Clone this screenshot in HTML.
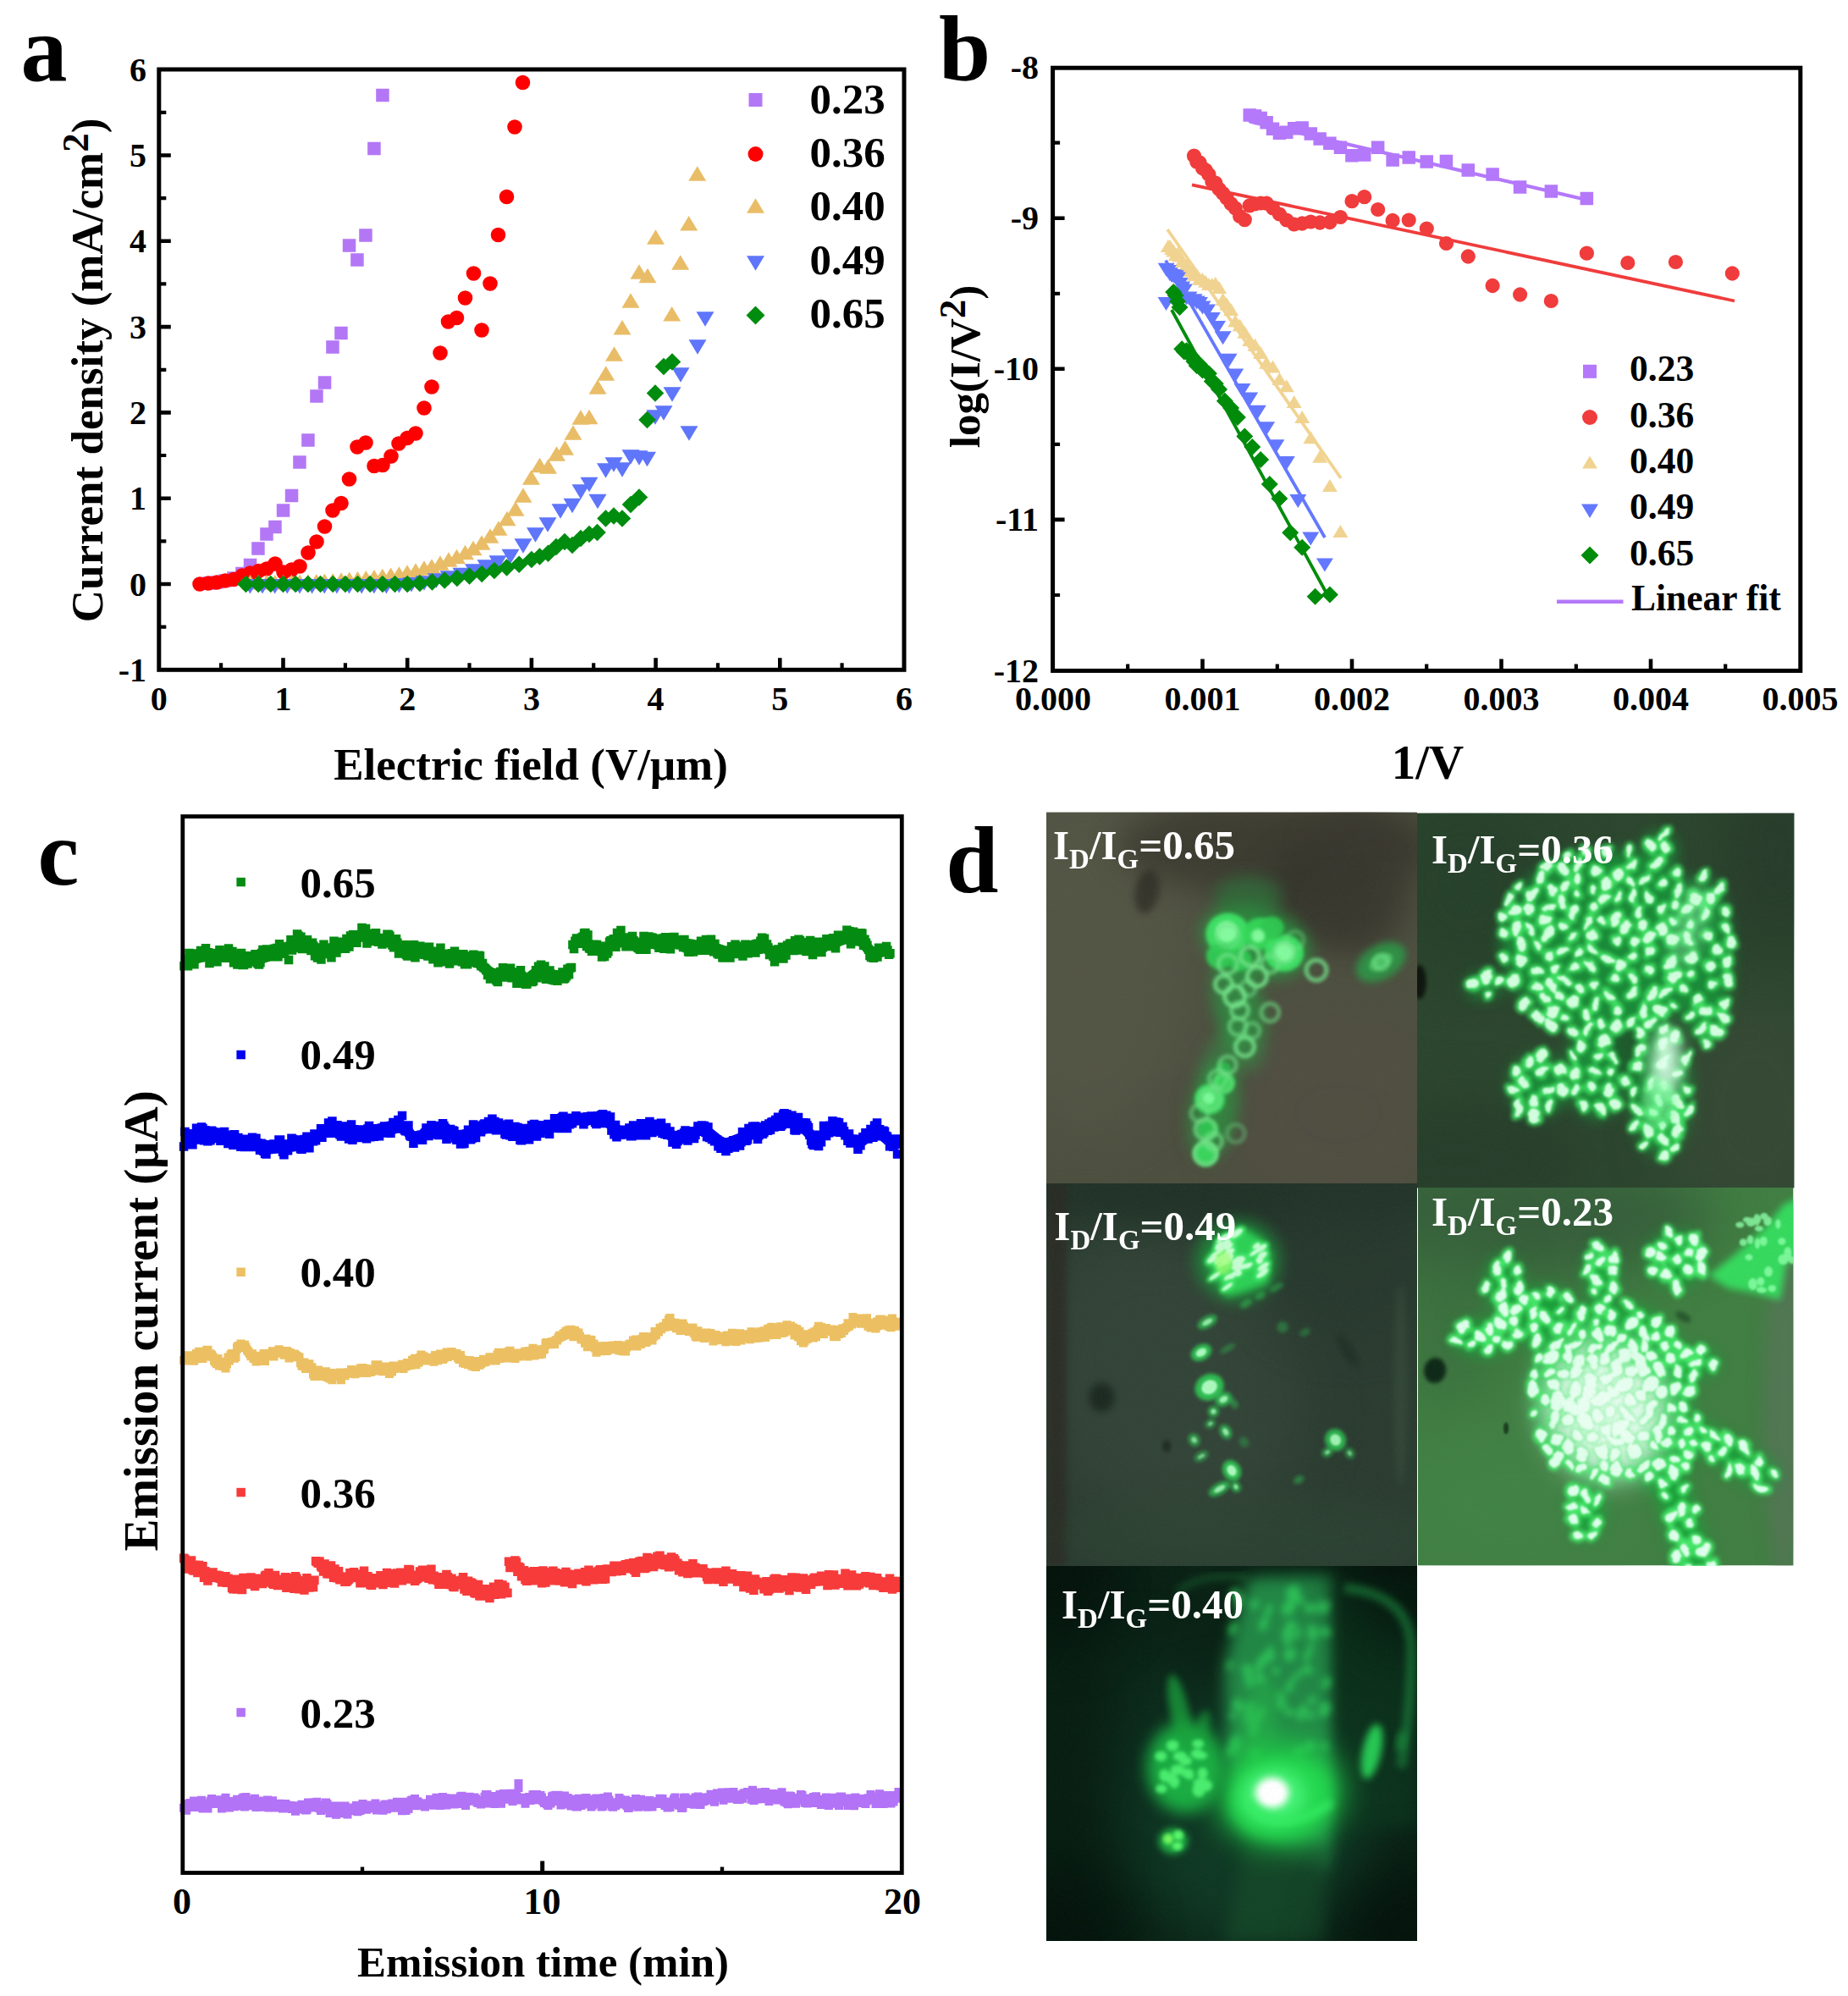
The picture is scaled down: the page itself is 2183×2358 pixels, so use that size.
<!DOCTYPE html>
<html><head><meta charset="utf-8"><title>Figure</title>
<style>html,body{margin:0;padding:0;background:#fff}svg{display:block}text{font-family:'Liberation Serif','DejaVu Serif',serif}</style>
</head><body>
<svg width="2183" height="2358" viewBox="0 0 2183 2358">
<rect width="2183" height="2358" fill="#fff"/>
<g id="panel-a">
<path fill="#b377f6" d="M444.2,104.8h15.5v15.5h-15.5zM434.2,167.8h15.5v15.5h-15.5zM424.2,270.2h15.5v15.5h-15.5zM404.8,282.2h15.5v15.5h-15.5zM414.2,299.2h15.5v15.5h-15.5zM395.2,385.8h15.5v15.5h-15.5zM385.2,402.2h15.5v15.5h-15.5zM375.8,444.2h15.5v15.5h-15.5zM366.2,460.2h15.5v15.5h-15.5zM356.2,512.2h15.5v15.5h-15.5zM346.2,538.2h15.5v15.5h-15.5zM336.8,577.8h15.5v15.5h-15.5zM326.8,595.2h15.5v15.5h-15.5zM317.2,614.8h15.5v15.5h-15.5zM307.2,623.2h15.5v15.5h-15.5zM297.2,640.2h15.5v15.5h-15.5zM287.8,659.8h15.5v15.5h-15.5zM278.2,669.8h15.5v15.5h-15.5zM268.2,675.2h15.5v15.5h-15.5zM258.2,678.2h15.5v15.5h-15.5zM248.2,680.2h15.5v15.5h-15.5zM239.2,681.2h15.5v15.5h-15.5z"/>
<path fill="#ff0000" d="M608.7,97.5a8.8,8.8 0 1,0 17.6,0a8.8,8.8 0 1,0 -17.6,0zM599.2,150.0a8.8,8.8 0 1,0 17.6,0a8.8,8.8 0 1,0 -17.6,0zM589.7,232.5a8.8,8.8 0 1,0 17.6,0a8.8,8.8 0 1,0 -17.6,0zM579.7,277.5a8.8,8.8 0 1,0 17.6,0a8.8,8.8 0 1,0 -17.6,0zM570.2,335.0a8.8,8.8 0 1,0 17.6,0a8.8,8.8 0 1,0 -17.6,0zM560.2,390.0a8.8,8.8 0 1,0 17.6,0a8.8,8.8 0 1,0 -17.6,0zM550.7,323.0a8.8,8.8 0 1,0 17.6,0a8.8,8.8 0 1,0 -17.6,0zM540.7,352.0a8.8,8.8 0 1,0 17.6,0a8.8,8.8 0 1,0 -17.6,0zM530.7,375.5a8.8,8.8 0 1,0 17.6,0a8.8,8.8 0 1,0 -17.6,0zM520.7,380.0a8.8,8.8 0 1,0 17.6,0a8.8,8.8 0 1,0 -17.6,0zM511.2,417.0a8.8,8.8 0 1,0 17.6,0a8.8,8.8 0 1,0 -17.6,0zM501.2,457.0a8.8,8.8 0 1,0 17.6,0a8.8,8.8 0 1,0 -17.6,0zM492.2,482.0a8.8,8.8 0 1,0 17.6,0a8.8,8.8 0 1,0 -17.6,0zM482.2,512.0a8.8,8.8 0 1,0 17.6,0a8.8,8.8 0 1,0 -17.6,0zM472.2,517.5a8.8,8.8 0 1,0 17.6,0a8.8,8.8 0 1,0 -17.6,0zM462.2,524.0a8.8,8.8 0 1,0 17.6,0a8.8,8.8 0 1,0 -17.6,0zM453.2,539.0a8.8,8.8 0 1,0 17.6,0a8.8,8.8 0 1,0 -17.6,0zM443.2,549.5a8.8,8.8 0 1,0 17.6,0a8.8,8.8 0 1,0 -17.6,0zM433.2,550.5a8.8,8.8 0 1,0 17.6,0a8.8,8.8 0 1,0 -17.6,0zM423.2,523.0a8.8,8.8 0 1,0 17.6,0a8.8,8.8 0 1,0 -17.6,0zM413.2,528.0a8.8,8.8 0 1,0 17.6,0a8.8,8.8 0 1,0 -17.6,0zM403.7,566.0a8.8,8.8 0 1,0 17.6,0a8.8,8.8 0 1,0 -17.6,0zM394.2,594.5a8.8,8.8 0 1,0 17.6,0a8.8,8.8 0 1,0 -17.6,0zM384.2,603.0a8.8,8.8 0 1,0 17.6,0a8.8,8.8 0 1,0 -17.6,0zM374.7,622.0a8.8,8.8 0 1,0 17.6,0a8.8,8.8 0 1,0 -17.6,0zM365.2,640.0a8.8,8.8 0 1,0 17.6,0a8.8,8.8 0 1,0 -17.6,0zM355.2,653.0a8.8,8.8 0 1,0 17.6,0a8.8,8.8 0 1,0 -17.6,0zM345.2,669.0a8.8,8.8 0 1,0 17.6,0a8.8,8.8 0 1,0 -17.6,0zM335.7,673.0a8.8,8.8 0 1,0 17.6,0a8.8,8.8 0 1,0 -17.6,0zM326.2,676.0a8.8,8.8 0 1,0 17.6,0a8.8,8.8 0 1,0 -17.6,0zM316.2,666.0a8.8,8.8 0 1,0 17.6,0a8.8,8.8 0 1,0 -17.6,0zM306.2,672.0a8.8,8.8 0 1,0 17.6,0a8.8,8.8 0 1,0 -17.6,0zM296.7,674.5a8.8,8.8 0 1,0 17.6,0a8.8,8.8 0 1,0 -17.6,0zM286.7,677.0a8.8,8.8 0 1,0 17.6,0a8.8,8.8 0 1,0 -17.6,0zM277.2,680.0a8.8,8.8 0 1,0 17.6,0a8.8,8.8 0 1,0 -17.6,0zM267.2,684.5a8.8,8.8 0 1,0 17.6,0a8.8,8.8 0 1,0 -17.6,0zM257.2,686.0a8.8,8.8 0 1,0 17.6,0a8.8,8.8 0 1,0 -17.6,0zM247.2,688.0a8.8,8.8 0 1,0 17.6,0a8.8,8.8 0 1,0 -17.6,0zM237.2,689.0a8.8,8.8 0 1,0 17.6,0a8.8,8.8 0 1,0 -17.6,0zM227.2,690.0a8.8,8.8 0 1,0 17.6,0a8.8,8.8 0 1,0 -17.6,0z"/>
<path fill="#e9bd67" d="M285.0,696.5h21l-10.5,-17.5zM294.8,696.5h21l-10.5,-17.5zM304.5,696.5h21l-10.5,-17.5zM314.3,696.5h21l-10.5,-17.5zM324.1,696.4h21l-10.5,-17.5zM333.8,696.2h21l-10.5,-17.5zM343.6,696.0h21l-10.5,-17.5zM353.4,695.7h21l-10.5,-17.5zM363.2,695.4h21l-10.5,-17.5zM372.9,694.9h21l-10.5,-17.5zM382.7,694.4h21l-10.5,-17.5zM392.5,693.8h21l-10.5,-17.5zM402.2,693.1h21l-10.5,-17.5zM412.0,692.3h21l-10.5,-17.5zM421.8,691.4h21l-10.5,-17.5zM431.5,690.4h21l-10.5,-17.5zM441.3,689.3h21l-10.5,-17.5zM451.1,688.1h21l-10.5,-17.5zM460.9,686.7h21l-10.5,-17.5zM470.5,684.8h21l-10.5,-17.5zM480.5,682.8h21l-10.5,-17.5zM490.5,679.8h21l-10.5,-17.5zM499.5,677.8h21l-10.5,-17.5zM509.5,673.8h21l-10.5,-17.5zM519.5,669.8h21l-10.5,-17.5zM529.0,666.2h21l-10.5,-17.5zM539.0,661.2h21l-10.5,-17.5zM548.5,656.2h21l-10.5,-17.5zM558.5,649.8h21l-10.5,-17.5zM568.5,641.8h21l-10.5,-17.5zM578.5,632.8h21l-10.5,-17.5zM588.5,621.2h21l-10.5,-17.5zM598.5,609.8h21l-10.5,-17.5zM607.5,593.8h21l-10.5,-17.5zM617.0,572.8h21l-10.5,-17.5zM627.0,558.2h21l-10.5,-17.5zM637.0,559.8h21l-10.5,-17.5zM647.0,544.8h21l-10.5,-17.5zM657.0,537.8h21l-10.5,-17.5zM666.5,519.8h21l-10.5,-17.5zM675.5,501.8h21l-10.5,-17.5zM685.5,501.2h21l-10.5,-17.5zM695.5,465.8h21l-10.5,-17.5zM705.2,449.8h21l-10.5,-17.5zM715.0,426.8h21l-10.5,-17.5zM724.5,395.5h21l-10.5,-17.5zM734.5,363.8h21l-10.5,-17.5zM744.5,329.8h21l-10.5,-17.5zM754.5,334.2h21l-10.5,-17.5zM764.0,288.8h21l-10.5,-17.5zM783.2,379.5h21l-10.5,-17.5zM793.2,318.8h21l-10.5,-17.5zM803.2,272.5h21l-10.5,-17.5zM813.2,213.8h21l-10.5,-17.5z"/>
<path fill="#5f75fa" d="M284.9,683.9h21l-10.5,17.5zM299.5,683.9h21l-10.5,17.5zM314.2,683.9h21l-10.5,17.5zM328.8,683.9h21l-10.5,17.5zM343.5,683.9h21l-10.5,17.5zM358.1,683.9h21l-10.5,17.5zM372.7,683.9h21l-10.5,17.5zM387.4,683.9h21l-10.5,17.5zM402.0,683.9h21l-10.5,17.5zM416.7,683.9h21l-10.5,17.5zM431.3,683.9h21l-10.5,17.5zM445.9,683.9h21l-10.5,17.5zM461.0,683.0h21l-10.5,17.5zM475.5,681.9h21l-10.5,17.5zM490.5,680.2h21l-10.5,17.5zM505.0,677.2h21l-10.5,17.5zM519.5,674.2h21l-10.5,17.5zM534.5,670.8h21l-10.5,17.5zM549.0,666.2h21l-10.5,17.5zM563.5,661.2h21l-10.5,17.5zM577.5,656.2h21l-10.5,17.5zM592.5,648.8h21l-10.5,17.5zM607.5,636.2h21l-10.5,17.5zM622.0,623.2h21l-10.5,17.5zM636.5,611.2h21l-10.5,17.5zM651.5,595.2h21l-10.5,17.5zM665.5,588.8h21l-10.5,17.5zM675.5,572.2h21l-10.5,17.5zM685.5,563.8h21l-10.5,17.5zM695.5,583.8h21l-10.5,17.5zM705.0,547.2h21l-10.5,17.5zM714.5,540.2h21l-10.5,17.5zM724.5,546.2h21l-10.5,17.5zM734.5,531.2h21l-10.5,17.5zM744.5,532.2h21l-10.5,17.5zM754.0,533.8h21l-10.5,17.5zM763.5,484.2h21l-10.5,17.5zM773.5,479.2h21l-10.5,17.5zM783.5,457.2h21l-10.5,17.5zM793.5,434.2h21l-10.5,17.5zM803.5,503.2h21l-10.5,17.5zM813.5,401.2h21l-10.5,17.5zM822.5,368.2h21l-10.5,17.5z"/>
<path fill="#008c0f" d="M280.2,690.0l10.3,-10.3l10.3,10.3l-10.3,10.3zM294.9,690.0l10.3,-10.3l10.3,10.3l-10.3,10.3zM309.5,690.0l10.3,-10.3l10.3,10.3l-10.3,10.3zM324.2,690.0l10.3,-10.3l10.3,10.3l-10.3,10.3zM338.9,690.0l10.3,-10.3l10.3,10.3l-10.3,10.3zM353.5,690.0l10.3,-10.3l10.3,10.3l-10.3,10.3zM368.2,690.0l10.3,-10.3l10.3,10.3l-10.3,10.3zM382.9,690.0l10.3,-10.3l10.3,10.3l-10.3,10.3zM397.6,690.0l10.3,-10.3l10.3,10.3l-10.3,10.3zM412.2,690.0l10.3,-10.3l10.3,10.3l-10.3,10.3zM426.9,690.0l10.3,-10.3l10.3,10.3l-10.3,10.3zM441.6,690.0l10.3,-10.3l10.3,10.3l-10.3,10.3zM456.2,690.0l10.3,-10.3l10.3,10.3l-10.3,10.3zM470.9,690.0l10.3,-10.3l10.3,10.3l-10.3,10.3zM485.6,689.0l10.3,-10.3l10.3,10.3l-10.3,10.3zM500.2,687.5l10.3,-10.3l10.3,10.3l-10.3,10.3zM514.9,685.5l10.3,-10.3l10.3,10.3l-10.3,10.3zM529.6,683.0l10.3,-10.3l10.3,10.3l-10.3,10.3zM544.2,680.5l10.3,-10.3l10.3,10.3l-10.3,10.3zM558.9,678.0l10.3,-10.3l10.3,10.3l-10.3,10.3zM573.6,674.0l10.3,-10.3l10.3,10.3l-10.3,10.3zM588.3,670.5l10.3,-10.3l10.3,10.3l-10.3,10.3zM602.9,666.8l10.3,-10.3l10.3,10.3l-10.3,10.3zM617.6,661.0l10.3,-10.3l10.3,10.3l-10.3,10.3zM627.2,657.5l10.3,-10.3l10.3,10.3l-10.3,10.3zM637.2,653.8l10.3,-10.3l10.3,10.3l-10.3,10.3zM646.7,646.0l10.3,-10.3l10.3,10.3l-10.3,10.3zM656.7,640.0l10.3,-10.3l10.3,10.3l-10.3,10.3zM665.7,644.0l10.3,-10.3l10.3,10.3l-10.3,10.3zM675.7,636.0l10.3,-10.3l10.3,10.3l-10.3,10.3zM685.7,631.0l10.3,-10.3l10.3,10.3l-10.3,10.3zM695.2,629.0l10.3,-10.3l10.3,10.3l-10.3,10.3zM705.2,612.5l10.3,-10.3l10.3,10.3l-10.3,10.3zM714.7,609.5l10.3,-10.3l10.3,10.3l-10.3,10.3zM724.7,612.5l10.3,-10.3l10.3,10.3l-10.3,10.3zM734.7,596.0l10.3,-10.3l10.3,10.3l-10.3,10.3zM744.7,587.5l10.3,-10.3l10.3,10.3l-10.3,10.3zM754.2,496.0l10.3,-10.3l10.3,10.3l-10.3,10.3zM763.7,464.5l10.3,-10.3l10.3,10.3l-10.3,10.3zM773.7,433.0l10.3,-10.3l10.3,10.3l-10.3,10.3zM783.7,427.5l10.3,-10.3l10.3,10.3l-10.3,10.3z"/>
<rect x="187.8" y="82.0" width="880.2" height="709.3" fill="none" stroke="#000" stroke-width="5"/>
<path d="M187.8,690.0h14M187.8,588.7h14M187.8,487.4h14M187.8,386.1h14M187.8,284.8h14M187.8,183.5h14" stroke="#000" stroke-width="4.6" fill="none"/>
<path d="M187.8,740.6h8.5M187.8,639.4h8.5M187.8,538.0h8.5M187.8,436.8h8.5M187.8,335.4h8.5M187.8,234.2h8.5M187.8,132.9h8.5" stroke="#000" stroke-width="4.2" fill="none"/>
<path d="M334.5,791.3v-14M481.2,791.3v-14M627.9,791.3v-14M774.6,791.3v-14M921.3,791.3v-14" stroke="#000" stroke-width="4.6" fill="none"/>
<path d="M261.1,791.3v-8M407.9,791.3v-8M554.5,791.3v-8M701.2,791.3v-8M848.0,791.3v-8M994.6,791.3v-8" stroke="#000" stroke-width="4.2" fill="none"/>
<text x="173.0" y="804.8" font-size="40" text-anchor="end" fill="#000" font-weight="bold" >-1</text>
<text x="173.0" y="703.5" font-size="40" text-anchor="end" fill="#000" font-weight="bold" >0</text>
<text x="173.0" y="602.2" font-size="40" text-anchor="end" fill="#000" font-weight="bold" >1</text>
<text x="173.0" y="500.9" font-size="40" text-anchor="end" fill="#000" font-weight="bold" >2</text>
<text x="173.0" y="399.6" font-size="40" text-anchor="end" fill="#000" font-weight="bold" >3</text>
<text x="173.0" y="298.3" font-size="40" text-anchor="end" fill="#000" font-weight="bold" >4</text>
<text x="173.0" y="197.0" font-size="40" text-anchor="end" fill="#000" font-weight="bold" >5</text>
<text x="173.0" y="95.7" font-size="40" text-anchor="end" fill="#000" font-weight="bold" >6</text>
<text x="187.8" y="838.5" font-size="40" text-anchor="middle" fill="#000" font-weight="bold" >0</text>
<text x="334.5" y="838.5" font-size="40" text-anchor="middle" fill="#000" font-weight="bold" >1</text>
<text x="481.2" y="838.5" font-size="40" text-anchor="middle" fill="#000" font-weight="bold" >2</text>
<text x="627.9" y="838.5" font-size="40" text-anchor="middle" fill="#000" font-weight="bold" >3</text>
<text x="774.6" y="838.5" font-size="40" text-anchor="middle" fill="#000" font-weight="bold" >4</text>
<text x="921.3" y="838.5" font-size="40" text-anchor="middle" fill="#000" font-weight="bold" >5</text>
<text x="1068.0" y="838.5" font-size="40" text-anchor="middle" fill="#000" font-weight="bold" >6</text>
<path fill="#b377f6" d="M884.5,110.0h16v16h-16z"/>
<path fill="#ff0000" d="M883.5,182.0a9,9 0 1,0 18,0a9,9 0 1,0 -18,0z"/>
<path fill="#e9bd67" d="M882.0,251.8h21l-10.5,-17.5z"/>
<path fill="#5f75fa" d="M882.0,302.2h21l-10.5,17.5z"/>
<path fill="#008c0f" d="M881.5,372.5l11,-11l11,11l-11,11z"/>
<text x="956.5" y="134.0" font-size="51" text-anchor="start" fill="#000" font-weight="bold" >0.23</text>
<text x="956.5" y="196.5" font-size="51" text-anchor="start" fill="#000" font-weight="bold" >0.36</text>
<text x="956.5" y="260.0" font-size="51" text-anchor="start" fill="#000" font-weight="bold" >0.40</text>
<text x="956.5" y="324.0" font-size="51" text-anchor="start" fill="#000" font-weight="bold" >0.49</text>
<text x="956.5" y="386.5" font-size="51" text-anchor="start" fill="#000" font-weight="bold" >0.65</text>
<text transform="translate(120.5,437.5) rotate(-90)" font-size="53" text-anchor="middle" font-weight="bold">Current density (mA/cm<tspan dy="-17" font-size="45">2</tspan><tspan dy="17">)</tspan></text>
<text x="627.0" y="921.0" font-size="53" text-anchor="middle" fill="#000" font-weight="bold" >Electric field (V/μm)</text>
<text x="52.0" y="95.0" font-size="110" text-anchor="middle" fill="#000" font-weight="bold" >a</text>
</g>
<g id="panel-b">
<path fill="#b478fb" d="M1866.6,226.8h15.5v15.5h-15.5zM1824.6,218.2h15.5v15.5h-15.5zM1787.8,213.3h15.5v15.5h-15.5zM1755.4,198.3h15.5v15.5h-15.5zM1726.5,193.3h15.5v15.5h-15.5zM1700.7,182.8h15.5v15.5h-15.5zM1677.5,183.2h15.5v15.5h-15.5zM1656.5,178.3h15.5v15.5h-15.5zM1637.4,181.2h15.5v15.5h-15.5zM1619.9,166.4h15.5v15.5h-15.5zM1604.0,175.3h15.5v15.5h-15.5zM1589.2,175.9h15.5v15.5h-15.5zM1575.7,166.4h15.5v15.5h-15.5zM1563.1,161.5h15.5v15.5h-15.5zM1551.4,156.3h15.5v15.5h-15.5zM1540.6,150.2h15.5v15.5h-15.5zM1530.4,143.2h15.5v15.5h-15.5zM1520.9,144.0h15.5v15.5h-15.5zM1512.0,148.4h15.5v15.5h-15.5zM1503.7,149.6h15.5v15.5h-15.5zM1495.8,144.4h15.5v15.5h-15.5zM1488.4,137.1h15.5v15.5h-15.5zM1481.4,131.7h15.5v15.5h-15.5zM1474.8,129.3h15.5v15.5h-15.5zM1468.5,128.3h15.5v15.5h-15.5z"/>
<path d="M1476,143.5L1876,236.5" stroke="#b478fb" stroke-width="4.2" fill="none"/>
<path fill="#f03c3c" d="M1401.9,184.1a8.6,8.6 0 1,0 17.2,0a8.6,8.6 0 1,0 -17.2,0zM1405.1,191.1a8.6,8.6 0 1,0 17.2,0a8.6,8.6 0 1,0 -17.2,0zM1408.4,192.0a8.6,8.6 0 1,0 17.2,0a8.6,8.6 0 1,0 -17.2,0zM1411.9,198.7a8.6,8.6 0 1,0 17.2,0a8.6,8.6 0 1,0 -17.2,0zM1415.5,200.8a8.6,8.6 0 1,0 17.2,0a8.6,8.6 0 1,0 -17.2,0zM1419.3,206.2a8.6,8.6 0 1,0 17.2,0a8.6,8.6 0 1,0 -17.2,0zM1423.2,214.2a8.6,8.6 0 1,0 17.2,0a8.6,8.6 0 1,0 -17.2,0zM1427.2,216.2a8.6,8.6 0 1,0 17.2,0a8.6,8.6 0 1,0 -17.2,0zM1431.5,223.4a8.6,8.6 0 1,0 17.2,0a8.6,8.6 0 1,0 -17.2,0zM1436.0,228.3a8.6,8.6 0 1,0 17.2,0a8.6,8.6 0 1,0 -17.2,0zM1440.6,234.2a8.6,8.6 0 1,0 17.2,0a8.6,8.6 0 1,0 -17.2,0zM1445.5,240.6a8.6,8.6 0 1,0 17.2,0a8.6,8.6 0 1,0 -17.2,0zM1450.6,245.9a8.6,8.6 0 1,0 17.2,0a8.6,8.6 0 1,0 -17.2,0zM1456.0,255.3a8.6,8.6 0 1,0 17.2,0a8.6,8.6 0 1,0 -17.2,0zM1461.7,259.6a8.6,8.6 0 1,0 17.2,0a8.6,8.6 0 1,0 -17.2,0zM1467.6,242.9a8.6,8.6 0 1,0 17.2,0a8.6,8.6 0 1,0 -17.2,0zM1473.9,241.0a8.6,8.6 0 1,0 17.2,0a8.6,8.6 0 1,0 -17.2,0zM1480.5,240.0a8.6,8.6 0 1,0 17.2,0a8.6,8.6 0 1,0 -17.2,0zM1487.5,240.1a8.6,8.6 0 1,0 17.2,0a8.6,8.6 0 1,0 -17.2,0zM1495.0,246.0a8.6,8.6 0 1,0 17.2,0a8.6,8.6 0 1,0 -17.2,0zM1502.8,253.0a8.6,8.6 0 1,0 17.2,0a8.6,8.6 0 1,0 -17.2,0zM1511.2,260.0a8.6,8.6 0 1,0 17.2,0a8.6,8.6 0 1,0 -17.2,0zM1520.1,265.0a8.6,8.6 0 1,0 17.2,0a8.6,8.6 0 1,0 -17.2,0zM1529.6,264.0a8.6,8.6 0 1,0 17.2,0a8.6,8.6 0 1,0 -17.2,0zM1539.7,262.0a8.6,8.6 0 1,0 17.2,0a8.6,8.6 0 1,0 -17.2,0zM1550.6,263.0a8.6,8.6 0 1,0 17.2,0a8.6,8.6 0 1,0 -17.2,0zM1562.3,262.5a8.6,8.6 0 1,0 17.2,0a8.6,8.6 0 1,0 -17.2,0zM1574.8,256.5a8.6,8.6 0 1,0 17.2,0a8.6,8.6 0 1,0 -17.2,0zM1588.4,237.7a8.6,8.6 0 1,0 17.2,0a8.6,8.6 0 1,0 -17.2,0zM1603.1,232.7a8.6,8.6 0 1,0 17.2,0a8.6,8.6 0 1,0 -17.2,0zM1619.1,247.5a8.6,8.6 0 1,0 17.2,0a8.6,8.6 0 1,0 -17.2,0zM1636.5,260.5a8.6,8.6 0 1,0 17.2,0a8.6,8.6 0 1,0 -17.2,0zM1655.6,260.0a8.6,8.6 0 1,0 17.2,0a8.6,8.6 0 1,0 -17.2,0zM1676.7,270.0a8.6,8.6 0 1,0 17.2,0a8.6,8.6 0 1,0 -17.2,0zM1699.9,287.5a8.6,8.6 0 1,0 17.2,0a8.6,8.6 0 1,0 -17.2,0zM1725.7,303.0a8.6,8.6 0 1,0 17.2,0a8.6,8.6 0 1,0 -17.2,0zM1754.5,337.5a8.6,8.6 0 1,0 17.2,0a8.6,8.6 0 1,0 -17.2,0zM1787.0,348.0a8.6,8.6 0 1,0 17.2,0a8.6,8.6 0 1,0 -17.2,0zM1823.7,355.5a8.6,8.6 0 1,0 17.2,0a8.6,8.6 0 1,0 -17.2,0zM1865.8,299.1a8.6,8.6 0 1,0 17.2,0a8.6,8.6 0 1,0 -17.2,0zM1914.2,310.5a8.6,8.6 0 1,0 17.2,0a8.6,8.6 0 1,0 -17.2,0zM1970.8,309.5a8.6,8.6 0 1,0 17.2,0a8.6,8.6 0 1,0 -17.2,0zM2037.7,323.0a8.6,8.6 0 1,0 17.2,0a8.6,8.6 0 1,0 -17.2,0z"/>
<path d="M1408,218.3L2049,355.5" stroke="#f03c3c" stroke-width="3.8" fill="none"/>
<path fill="#f1d391" d="M1370.8,297.9h18l-9.0,-15.0zM1372.9,298.0h18l-9.0,-15.0zM1375.1,301.0h18l-9.0,-15.0zM1377.3,303.5h18l-9.0,-15.0zM1379.7,308.3h18l-9.0,-15.0zM1382.1,306.6h18l-9.0,-15.0zM1384.6,309.6h18l-9.0,-15.0zM1387.2,315.7h18l-9.0,-15.0zM1389.8,324.3h18l-9.0,-15.0zM1392.6,320.6h18l-9.0,-15.0zM1395.5,326.4h18l-9.0,-15.0zM1398.4,327.3h18l-9.0,-15.0zM1401.5,331.5h18l-9.0,-15.0zM1404.7,332.0h18l-9.0,-15.0zM1408.0,336.7h18l-9.0,-15.0zM1411.5,337.1h18l-9.0,-15.0zM1415.1,339.8h18l-9.0,-15.0zM1418.9,343.1h18l-9.0,-15.0zM1422.8,342.9h18l-9.0,-15.0zM1426.8,342.0h18l-9.0,-15.0zM1431.1,346.9h18l-9.0,-15.0zM1435.6,361.0h18l-9.0,-15.0zM1440.2,366.5h18l-9.0,-15.0zM1445.1,373.0h18l-9.0,-15.0zM1450.2,386.5h18l-9.0,-15.0zM1455.6,391.5h18l-9.0,-15.0zM1461.3,399.7h18l-9.0,-15.0zM1467.2,409.1h18l-9.0,-15.0zM1473.5,414.8h18l-9.0,-15.0zM1480.1,424.1h18l-9.0,-15.0zM1487.1,435.8h18l-9.0,-15.0zM1494.6,440.5h18l-9.0,-15.0zM1502.4,454.9h18l-9.0,-15.0zM1510.8,463.2h18l-9.0,-15.0zM1519.7,482.1h18l-9.0,-15.0zM1529.2,500.1h18l-9.0,-15.0zM1539.3,524.2h18l-9.0,-15.0zM1550.2,546.8h18l-9.0,-15.0zM1561.9,581.1h18l-9.0,-15.0zM1574.4,635.0h18l-9.0,-15.0z"/>
<path d="M1379,271L1584,565" stroke="#f1d391" stroke-width="3.8" fill="none"/>
<path fill="#6478ff" d="M1367.7,310.8h20l-10.0,16.0zM1369.8,312.9h20l-10.0,16.0zM1371.9,316.3h20l-10.0,16.0zM1374.1,317.9h20l-10.0,16.0zM1376.3,318.5h20l-10.0,16.0zM1378.7,319.3h20l-10.0,16.0zM1381.1,321.5h20l-10.0,16.0zM1383.6,327.9h20l-10.0,16.0zM1386.2,332.6h20l-10.0,16.0zM1388.8,335.4h20l-10.0,16.0zM1391.6,344.4h20l-10.0,16.0zM1394.5,344.5h20l-10.0,16.0zM1397.4,347.5h20l-10.0,16.0zM1400.5,347.2h20l-10.0,16.0zM1403.7,349.6h20l-10.0,16.0zM1407.0,351.1h20l-10.0,16.0zM1410.5,355.5h20l-10.0,16.0zM1416.0,359.5h20l-10.0,16.0zM1421.8,369.0h20l-10.0,16.0zM1428.0,379.0h20l-10.0,16.0zM1434.6,391.3h20l-10.0,16.0zM1441.6,417.7h20l-10.0,16.0zM1449.2,435.5h20l-10.0,16.0zM1457.4,453.0h20l-10.0,16.0zM1466.2,463.5h20l-10.0,16.0zM1475.8,478.7h20l-10.0,16.0zM1486.1,498.3h20l-10.0,16.0zM1497.4,519.3h20l-10.0,16.0zM1509.8,539.1h20l-10.0,16.0zM1523.3,584.0h20l-10.0,16.0zM1538.3,628.5h20l-10.0,16.0zM1554.9,659.5h20l-10.0,16.0zM1367.5,351.0h20l-10.0,16.0z"/>
<path d="M1377,307.6L1565,635" stroke="#6478ff" stroke-width="3.8" fill="none"/>
<path fill="#008c0a" d="M1376.2,345.0l10,-10l10,10l-10,10zM1378.6,349.0l10,-10l10,10l-10,10zM1381.0,356.0l10,-10l10,10l-10,10zM1383.5,363.0l10,-10l10,10l-10,10zM1386.2,412.3l10,-10l10,10l-10,10zM1388.8,415.5l10,-10l10,10l-10,10zM1391.6,414.3l10,-10l10,10l-10,10zM1394.5,418.7l10,-10l10,10l-10,10zM1397.4,420.6l10,-10l10,10l-10,10zM1400.5,426.9l10,-10l10,10l-10,10zM1403.7,431.9l10,-10l10,10l-10,10zM1407.0,430.6l10,-10l10,10l-10,10zM1410.5,437.4l10,-10l10,10l-10,10zM1414.1,438.5l10,-10l10,10l-10,10zM1417.9,441.3l10,-10l10,10l-10,10zM1421.8,450.5l10,-10l10,10l-10,10zM1425.8,453.2l10,-10l10,10l-10,10zM1430.1,459.9l10,-10l10,10l-10,10zM1436.9,473.7l10,-10l10,10l-10,10zM1444.1,482.1l10,-10l10,10l-10,10zM1451.9,493.0l10,-10l10,10l-10,10zM1460.3,515.4l10,-10l10,10l-10,10zM1469.3,528.0l10,-10l10,10l-10,10zM1479.1,542.9l10,-10l10,10l-10,10zM1489.8,572.1l10,-10l10,10l-10,10zM1501.4,588.9l10,-10l10,10l-10,10zM1514.2,629.2l10,-10l10,10l-10,10zM1528.2,646.7l10,-10l10,10l-10,10zM1543.6,704.8l10,-10l10,10l-10,10zM1560.9,702.5l10,-10l10,10l-10,10z"/>
<path d="M1384,366L1566,699" stroke="#008c0a" stroke-width="3.8" fill="none"/>
<rect x="1243.6" y="80.2" width="883.2000000000003" height="712.1999999999999" fill="none" stroke="#000" stroke-width="5"/>
<path d="M1243.6,257.7h14M1243.6,435.8h14M1243.6,613.9h14" stroke="#000" stroke-width="4.6" fill="none"/>
<path d="M1243.6,168.6h8.5M1243.6,346.8h8.5M1243.6,524.9h8.5M1243.6,703.0h8.5" stroke="#000" stroke-width="4.2" fill="none"/>
<path d="M1420.5,792.4v-14M1597.0,792.4v-14M1773.5,792.4v-14M1950.0,792.4v-14" stroke="#000" stroke-width="4.6" fill="none"/>
<path d="M1332.2,792.4v-8M1508.8,792.4v-8M1685.2,792.4v-8M1861.8,792.4v-8M2038.2,792.4v-8" stroke="#000" stroke-width="4.2" fill="none"/>
<text x="1227.0" y="93.1" font-size="40" text-anchor="end" fill="#000" font-weight="bold" >-8</text>
<text x="1227.0" y="271.2" font-size="40" text-anchor="end" fill="#000" font-weight="bold" >-9</text>
<text x="1227.0" y="449.3" font-size="40" text-anchor="end" fill="#000" font-weight="bold" >-10</text>
<text x="1227.0" y="627.4" font-size="40" text-anchor="end" fill="#000" font-weight="bold" >-11</text>
<text x="1227.0" y="805.5" font-size="40" text-anchor="end" fill="#000" font-weight="bold" >-12</text>
<text x="1244.0" y="838.5" font-size="40" text-anchor="middle" fill="#000" font-weight="bold" >0.000</text>
<text x="1420.5" y="838.5" font-size="40" text-anchor="middle" fill="#000" font-weight="bold" >0.001</text>
<text x="1597.0" y="838.5" font-size="40" text-anchor="middle" fill="#000" font-weight="bold" >0.002</text>
<text x="1773.5" y="838.5" font-size="40" text-anchor="middle" fill="#000" font-weight="bold" >0.003</text>
<text x="1950.0" y="838.5" font-size="40" text-anchor="middle" fill="#000" font-weight="bold" >0.004</text>
<text x="2126.5" y="838.5" font-size="40" text-anchor="middle" fill="#000" font-weight="bold" >0.005</text>
<path fill="#b478fb" d="M1870.0,430.8h16v16h-16z"/>
<path fill="#f03c3c" d="M1869.0,493.0a9,9 0 1,0 18,0a9,9 0 1,0 -18,0z"/>
<path fill="#f1d391" d="M1869.0,553.5h18l-9.0,-15.0z"/>
<path fill="#6478ff" d="M1868.0,595.5h20l-10.0,16.5z"/>
<path fill="#008c0a" d="M1867.5,656.0l10.5,-10.5l10.5,10.5l-10.5,10.5z"/>
<path d="M1839,710.75H1917.5" stroke="#b478fb" stroke-width="4.6"/>
<text x="1925.0" y="450.0" font-size="43.5" text-anchor="start" fill="#000" font-weight="bold" >0.23</text>
<text x="1925.0" y="504.5" font-size="43.5" text-anchor="start" fill="#000" font-weight="bold" >0.36</text>
<text x="1925.0" y="558.8" font-size="43.5" text-anchor="start" fill="#000" font-weight="bold" >0.40</text>
<text x="1925.0" y="613.0" font-size="43.5" text-anchor="start" fill="#000" font-weight="bold" >0.49</text>
<text x="1925.0" y="667.5" font-size="43.5" text-anchor="start" fill="#000" font-weight="bold" >0.65</text>
<text x="1927.0" y="721.0" font-size="43.5" text-anchor="start" fill="#000" font-weight="bold" >Linear fit</text>
<text transform="translate(1157,433) rotate(-90)" font-size="51" text-anchor="middle" font-weight="bold">log(I/V<tspan dy="-17" font-size="45">2</tspan><tspan dy="17">)</tspan></text>
<text x="1686.5" y="920.0" font-size="57" text-anchor="middle" fill="#000" font-weight="bold" >1/V</text>
<text x="1139.5" y="95.0" font-size="110" text-anchor="middle" fill="#000" font-weight="bold" >b</text>
</g>
<g id="panel-c">
<path d="M218,1137.5L226,1134.1L236,1130.8L244,1129.4L254,1128.7L262,1127.9L272,1128.5L280,1130.8L290,1133.0L298,1134.7L308,1132.3L316,1129.8L326,1127.2L334,1122.0L344,1116.7L352,1111.5L362,1114.9L370,1121.6L380,1124.1L388,1122.3L398,1120.5L406,1116.5L416,1111.7L424,1106.9L434,1105.1L442,1107.8L452,1110.6L460,1113.4L470,1116.5L478,1119.8L488,1123.0L496,1126.2L506,1127.9L514,1128.5L524,1129.2L532,1129.8L542,1130.7L550,1131.5L560,1132.5L568,1140.1L578,1148.1L586,1152.1L596,1151.1L604,1150.1L614,1153.6L622,1157.5L632,1150.0L640,1146.7L650,1151.9L658,1153.5L668,1149.6M676,1113.9L686,1111.3L694,1113.9L704,1121.6L712,1121.8L722,1116.1L730,1110.4L740,1109.4L748,1113.3L758,1114.7L766,1114.1L776,1113.5L784,1112.9L794,1113.0L802,1114.1L812,1115.3L820,1116.5L830,1117.6L838,1118.8L848,1121.2L856,1124.0L866,1123.5L874,1121.0L884,1118.5L892,1116.1L902,1115.5L910,1124.5L920,1126.5L928,1121.6L938,1116.7L946,1115.1L956,1117.5L964,1119.9L974,1117.2L982,1114.2L992,1111.2L1000,1108.2L1010,1109.5L1018,1112.1L1028,1123.8L1036,1125.6L1046,1123.1" fill="none" stroke="#048c12" stroke-width="13" stroke-linejoin="bevel"/>
<path fill="#048c12" d="M212.2,1135.9h10.5v10.5h-10.5zM213.8,1128.1h10.5v10.5h-10.5zM215.2,1130.5h10.5v10.5h-10.5zM216.8,1136.0h10.5v10.5h-10.5zM218.2,1120.8h10.5v10.5h-10.5zM219.8,1129.2h10.5v10.5h-10.5zM221.2,1122.7h10.5v10.5h-10.5zM222.8,1132.6h10.5v10.5h-10.5zM224.2,1133.9h10.5v10.5h-10.5zM225.8,1121.2h10.5v10.5h-10.5zM227.2,1125.7h10.5v10.5h-10.5zM228.8,1125.5h10.5v10.5h-10.5zM230.2,1123.5h10.5v10.5h-10.5zM231.8,1117.7h10.5v10.5h-10.5zM233.2,1122.7h10.5v10.5h-10.5zM234.8,1117.8h10.5v10.5h-10.5zM236.2,1121.0h10.5v10.5h-10.5zM237.8,1114.9h10.5v10.5h-10.5zM239.2,1125.4h10.5v10.5h-10.5zM240.8,1119.9h10.5v10.5h-10.5zM242.2,1132.7h10.5v10.5h-10.5zM243.8,1120.8h10.5v10.5h-10.5zM245.2,1128.0h10.5v10.5h-10.5zM246.8,1125.1h10.5v10.5h-10.5zM248.2,1129.4h10.5v10.5h-10.5zM249.8,1125.5h10.5v10.5h-10.5zM251.2,1131.1h10.5v10.5h-10.5zM252.8,1125.8h10.5v10.5h-10.5zM254.2,1117.1h10.5v10.5h-10.5zM255.8,1122.0h10.5v10.5h-10.5zM257.2,1122.1h10.5v10.5h-10.5zM258.8,1125.6h10.5v10.5h-10.5zM260.2,1121.0h10.5v10.5h-10.5zM261.8,1126.5h10.5v10.5h-10.5zM263.2,1120.8h10.5v10.5h-10.5zM264.8,1115.3h10.5v10.5h-10.5zM266.2,1124.1h10.5v10.5h-10.5zM267.8,1126.3h10.5v10.5h-10.5zM269.2,1118.8h10.5v10.5h-10.5zM270.8,1132.1h10.5v10.5h-10.5zM272.2,1126.8h10.5v10.5h-10.5zM273.8,1123.5h10.5v10.5h-10.5zM275.2,1134.3h10.5v10.5h-10.5zM276.8,1126.5h10.5v10.5h-10.5zM278.2,1126.5h10.5v10.5h-10.5zM279.8,1120.8h10.5v10.5h-10.5zM281.2,1134.7h10.5v10.5h-10.5zM282.8,1134.7h10.5v10.5h-10.5zM284.2,1131.5h10.5v10.5h-10.5zM285.8,1129.2h10.5v10.5h-10.5zM287.2,1133.3h10.5v10.5h-10.5zM288.8,1123.9h10.5v10.5h-10.5zM290.2,1128.9h10.5v10.5h-10.5zM291.8,1126.4h10.5v10.5h-10.5zM293.2,1131.2h10.5v10.5h-10.5zM294.8,1128.8h10.5v10.5h-10.5zM296.2,1122.1h10.5v10.5h-10.5zM297.8,1126.7h10.5v10.5h-10.5zM299.2,1132.9h10.5v10.5h-10.5zM300.8,1134.2h10.5v10.5h-10.5zM302.2,1132.1h10.5v10.5h-10.5zM303.8,1120.7h10.5v10.5h-10.5zM305.2,1116.8h10.5v10.5h-10.5zM306.8,1122.0h10.5v10.5h-10.5zM308.2,1125.5h10.5v10.5h-10.5zM309.8,1116.2h10.5v10.5h-10.5zM311.2,1122.2h10.5v10.5h-10.5zM312.8,1117.3h10.5v10.5h-10.5zM314.2,1122.3h10.5v10.5h-10.5zM315.8,1121.6h10.5v10.5h-10.5zM317.2,1117.9h10.5v10.5h-10.5zM318.8,1115.4h10.5v10.5h-10.5zM320.2,1125.1h10.5v10.5h-10.5zM321.8,1114.7h10.5v10.5h-10.5zM323.2,1124.9h10.5v10.5h-10.5zM324.8,1109.9h10.5v10.5h-10.5zM326.2,1118.6h10.5v10.5h-10.5zM327.8,1117.3h10.5v10.5h-10.5zM329.2,1116.4h10.5v10.5h-10.5zM330.8,1121.4h10.5v10.5h-10.5zM332.2,1115.7h10.5v10.5h-10.5zM333.8,1115.3h10.5v10.5h-10.5zM335.2,1113.2h10.5v10.5h-10.5zM336.8,1112.8h10.5v10.5h-10.5zM338.2,1105.1h10.5v10.5h-10.5zM339.8,1117.3h10.5v10.5h-10.5zM341.2,1114.8h10.5v10.5h-10.5zM342.8,1114.5h10.5v10.5h-10.5zM344.2,1107.2h10.5v10.5h-10.5zM345.8,1098.2h10.5v10.5h-10.5zM347.2,1100.2h10.5v10.5h-10.5zM348.8,1114.7h10.5v10.5h-10.5zM350.2,1101.6h10.5v10.5h-10.5zM351.8,1115.7h10.5v10.5h-10.5zM353.2,1110.1h10.5v10.5h-10.5zM354.8,1106.9h10.5v10.5h-10.5zM356.2,1111.3h10.5v10.5h-10.5zM357.8,1104.9h10.5v10.5h-10.5zM359.2,1112.0h10.5v10.5h-10.5zM360.8,1110.5h10.5v10.5h-10.5zM362.2,1117.8h10.5v10.5h-10.5zM363.8,1108.4h10.5v10.5h-10.5zM365.2,1112.5h10.5v10.5h-10.5zM366.8,1123.9h10.5v10.5h-10.5zM368.2,1114.3h10.5v10.5h-10.5zM369.8,1126.2h10.5v10.5h-10.5zM371.2,1119.8h10.5v10.5h-10.5zM372.8,1125.7h10.5v10.5h-10.5zM374.2,1128.2h10.5v10.5h-10.5zM375.8,1121.8h10.5v10.5h-10.5zM377.2,1110.6h10.5v10.5h-10.5zM378.8,1114.2h10.5v10.5h-10.5zM380.2,1121.1h10.5v10.5h-10.5zM381.8,1118.0h10.5v10.5h-10.5zM383.2,1114.4h10.5v10.5h-10.5zM384.8,1120.7h10.5v10.5h-10.5zM386.2,1125.9h10.5v10.5h-10.5zM387.8,1117.1h10.5v10.5h-10.5zM389.2,1106.5h10.5v10.5h-10.5zM390.8,1118.1h10.5v10.5h-10.5zM392.2,1120.2h10.5v10.5h-10.5zM393.8,1115.8h10.5v10.5h-10.5zM395.2,1113.4h10.5v10.5h-10.5zM396.8,1110.1h10.5v10.5h-10.5zM398.2,1107.5h10.5v10.5h-10.5zM399.8,1114.2h10.5v10.5h-10.5zM401.2,1113.4h10.5v10.5h-10.5zM402.8,1115.5h10.5v10.5h-10.5zM404.2,1103.8h10.5v10.5h-10.5zM405.8,1104.3h10.5v10.5h-10.5zM407.2,1113.3h10.5v10.5h-10.5zM408.8,1100.2h10.5v10.5h-10.5zM410.2,1106.2h10.5v10.5h-10.5zM411.8,1098.9h10.5v10.5h-10.5zM413.2,1106.6h10.5v10.5h-10.5zM414.8,1107.4h10.5v10.5h-10.5zM416.2,1108.4h10.5v10.5h-10.5zM417.8,1100.0h10.5v10.5h-10.5zM419.2,1100.5h10.5v10.5h-10.5zM420.8,1100.8h10.5v10.5h-10.5zM422.2,1090.7h10.5v10.5h-10.5zM423.8,1096.4h10.5v10.5h-10.5zM425.2,1098.8h10.5v10.5h-10.5zM426.8,1091.8h10.5v10.5h-10.5zM428.2,1109.2h10.5v10.5h-10.5zM429.8,1097.5h10.5v10.5h-10.5zM431.2,1103.0h10.5v10.5h-10.5zM432.8,1104.6h10.5v10.5h-10.5zM434.2,1106.7h10.5v10.5h-10.5zM435.8,1102.9h10.5v10.5h-10.5zM437.2,1097.6h10.5v10.5h-10.5zM438.8,1096.9h10.5v10.5h-10.5zM440.2,1103.7h10.5v10.5h-10.5zM441.8,1107.6h10.5v10.5h-10.5zM443.2,1105.7h10.5v10.5h-10.5zM444.8,1102.8h10.5v10.5h-10.5zM446.2,1110.3h10.5v10.5h-10.5zM447.8,1104.4h10.5v10.5h-10.5zM449.2,1107.1h10.5v10.5h-10.5zM450.8,1108.7h10.5v10.5h-10.5zM452.2,1098.5h10.5v10.5h-10.5zM453.8,1098.9h10.5v10.5h-10.5zM455.2,1100.5h10.5v10.5h-10.5zM456.8,1108.1h10.5v10.5h-10.5zM458.2,1111.3h10.5v10.5h-10.5zM459.8,1114.0h10.5v10.5h-10.5zM461.2,1107.6h10.5v10.5h-10.5zM462.8,1104.1h10.5v10.5h-10.5zM464.2,1108.4h10.5v10.5h-10.5zM465.8,1121.2h10.5v10.5h-10.5zM467.2,1112.6h10.5v10.5h-10.5zM468.8,1112.8h10.5v10.5h-10.5zM470.2,1112.1h10.5v10.5h-10.5zM471.8,1111.4h10.5v10.5h-10.5zM473.2,1110.9h10.5v10.5h-10.5zM474.8,1122.7h10.5v10.5h-10.5zM476.2,1124.3h10.5v10.5h-10.5zM477.8,1123.0h10.5v10.5h-10.5zM479.2,1114.1h10.5v10.5h-10.5zM480.8,1112.8h10.5v10.5h-10.5zM482.2,1122.1h10.5v10.5h-10.5zM483.8,1111.0h10.5v10.5h-10.5zM485.2,1126.0h10.5v10.5h-10.5zM486.8,1121.5h10.5v10.5h-10.5zM488.2,1121.8h10.5v10.5h-10.5zM489.8,1118.8h10.5v10.5h-10.5zM491.2,1112.6h10.5v10.5h-10.5zM492.8,1120.5h10.5v10.5h-10.5zM494.2,1115.6h10.5v10.5h-10.5zM495.8,1116.1h10.5v10.5h-10.5zM497.2,1116.4h10.5v10.5h-10.5zM498.8,1121.4h10.5v10.5h-10.5zM500.2,1124.2h10.5v10.5h-10.5zM501.8,1113.4h10.5v10.5h-10.5zM503.2,1122.2h10.5v10.5h-10.5zM504.8,1122.4h10.5v10.5h-10.5zM506.2,1128.0h10.5v10.5h-10.5zM507.8,1122.4h10.5v10.5h-10.5zM509.2,1118.4h10.5v10.5h-10.5zM510.8,1123.6h10.5v10.5h-10.5zM512.2,1131.9h10.5v10.5h-10.5zM513.8,1125.7h10.5v10.5h-10.5zM515.2,1114.4h10.5v10.5h-10.5zM516.8,1128.6h10.5v10.5h-10.5zM518.2,1125.7h10.5v10.5h-10.5zM519.8,1121.6h10.5v10.5h-10.5zM521.2,1131.1h10.5v10.5h-10.5zM522.8,1127.5h10.5v10.5h-10.5zM524.2,1127.1h10.5v10.5h-10.5zM525.8,1133.3h10.5v10.5h-10.5zM527.2,1129.5h10.5v10.5h-10.5zM528.8,1121.1h10.5v10.5h-10.5zM530.2,1124.7h10.5v10.5h-10.5zM531.8,1118.4h10.5v10.5h-10.5zM533.2,1129.9h10.5v10.5h-10.5zM534.8,1125.4h10.5v10.5h-10.5zM536.2,1127.3h10.5v10.5h-10.5zM537.8,1129.9h10.5v10.5h-10.5zM539.2,1127.5h10.5v10.5h-10.5zM540.8,1131.1h10.5v10.5h-10.5zM542.2,1121.9h10.5v10.5h-10.5zM543.8,1133.9h10.5v10.5h-10.5zM545.2,1131.6h10.5v10.5h-10.5zM546.8,1134.1h10.5v10.5h-10.5zM548.2,1127.6h10.5v10.5h-10.5zM549.8,1128.8h10.5v10.5h-10.5zM551.2,1124.1h10.5v10.5h-10.5zM552.8,1131.7h10.5v10.5h-10.5zM554.2,1122.4h10.5v10.5h-10.5zM555.8,1127.9h10.5v10.5h-10.5zM557.2,1124.9h10.5v10.5h-10.5zM558.8,1132.8h10.5v10.5h-10.5zM560.2,1123.5h10.5v10.5h-10.5zM561.8,1124.1h10.5v10.5h-10.5zM563.2,1135.9h10.5v10.5h-10.5zM564.8,1132.8h10.5v10.5h-10.5zM566.2,1137.8h10.5v10.5h-10.5zM567.8,1138.8h10.5v10.5h-10.5zM569.2,1141.0h10.5v10.5h-10.5zM570.8,1146.8h10.5v10.5h-10.5zM572.2,1146.2h10.5v10.5h-10.5zM573.8,1151.2h10.5v10.5h-10.5zM575.2,1148.8h10.5v10.5h-10.5zM576.8,1143.9h10.5v10.5h-10.5zM578.2,1150.4h10.5v10.5h-10.5zM579.8,1148.0h10.5v10.5h-10.5zM581.2,1152.9h10.5v10.5h-10.5zM582.8,1154.8h10.5v10.5h-10.5zM584.2,1144.9h10.5v10.5h-10.5zM585.8,1142.8h10.5v10.5h-10.5zM587.2,1143.6h10.5v10.5h-10.5zM588.8,1138.0h10.5v10.5h-10.5zM590.2,1144.7h10.5v10.5h-10.5zM591.8,1142.9h10.5v10.5h-10.5zM593.2,1149.2h10.5v10.5h-10.5zM594.8,1148.1h10.5v10.5h-10.5zM596.2,1140.0h10.5v10.5h-10.5zM597.8,1138.6h10.5v10.5h-10.5zM599.2,1149.9h10.5v10.5h-10.5zM600.8,1146.5h10.5v10.5h-10.5zM602.2,1148.4h10.5v10.5h-10.5zM603.8,1148.5h10.5v10.5h-10.5zM605.2,1156.5h10.5v10.5h-10.5zM606.8,1143.2h10.5v10.5h-10.5zM608.2,1149.9h10.5v10.5h-10.5zM609.8,1140.9h10.5v10.5h-10.5zM611.2,1147.8h10.5v10.5h-10.5zM612.8,1155.2h10.5v10.5h-10.5zM614.2,1154.7h10.5v10.5h-10.5zM615.8,1157.6h10.5v10.5h-10.5zM617.2,1157.3h10.5v10.5h-10.5zM618.8,1154.7h10.5v10.5h-10.5zM620.2,1149.7h10.5v10.5h-10.5zM621.8,1152.1h10.5v10.5h-10.5zM623.2,1154.8h10.5v10.5h-10.5zM624.8,1153.7h10.5v10.5h-10.5zM626.2,1150.0h10.5v10.5h-10.5zM627.8,1140.9h10.5v10.5h-10.5zM629.2,1149.9h10.5v10.5h-10.5zM630.8,1136.6h10.5v10.5h-10.5zM632.2,1141.9h10.5v10.5h-10.5zM633.8,1134.5h10.5v10.5h-10.5zM635.2,1146.1h10.5v10.5h-10.5zM636.8,1140.0h10.5v10.5h-10.5zM638.2,1136.3h10.5v10.5h-10.5zM639.8,1151.6h10.5v10.5h-10.5zM641.2,1144.6h10.5v10.5h-10.5zM642.8,1149.1h10.5v10.5h-10.5zM644.2,1141.3h10.5v10.5h-10.5zM645.8,1145.4h10.5v10.5h-10.5zM647.2,1152.3h10.5v10.5h-10.5zM648.8,1146.5h10.5v10.5h-10.5zM650.2,1153.1h10.5v10.5h-10.5zM651.8,1149.5h10.5v10.5h-10.5zM653.2,1153.4h10.5v10.5h-10.5zM654.8,1148.2h10.5v10.5h-10.5zM656.2,1145.9h10.5v10.5h-10.5zM657.8,1148.1h10.5v10.5h-10.5zM659.2,1143.3h10.5v10.5h-10.5zM660.8,1151.2h10.5v10.5h-10.5zM662.2,1150.3h10.5v10.5h-10.5zM663.8,1147.9h10.5v10.5h-10.5zM665.2,1139.6h10.5v10.5h-10.5zM666.8,1146.0h10.5v10.5h-10.5zM668.2,1138.3h10.5v10.5h-10.5zM669.8,1137.8h10.5v10.5h-10.5zM671.2,1110.8h10.5v10.5h-10.5zM672.8,1115.7h10.5v10.5h-10.5zM674.2,1106.6h10.5v10.5h-10.5zM675.8,1103.2h10.5v10.5h-10.5zM677.2,1109.4h10.5v10.5h-10.5zM678.8,1109.2h10.5v10.5h-10.5zM680.2,1107.5h10.5v10.5h-10.5zM681.8,1102.5h10.5v10.5h-10.5zM683.2,1101.5h10.5v10.5h-10.5zM684.8,1097.2h10.5v10.5h-10.5zM686.2,1096.7h10.5v10.5h-10.5zM687.8,1112.8h10.5v10.5h-10.5zM689.2,1099.3h10.5v10.5h-10.5zM690.8,1115.0h10.5v10.5h-10.5zM692.2,1115.4h10.5v10.5h-10.5zM693.8,1118.4h10.5v10.5h-10.5zM695.2,1115.1h10.5v10.5h-10.5zM696.8,1110.4h10.5v10.5h-10.5zM698.2,1112.7h10.5v10.5h-10.5zM699.8,1110.7h10.5v10.5h-10.5zM701.2,1118.5h10.5v10.5h-10.5zM702.8,1115.4h10.5v10.5h-10.5zM704.2,1117.2h10.5v10.5h-10.5zM705.8,1125.3h10.5v10.5h-10.5zM707.2,1112.6h10.5v10.5h-10.5zM708.8,1124.7h10.5v10.5h-10.5zM710.2,1113.7h10.5v10.5h-10.5zM711.8,1121.3h10.5v10.5h-10.5zM713.2,1118.8h10.5v10.5h-10.5zM714.8,1107.6h10.5v10.5h-10.5zM716.2,1106.0h10.5v10.5h-10.5zM717.8,1112.3h10.5v10.5h-10.5zM719.2,1104.6h10.5v10.5h-10.5zM720.8,1104.1h10.5v10.5h-10.5zM722.2,1113.5h10.5v10.5h-10.5zM723.8,1096.7h10.5v10.5h-10.5zM725.2,1098.2h10.5v10.5h-10.5zM726.8,1097.1h10.5v10.5h-10.5zM728.2,1093.8h10.5v10.5h-10.5zM729.8,1105.4h10.5v10.5h-10.5zM731.2,1109.0h10.5v10.5h-10.5zM732.8,1102.9h10.5v10.5h-10.5zM734.2,1113.0h10.5v10.5h-10.5zM735.8,1102.2h10.5v10.5h-10.5zM737.2,1110.9h10.5v10.5h-10.5zM738.8,1103.4h10.5v10.5h-10.5zM740.2,1108.1h10.5v10.5h-10.5zM741.8,1100.7h10.5v10.5h-10.5zM743.2,1106.1h10.5v10.5h-10.5zM744.8,1112.9h10.5v10.5h-10.5zM746.2,1110.5h10.5v10.5h-10.5zM747.8,1113.9h10.5v10.5h-10.5zM749.2,1115.0h10.5v10.5h-10.5zM750.8,1116.6h10.5v10.5h-10.5zM752.2,1114.0h10.5v10.5h-10.5zM753.8,1115.6h10.5v10.5h-10.5zM755.2,1100.7h10.5v10.5h-10.5zM756.8,1109.2h10.5v10.5h-10.5zM758.2,1116.4h10.5v10.5h-10.5zM759.8,1106.8h10.5v10.5h-10.5zM761.2,1101.2h10.5v10.5h-10.5zM762.8,1110.6h10.5v10.5h-10.5zM764.2,1102.2h10.5v10.5h-10.5zM765.8,1102.7h10.5v10.5h-10.5zM767.2,1103.8h10.5v10.5h-10.5zM768.8,1105.1h10.5v10.5h-10.5zM770.2,1105.7h10.5v10.5h-10.5zM771.8,1111.2h10.5v10.5h-10.5zM773.2,1114.4h10.5v10.5h-10.5zM774.8,1106.1h10.5v10.5h-10.5zM776.2,1107.1h10.5v10.5h-10.5zM777.8,1103.3h10.5v10.5h-10.5zM779.2,1115.4h10.5v10.5h-10.5zM780.8,1101.9h10.5v10.5h-10.5zM782.2,1107.8h10.5v10.5h-10.5zM783.8,1114.0h10.5v10.5h-10.5zM785.2,1114.0h10.5v10.5h-10.5zM786.8,1115.9h10.5v10.5h-10.5zM788.2,1107.2h10.5v10.5h-10.5zM789.8,1105.6h10.5v10.5h-10.5zM791.2,1101.7h10.5v10.5h-10.5zM792.8,1108.7h10.5v10.5h-10.5zM794.2,1110.7h10.5v10.5h-10.5zM795.8,1104.9h10.5v10.5h-10.5zM797.2,1105.1h10.5v10.5h-10.5zM798.8,1111.3h10.5v10.5h-10.5zM800.2,1108.7h10.5v10.5h-10.5zM801.8,1113.8h10.5v10.5h-10.5zM803.2,1104.7h10.5v10.5h-10.5zM804.8,1114.1h10.5v10.5h-10.5zM806.2,1114.7h10.5v10.5h-10.5zM807.8,1118.9h10.5v10.5h-10.5zM809.2,1119.5h10.5v10.5h-10.5zM810.8,1118.9h10.5v10.5h-10.5zM812.2,1111.2h10.5v10.5h-10.5zM813.8,1119.3h10.5v10.5h-10.5zM815.2,1116.1h10.5v10.5h-10.5zM816.8,1111.4h10.5v10.5h-10.5zM818.2,1117.4h10.5v10.5h-10.5zM819.8,1112.7h10.5v10.5h-10.5zM821.2,1115.8h10.5v10.5h-10.5zM822.8,1106.6h10.5v10.5h-10.5zM824.2,1114.4h10.5v10.5h-10.5zM825.8,1110.2h10.5v10.5h-10.5zM827.2,1117.4h10.5v10.5h-10.5zM828.8,1104.8h10.5v10.5h-10.5zM830.2,1108.7h10.5v10.5h-10.5zM831.8,1107.1h10.5v10.5h-10.5zM833.2,1113.3h10.5v10.5h-10.5zM834.8,1104.4h10.5v10.5h-10.5zM836.2,1116.9h10.5v10.5h-10.5zM837.8,1119.0h10.5v10.5h-10.5zM839.2,1109.7h10.5v10.5h-10.5zM840.8,1118.9h10.5v10.5h-10.5zM842.2,1121.1h10.5v10.5h-10.5zM843.8,1122.2h10.5v10.5h-10.5zM845.2,1117.7h10.5v10.5h-10.5zM846.8,1120.1h10.5v10.5h-10.5zM848.2,1126.0h10.5v10.5h-10.5zM849.8,1126.3h10.5v10.5h-10.5zM851.2,1119.1h10.5v10.5h-10.5zM852.8,1123.9h10.5v10.5h-10.5zM854.2,1121.7h10.5v10.5h-10.5zM855.8,1118.9h10.5v10.5h-10.5zM857.2,1126.3h10.5v10.5h-10.5zM858.8,1113.1h10.5v10.5h-10.5zM860.2,1120.4h10.5v10.5h-10.5zM861.8,1114.6h10.5v10.5h-10.5zM863.2,1110.5h10.5v10.5h-10.5zM864.8,1112.4h10.5v10.5h-10.5zM866.2,1121.7h10.5v10.5h-10.5zM867.8,1120.0h10.5v10.5h-10.5zM869.2,1118.7h10.5v10.5h-10.5zM870.8,1117.3h10.5v10.5h-10.5zM872.2,1124.3h10.5v10.5h-10.5zM873.8,1117.4h10.5v10.5h-10.5zM875.2,1110.4h10.5v10.5h-10.5zM876.8,1114.8h10.5v10.5h-10.5zM878.2,1121.0h10.5v10.5h-10.5zM879.8,1113.4h10.5v10.5h-10.5zM881.2,1117.9h10.5v10.5h-10.5zM882.8,1111.2h10.5v10.5h-10.5zM884.2,1118.8h10.5v10.5h-10.5zM885.8,1116.1h10.5v10.5h-10.5zM887.2,1120.2h10.5v10.5h-10.5zM888.8,1112.1h10.5v10.5h-10.5zM890.2,1116.5h10.5v10.5h-10.5zM891.8,1113.9h10.5v10.5h-10.5zM893.2,1106.6h10.5v10.5h-10.5zM894.8,1102.4h10.5v10.5h-10.5zM896.2,1108.0h10.5v10.5h-10.5zM897.8,1103.5h10.5v10.5h-10.5zM899.2,1116.1h10.5v10.5h-10.5zM900.8,1110.2h10.5v10.5h-10.5zM902.2,1114.3h10.5v10.5h-10.5zM903.8,1122.7h10.5v10.5h-10.5zM905.2,1119.8h10.5v10.5h-10.5zM906.8,1122.8h10.5v10.5h-10.5zM908.2,1124.5h10.5v10.5h-10.5zM909.8,1131.0h10.5v10.5h-10.5zM911.2,1117.0h10.5v10.5h-10.5zM912.8,1120.2h10.5v10.5h-10.5zM914.2,1116.2h10.5v10.5h-10.5zM915.8,1127.0h10.5v10.5h-10.5zM917.2,1122.3h10.5v10.5h-10.5zM918.8,1113.5h10.5v10.5h-10.5zM920.2,1127.2h10.5v10.5h-10.5zM921.8,1118.7h10.5v10.5h-10.5zM923.2,1123.2h10.5v10.5h-10.5zM924.8,1111.5h10.5v10.5h-10.5zM926.2,1115.0h10.5v10.5h-10.5zM927.8,1109.6h10.5v10.5h-10.5zM929.2,1109.3h10.5v10.5h-10.5zM930.8,1116.7h10.5v10.5h-10.5zM932.2,1117.8h10.5v10.5h-10.5zM933.8,1105.9h10.5v10.5h-10.5zM935.2,1113.0h10.5v10.5h-10.5zM936.8,1108.3h10.5v10.5h-10.5zM938.2,1104.5h10.5v10.5h-10.5zM939.8,1105.9h10.5v10.5h-10.5zM941.2,1117.2h10.5v10.5h-10.5zM942.8,1109.5h10.5v10.5h-10.5zM944.2,1115.8h10.5v10.5h-10.5zM945.8,1109.6h10.5v10.5h-10.5zM947.2,1118.8h10.5v10.5h-10.5zM948.8,1108.1h10.5v10.5h-10.5zM950.2,1111.4h10.5v10.5h-10.5zM951.8,1105.7h10.5v10.5h-10.5zM953.2,1118.6h10.5v10.5h-10.5zM954.8,1122.8h10.5v10.5h-10.5zM956.2,1115.4h10.5v10.5h-10.5zM957.8,1118.6h10.5v10.5h-10.5zM959.2,1112.2h10.5v10.5h-10.5zM960.8,1117.6h10.5v10.5h-10.5zM962.2,1107.5h10.5v10.5h-10.5zM963.8,1112.5h10.5v10.5h-10.5zM965.2,1119.8h10.5v10.5h-10.5zM966.8,1114.0h10.5v10.5h-10.5zM968.2,1108.7h10.5v10.5h-10.5zM969.8,1112.4h10.5v10.5h-10.5zM971.2,1104.0h10.5v10.5h-10.5zM972.8,1107.9h10.5v10.5h-10.5zM974.2,1109.7h10.5v10.5h-10.5zM975.8,1112.8h10.5v10.5h-10.5zM977.2,1109.0h10.5v10.5h-10.5zM978.8,1103.1h10.5v10.5h-10.5zM980.2,1109.8h10.5v10.5h-10.5zM981.8,1115.1h10.5v10.5h-10.5zM983.2,1106.6h10.5v10.5h-10.5zM984.8,1099.5h10.5v10.5h-10.5zM986.2,1099.6h10.5v10.5h-10.5zM987.8,1102.6h10.5v10.5h-10.5zM989.2,1105.1h10.5v10.5h-10.5zM990.8,1100.5h10.5v10.5h-10.5zM992.2,1103.7h10.5v10.5h-10.5zM993.8,1103.5h10.5v10.5h-10.5zM995.2,1093.5h10.5v10.5h-10.5zM996.8,1102.2h10.5v10.5h-10.5zM998.2,1094.9h10.5v10.5h-10.5zM999.8,1109.9h10.5v10.5h-10.5zM1001.2,1103.7h10.5v10.5h-10.5zM1002.8,1095.6h10.5v10.5h-10.5zM1004.2,1097.3h10.5v10.5h-10.5zM1005.8,1107.0h10.5v10.5h-10.5zM1007.2,1097.6h10.5v10.5h-10.5zM1008.8,1106.9h10.5v10.5h-10.5zM1010.2,1099.7h10.5v10.5h-10.5zM1011.8,1097.0h10.5v10.5h-10.5zM1013.2,1097.4h10.5v10.5h-10.5zM1014.8,1111.4h10.5v10.5h-10.5zM1016.2,1104.6h10.5v10.5h-10.5zM1017.8,1108.6h10.5v10.5h-10.5zM1019.2,1111.5h10.5v10.5h-10.5zM1020.8,1116.4h10.5v10.5h-10.5zM1022.2,1123.7h10.5v10.5h-10.5zM1023.8,1125.8h10.5v10.5h-10.5zM1025.2,1124.4h10.5v10.5h-10.5zM1026.8,1126.6h10.5v10.5h-10.5zM1028.2,1124.1h10.5v10.5h-10.5zM1029.8,1120.3h10.5v10.5h-10.5zM1031.2,1125.2h10.5v10.5h-10.5zM1032.8,1114.6h10.5v10.5h-10.5zM1034.2,1115.3h10.5v10.5h-10.5zM1035.8,1117.1h10.5v10.5h-10.5zM1037.2,1114.4h10.5v10.5h-10.5zM1038.8,1117.4h10.5v10.5h-10.5zM1040.2,1115.4h10.5v10.5h-10.5zM1041.8,1112.8h10.5v10.5h-10.5zM1043.2,1117.3h10.5v10.5h-10.5zM1044.8,1122.4h10.5v10.5h-10.5zM1046.2,1120.9h10.5v10.5h-10.5zM335.8,1128.8h10.5v10.5h-10.5z"/>
<path d="M217,1345.0L226,1343.2L235,1341.4L244,1339.7L253,1337.9L262,1340.3L271,1343.9L280,1347.5L289,1350.1L298,1352.6L307,1355.2L316,1357.4L325,1356.4L334,1355.4L343,1354.4L352,1353.4L361,1351.9L370,1346.1L379,1340.3L388,1334.5L397,1330.8L406,1334.4L415,1338.0L424,1339.1L433,1337.0L442,1335.0L451,1333.0L460,1330.9L469,1328.9L478,1331.5L487,1343.5L496,1343.0L505,1336.2L514,1333.6L523,1336.2L532,1338.8L541,1341.4L550,1340.8L559,1337.8L568,1334.8L577,1331.8L586,1328.8L595,1330.5L604,1335.9L613,1341.3L622,1340.0L631,1336.8L640,1333.6L649,1330.4L658,1328.0L667,1325.8L676,1323.5L685,1322.5L694,1322.5L703,1322.5L712,1322.5L721,1327.8L730,1335.6L739,1339.1L748,1337.1L757,1335.1L766,1333.1L775,1331.1L784,1333.5L793,1341.4L802,1346.5L811,1342.0L820,1337.5L829,1333.0L838,1338.9L847,1346.1L856,1352.1L865,1348.6L874,1345.1L883,1341.6L892,1338.1L901,1334.5L910,1330.0L919,1325.5L928,1323.4L937,1326.1L946,1328.8L955,1338.0L964,1348.5L973,1339.5L982,1330.5L991,1333.0L1000,1341.1L1009,1349.3L1018,1348.2L1027,1341.2L1036,1335.8L1045,1343.3L1054,1350.8" fill="none" stroke="#0000f2" stroke-width="13" stroke-linejoin="bevel"/>
<path fill="#0000f2" d="M211.8,1349.2h10.5v10.5h-10.5zM213.2,1331.8h10.5v10.5h-10.5zM214.8,1344.1h10.5v10.5h-10.5zM216.2,1337.3h10.5v10.5h-10.5zM217.8,1341.7h10.5v10.5h-10.5zM219.2,1334.0h10.5v10.5h-10.5zM220.8,1336.6h10.5v10.5h-10.5zM222.2,1346.9h10.5v10.5h-10.5zM223.8,1341.1h10.5v10.5h-10.5zM225.2,1334.8h10.5v10.5h-10.5zM226.8,1327.6h10.5v10.5h-10.5zM228.2,1332.5h10.5v10.5h-10.5zM229.8,1341.2h10.5v10.5h-10.5zM231.2,1336.3h10.5v10.5h-10.5zM232.8,1326.3h10.5v10.5h-10.5zM234.2,1327.7h10.5v10.5h-10.5zM235.8,1342.0h10.5v10.5h-10.5zM237.2,1330.0h10.5v10.5h-10.5zM238.8,1341.4h10.5v10.5h-10.5zM240.2,1343.1h10.5v10.5h-10.5zM241.8,1341.2h10.5v10.5h-10.5zM243.2,1342.0h10.5v10.5h-10.5zM244.8,1330.6h10.5v10.5h-10.5zM246.2,1339.2h10.5v10.5h-10.5zM247.8,1334.5h10.5v10.5h-10.5zM249.2,1339.8h10.5v10.5h-10.5zM250.8,1338.3h10.5v10.5h-10.5zM252.2,1338.8h10.5v10.5h-10.5zM253.8,1335.0h10.5v10.5h-10.5zM255.2,1342.5h10.5v10.5h-10.5zM256.8,1336.7h10.5v10.5h-10.5zM258.2,1332.4h10.5v10.5h-10.5zM259.8,1331.7h10.5v10.5h-10.5zM261.2,1335.7h10.5v10.5h-10.5zM262.8,1337.9h10.5v10.5h-10.5zM264.2,1345.7h10.5v10.5h-10.5zM265.8,1341.3h10.5v10.5h-10.5zM267.2,1342.8h10.5v10.5h-10.5zM268.8,1335.4h10.5v10.5h-10.5zM270.2,1347.5h10.5v10.5h-10.5zM271.8,1335.0h10.5v10.5h-10.5zM273.2,1347.3h10.5v10.5h-10.5zM274.8,1340.6h10.5v10.5h-10.5zM276.2,1338.7h10.5v10.5h-10.5zM277.8,1341.9h10.5v10.5h-10.5zM279.2,1349.5h10.5v10.5h-10.5zM280.8,1342.3h10.5v10.5h-10.5zM282.2,1341.0h10.5v10.5h-10.5zM283.8,1349.8h10.5v10.5h-10.5zM285.2,1347.7h10.5v10.5h-10.5zM286.8,1340.5h10.5v10.5h-10.5zM288.2,1345.5h10.5v10.5h-10.5zM289.8,1349.8h10.5v10.5h-10.5zM291.2,1346.0h10.5v10.5h-10.5zM292.8,1338.5h10.5v10.5h-10.5zM294.2,1341.2h10.5v10.5h-10.5zM295.8,1349.0h10.5v10.5h-10.5zM297.2,1339.5h10.5v10.5h-10.5zM298.8,1345.1h10.5v10.5h-10.5zM300.2,1345.5h10.5v10.5h-10.5zM301.8,1353.6h10.5v10.5h-10.5zM303.2,1345.6h10.5v10.5h-10.5zM304.8,1346.4h10.5v10.5h-10.5zM306.2,1354.5h10.5v10.5h-10.5zM307.8,1357.5h10.5v10.5h-10.5zM309.2,1358.2h10.5v10.5h-10.5zM310.8,1349.2h10.5v10.5h-10.5zM312.2,1350.6h10.5v10.5h-10.5zM313.8,1349.8h10.5v10.5h-10.5zM315.2,1347.0h10.5v10.5h-10.5zM316.8,1350.9h10.5v10.5h-10.5zM318.2,1346.3h10.5v10.5h-10.5zM319.8,1350.1h10.5v10.5h-10.5zM321.2,1351.8h10.5v10.5h-10.5zM322.8,1350.4h10.5v10.5h-10.5zM324.2,1341.2h10.5v10.5h-10.5zM325.8,1341.2h10.5v10.5h-10.5zM327.2,1348.3h10.5v10.5h-10.5zM328.8,1355.6h10.5v10.5h-10.5zM330.2,1358.9h10.5v10.5h-10.5zM331.8,1348.1h10.5v10.5h-10.5zM333.2,1349.3h10.5v10.5h-10.5zM334.8,1354.0h10.5v10.5h-10.5zM336.2,1346.3h10.5v10.5h-10.5zM337.8,1349.7h10.5v10.5h-10.5zM339.2,1339.6h10.5v10.5h-10.5zM340.8,1340.7h10.5v10.5h-10.5zM342.2,1344.6h10.5v10.5h-10.5zM343.8,1341.4h10.5v10.5h-10.5zM345.2,1341.3h10.5v10.5h-10.5zM346.8,1346.3h10.5v10.5h-10.5zM348.2,1348.6h10.5v10.5h-10.5zM349.8,1351.9h10.5v10.5h-10.5zM351.2,1352.4h10.5v10.5h-10.5zM352.8,1347.9h10.5v10.5h-10.5zM354.2,1340.7h10.5v10.5h-10.5zM355.8,1346.9h10.5v10.5h-10.5zM357.2,1337.4h10.5v10.5h-10.5zM358.8,1343.2h10.5v10.5h-10.5zM360.2,1350.9h10.5v10.5h-10.5zM361.8,1340.2h10.5v10.5h-10.5zM363.2,1342.7h10.5v10.5h-10.5zM364.8,1342.9h10.5v10.5h-10.5zM366.2,1334.2h10.5v10.5h-10.5zM367.8,1342.0h10.5v10.5h-10.5zM369.2,1334.8h10.5v10.5h-10.5zM370.8,1335.0h10.5v10.5h-10.5zM372.2,1335.0h10.5v10.5h-10.5zM373.8,1328.0h10.5v10.5h-10.5zM375.2,1338.4h10.5v10.5h-10.5zM376.8,1333.6h10.5v10.5h-10.5zM378.2,1329.7h10.5v10.5h-10.5zM379.8,1328.1h10.5v10.5h-10.5zM381.2,1328.5h10.5v10.5h-10.5zM382.8,1321.2h10.5v10.5h-10.5zM384.2,1330.6h10.5v10.5h-10.5zM385.8,1333.6h10.5v10.5h-10.5zM387.2,1319.2h10.5v10.5h-10.5zM388.8,1330.9h10.5v10.5h-10.5zM390.2,1326.6h10.5v10.5h-10.5zM391.8,1325.1h10.5v10.5h-10.5zM393.2,1324.1h10.5v10.5h-10.5zM394.8,1327.4h10.5v10.5h-10.5zM396.2,1335.1h10.5v10.5h-10.5zM397.8,1337.2h10.5v10.5h-10.5zM399.2,1325.3h10.5v10.5h-10.5zM400.8,1325.8h10.5v10.5h-10.5zM402.2,1332.5h10.5v10.5h-10.5zM403.8,1333.8h10.5v10.5h-10.5zM405.2,1327.3h10.5v10.5h-10.5zM406.8,1340.3h10.5v10.5h-10.5zM408.2,1329.4h10.5v10.5h-10.5zM409.8,1323.3h10.5v10.5h-10.5zM411.2,1341.6h10.5v10.5h-10.5zM412.8,1329.0h10.5v10.5h-10.5zM414.2,1329.7h10.5v10.5h-10.5zM415.8,1338.0h10.5v10.5h-10.5zM417.2,1334.6h10.5v10.5h-10.5zM418.8,1332.5h10.5v10.5h-10.5zM420.2,1338.8h10.5v10.5h-10.5zM421.8,1332.0h10.5v10.5h-10.5zM423.2,1329.3h10.5v10.5h-10.5zM424.8,1334.1h10.5v10.5h-10.5zM426.2,1332.9h10.5v10.5h-10.5zM427.8,1340.1h10.5v10.5h-10.5zM429.2,1328.3h10.5v10.5h-10.5zM430.8,1324.7h10.5v10.5h-10.5zM432.2,1337.9h10.5v10.5h-10.5zM433.8,1329.5h10.5v10.5h-10.5zM435.2,1327.9h10.5v10.5h-10.5zM436.8,1337.4h10.5v10.5h-10.5zM438.2,1330.4h10.5v10.5h-10.5zM439.8,1329.6h10.5v10.5h-10.5zM441.2,1334.3h10.5v10.5h-10.5zM442.8,1337.0h10.5v10.5h-10.5zM444.2,1330.2h10.5v10.5h-10.5zM445.8,1330.0h10.5v10.5h-10.5zM447.2,1331.8h10.5v10.5h-10.5zM448.8,1325.2h10.5v10.5h-10.5zM450.2,1333.2h10.5v10.5h-10.5zM451.8,1332.4h10.5v10.5h-10.5zM453.2,1331.1h10.5v10.5h-10.5zM454.8,1327.5h10.5v10.5h-10.5zM456.2,1333.6h10.5v10.5h-10.5zM457.8,1329.1h10.5v10.5h-10.5zM459.2,1320.7h10.5v10.5h-10.5zM460.8,1327.4h10.5v10.5h-10.5zM462.2,1328.2h10.5v10.5h-10.5zM463.8,1323.2h10.5v10.5h-10.5zM465.2,1317.8h10.5v10.5h-10.5zM466.8,1321.9h10.5v10.5h-10.5zM468.2,1328.2h10.5v10.5h-10.5zM469.8,1312.8h10.5v10.5h-10.5zM471.2,1327.8h10.5v10.5h-10.5zM472.8,1330.1h10.5v10.5h-10.5zM474.2,1330.9h10.5v10.5h-10.5zM475.8,1325.6h10.5v10.5h-10.5zM477.2,1324.2h10.5v10.5h-10.5zM478.8,1335.9h10.5v10.5h-10.5zM480.2,1337.2h10.5v10.5h-10.5zM481.8,1336.5h10.5v10.5h-10.5zM483.2,1345.6h10.5v10.5h-10.5zM484.8,1338.7h10.5v10.5h-10.5zM486.2,1338.8h10.5v10.5h-10.5zM487.8,1336.3h10.5v10.5h-10.5zM489.2,1337.0h10.5v10.5h-10.5zM490.8,1336.5h10.5v10.5h-10.5zM492.2,1335.4h10.5v10.5h-10.5zM493.8,1341.5h10.5v10.5h-10.5zM495.2,1335.8h10.5v10.5h-10.5zM496.8,1333.3h10.5v10.5h-10.5zM498.2,1327.2h10.5v10.5h-10.5zM499.8,1330.5h10.5v10.5h-10.5zM501.2,1336.8h10.5v10.5h-10.5zM502.8,1329.1h10.5v10.5h-10.5zM504.2,1324.0h10.5v10.5h-10.5zM505.8,1328.1h10.5v10.5h-10.5zM507.2,1335.0h10.5v10.5h-10.5zM508.8,1332.8h10.5v10.5h-10.5zM510.2,1324.8h10.5v10.5h-10.5zM511.8,1324.9h10.5v10.5h-10.5zM513.2,1335.8h10.5v10.5h-10.5zM514.8,1332.5h10.5v10.5h-10.5zM516.2,1326.3h10.5v10.5h-10.5zM517.8,1322.1h10.5v10.5h-10.5zM519.2,1324.7h10.5v10.5h-10.5zM520.8,1327.4h10.5v10.5h-10.5zM522.2,1340.5h10.5v10.5h-10.5zM523.8,1335.4h10.5v10.5h-10.5zM525.2,1332.8h10.5v10.5h-10.5zM526.8,1328.7h10.5v10.5h-10.5zM528.2,1334.8h10.5v10.5h-10.5zM529.8,1330.3h10.5v10.5h-10.5zM531.2,1331.1h10.5v10.5h-10.5zM532.8,1339.3h10.5v10.5h-10.5zM534.2,1341.4h10.5v10.5h-10.5zM535.8,1341.6h10.5v10.5h-10.5zM537.2,1338.5h10.5v10.5h-10.5zM538.8,1346.2h10.5v10.5h-10.5zM540.2,1343.5h10.5v10.5h-10.5zM541.8,1346.0h10.5v10.5h-10.5zM543.2,1345.5h10.5v10.5h-10.5zM544.8,1338.2h10.5v10.5h-10.5zM546.2,1334.2h10.5v10.5h-10.5zM547.8,1329.5h10.5v10.5h-10.5zM549.2,1334.2h10.5v10.5h-10.5zM550.8,1341.1h10.5v10.5h-10.5zM552.2,1339.5h10.5v10.5h-10.5zM553.8,1323.2h10.5v10.5h-10.5zM555.2,1327.7h10.5v10.5h-10.5zM556.8,1338.7h10.5v10.5h-10.5zM558.2,1332.0h10.5v10.5h-10.5zM559.8,1327.6h10.5v10.5h-10.5zM561.2,1330.7h10.5v10.5h-10.5zM562.8,1332.0h10.5v10.5h-10.5zM564.2,1324.5h10.5v10.5h-10.5zM565.8,1323.4h10.5v10.5h-10.5zM567.2,1322.2h10.5v10.5h-10.5zM568.8,1324.4h10.5v10.5h-10.5zM570.2,1322.2h10.5v10.5h-10.5zM571.8,1319.8h10.5v10.5h-10.5zM573.2,1322.6h10.5v10.5h-10.5zM574.8,1328.7h10.5v10.5h-10.5zM576.2,1316.5h10.5v10.5h-10.5zM577.8,1323.7h10.5v10.5h-10.5zM579.2,1319.8h10.5v10.5h-10.5zM580.8,1330.1h10.5v10.5h-10.5zM582.2,1327.1h10.5v10.5h-10.5zM583.8,1321.3h10.5v10.5h-10.5zM585.2,1323.6h10.5v10.5h-10.5zM586.8,1326.8h10.5v10.5h-10.5zM588.2,1329.6h10.5v10.5h-10.5zM589.8,1327.1h10.5v10.5h-10.5zM591.2,1334.3h10.5v10.5h-10.5zM592.8,1335.3h10.5v10.5h-10.5zM594.2,1327.8h10.5v10.5h-10.5zM595.8,1322.4h10.5v10.5h-10.5zM597.2,1336.1h10.5v10.5h-10.5zM598.8,1334.9h10.5v10.5h-10.5zM600.2,1337.6h10.5v10.5h-10.5zM601.8,1326.8h10.5v10.5h-10.5zM603.2,1325.7h10.5v10.5h-10.5zM604.8,1329.9h10.5v10.5h-10.5zM606.2,1326.7h10.5v10.5h-10.5zM607.8,1328.9h10.5v10.5h-10.5zM609.2,1341.4h10.5v10.5h-10.5zM610.8,1342.1h10.5v10.5h-10.5zM612.2,1334.1h10.5v10.5h-10.5zM613.8,1329.3h10.5v10.5h-10.5zM615.2,1327.8h10.5v10.5h-10.5zM616.8,1339.7h10.5v10.5h-10.5zM618.2,1335.3h10.5v10.5h-10.5zM619.8,1341.0h10.5v10.5h-10.5zM621.2,1331.9h10.5v10.5h-10.5zM622.8,1323.9h10.5v10.5h-10.5zM624.2,1324.0h10.5v10.5h-10.5zM625.8,1322.8h10.5v10.5h-10.5zM627.2,1330.0h10.5v10.5h-10.5zM628.8,1337.2h10.5v10.5h-10.5zM630.2,1331.3h10.5v10.5h-10.5zM631.8,1326.9h10.5v10.5h-10.5zM633.2,1333.5h10.5v10.5h-10.5zM634.8,1324.1h10.5v10.5h-10.5zM636.2,1324.1h10.5v10.5h-10.5zM637.8,1325.5h10.5v10.5h-10.5zM639.2,1330.6h10.5v10.5h-10.5zM640.8,1328.3h10.5v10.5h-10.5zM642.2,1322.7h10.5v10.5h-10.5zM643.8,1334.5h10.5v10.5h-10.5zM645.2,1327.4h10.5v10.5h-10.5zM646.8,1327.5h10.5v10.5h-10.5zM648.2,1322.7h10.5v10.5h-10.5zM649.8,1316.0h10.5v10.5h-10.5zM651.2,1324.4h10.5v10.5h-10.5zM652.8,1326.7h10.5v10.5h-10.5zM654.2,1323.1h10.5v10.5h-10.5zM655.8,1324.6h10.5v10.5h-10.5zM657.2,1327.7h10.5v10.5h-10.5zM658.8,1314.8h10.5v10.5h-10.5zM660.2,1313.5h10.5v10.5h-10.5zM661.8,1321.3h10.5v10.5h-10.5zM663.2,1325.8h10.5v10.5h-10.5zM664.8,1327.7h10.5v10.5h-10.5zM666.2,1316.7h10.5v10.5h-10.5zM667.8,1323.1h10.5v10.5h-10.5zM669.2,1315.5h10.5v10.5h-10.5zM670.8,1321.7h10.5v10.5h-10.5zM672.2,1317.3h10.5v10.5h-10.5zM673.8,1318.4h10.5v10.5h-10.5zM675.2,1312.9h10.5v10.5h-10.5zM676.8,1315.6h10.5v10.5h-10.5zM678.2,1315.9h10.5v10.5h-10.5zM679.8,1318.8h10.5v10.5h-10.5zM681.2,1317.6h10.5v10.5h-10.5zM682.8,1314.6h10.5v10.5h-10.5zM684.2,1322.9h10.5v10.5h-10.5zM685.8,1319.3h10.5v10.5h-10.5zM687.2,1316.2h10.5v10.5h-10.5zM688.8,1313.9h10.5v10.5h-10.5zM690.2,1315.6h10.5v10.5h-10.5zM691.8,1314.5h10.5v10.5h-10.5zM693.2,1313.3h10.5v10.5h-10.5zM694.8,1316.7h10.5v10.5h-10.5zM696.2,1313.5h10.5v10.5h-10.5zM697.8,1320.7h10.5v10.5h-10.5zM699.2,1322.7h10.5v10.5h-10.5zM700.8,1313.0h10.5v10.5h-10.5zM702.2,1316.0h10.5v10.5h-10.5zM703.8,1321.7h10.5v10.5h-10.5zM705.2,1311.9h10.5v10.5h-10.5zM706.8,1311.1h10.5v10.5h-10.5zM708.2,1314.7h10.5v10.5h-10.5zM709.8,1315.6h10.5v10.5h-10.5zM711.2,1312.4h10.5v10.5h-10.5zM712.8,1315.2h10.5v10.5h-10.5zM714.2,1321.8h10.5v10.5h-10.5zM715.8,1314.3h10.5v10.5h-10.5zM717.2,1330.2h10.5v10.5h-10.5zM718.8,1325.7h10.5v10.5h-10.5zM720.2,1335.0h10.5v10.5h-10.5zM721.8,1323.8h10.5v10.5h-10.5zM723.2,1337.9h10.5v10.5h-10.5zM724.8,1333.2h10.5v10.5h-10.5zM726.2,1334.8h10.5v10.5h-10.5zM727.8,1335.4h10.5v10.5h-10.5zM729.2,1329.4h10.5v10.5h-10.5zM730.8,1334.8h10.5v10.5h-10.5zM732.2,1332.9h10.5v10.5h-10.5zM733.8,1330.5h10.5v10.5h-10.5zM735.2,1333.0h10.5v10.5h-10.5zM736.8,1331.8h10.5v10.5h-10.5zM738.2,1327.3h10.5v10.5h-10.5zM739.8,1337.1h10.5v10.5h-10.5zM741.2,1336.9h10.5v10.5h-10.5zM742.8,1324.3h10.5v10.5h-10.5zM744.2,1330.8h10.5v10.5h-10.5zM745.8,1325.4h10.5v10.5h-10.5zM747.2,1331.5h10.5v10.5h-10.5zM748.8,1333.5h10.5v10.5h-10.5zM750.2,1335.9h10.5v10.5h-10.5zM751.8,1321.9h10.5v10.5h-10.5zM753.2,1323.3h10.5v10.5h-10.5zM754.8,1324.3h10.5v10.5h-10.5zM756.2,1329.8h10.5v10.5h-10.5zM757.8,1335.9h10.5v10.5h-10.5zM759.2,1327.2h10.5v10.5h-10.5zM760.8,1327.4h10.5v10.5h-10.5zM762.2,1319.7h10.5v10.5h-10.5zM763.8,1327.6h10.5v10.5h-10.5zM765.2,1332.7h10.5v10.5h-10.5zM766.8,1322.5h10.5v10.5h-10.5zM768.2,1329.3h10.5v10.5h-10.5zM769.8,1329.1h10.5v10.5h-10.5zM771.2,1331.3h10.5v10.5h-10.5zM772.8,1330.0h10.5v10.5h-10.5zM774.2,1327.0h10.5v10.5h-10.5zM775.8,1321.6h10.5v10.5h-10.5zM777.2,1333.4h10.5v10.5h-10.5zM778.8,1329.1h10.5v10.5h-10.5zM780.2,1334.5h10.5v10.5h-10.5zM781.8,1326.8h10.5v10.5h-10.5zM783.2,1335.6h10.5v10.5h-10.5zM784.8,1332.8h10.5v10.5h-10.5zM786.2,1331.3h10.5v10.5h-10.5zM787.8,1336.3h10.5v10.5h-10.5zM789.2,1344.3h10.5v10.5h-10.5zM790.8,1337.3h10.5v10.5h-10.5zM792.2,1335.8h10.5v10.5h-10.5zM793.8,1346.4h10.5v10.5h-10.5zM795.2,1342.7h10.5v10.5h-10.5zM796.8,1338.4h10.5v10.5h-10.5zM798.2,1335.9h10.5v10.5h-10.5zM799.8,1334.7h10.5v10.5h-10.5zM801.2,1334.9h10.5v10.5h-10.5zM802.8,1333.3h10.5v10.5h-10.5zM804.2,1330.3h10.5v10.5h-10.5zM805.8,1337.3h10.5v10.5h-10.5zM807.2,1342.2h10.5v10.5h-10.5zM808.8,1331.9h10.5v10.5h-10.5zM810.2,1331.1h10.5v10.5h-10.5zM811.8,1336.6h10.5v10.5h-10.5zM813.2,1333.0h10.5v10.5h-10.5zM814.8,1339.7h10.5v10.5h-10.5zM816.2,1335.5h10.5v10.5h-10.5zM817.8,1331.4h10.5v10.5h-10.5zM819.2,1325.2h10.5v10.5h-10.5zM820.8,1328.8h10.5v10.5h-10.5zM822.2,1331.1h10.5v10.5h-10.5zM823.8,1324.3h10.5v10.5h-10.5zM825.2,1327.1h10.5v10.5h-10.5zM826.8,1324.8h10.5v10.5h-10.5zM828.2,1332.4h10.5v10.5h-10.5zM829.8,1337.8h10.5v10.5h-10.5zM831.2,1326.3h10.5v10.5h-10.5zM832.8,1338.8h10.5v10.5h-10.5zM834.2,1337.9h10.5v10.5h-10.5zM835.8,1340.7h10.5v10.5h-10.5zM837.2,1340.2h10.5v10.5h-10.5zM838.8,1343.1h10.5v10.5h-10.5zM840.2,1341.6h10.5v10.5h-10.5zM841.8,1341.3h10.5v10.5h-10.5zM843.2,1349.0h10.5v10.5h-10.5zM844.8,1343.1h10.5v10.5h-10.5zM846.2,1351.5h10.5v10.5h-10.5zM847.8,1349.7h10.5v10.5h-10.5zM849.2,1344.0h10.5v10.5h-10.5zM850.8,1351.2h10.5v10.5h-10.5zM852.2,1354.7h10.5v10.5h-10.5zM853.8,1346.9h10.5v10.5h-10.5zM855.2,1351.6h10.5v10.5h-10.5zM856.8,1344.6h10.5v10.5h-10.5zM858.2,1344.3h10.5v10.5h-10.5zM859.8,1345.7h10.5v10.5h-10.5zM861.2,1341.9h10.5v10.5h-10.5zM862.8,1350.3h10.5v10.5h-10.5zM864.2,1341.9h10.5v10.5h-10.5zM865.8,1345.3h10.5v10.5h-10.5zM867.2,1344.0h10.5v10.5h-10.5zM868.8,1348.3h10.5v10.5h-10.5zM870.2,1344.0h10.5v10.5h-10.5zM871.8,1332.0h10.5v10.5h-10.5zM873.2,1332.1h10.5v10.5h-10.5zM874.8,1337.7h10.5v10.5h-10.5zM876.2,1342.5h10.5v10.5h-10.5zM877.8,1341.0h10.5v10.5h-10.5zM879.2,1327.8h10.5v10.5h-10.5zM880.8,1333.5h10.5v10.5h-10.5zM882.2,1335.8h10.5v10.5h-10.5zM883.8,1325.4h10.5v10.5h-10.5zM885.2,1330.4h10.5v10.5h-10.5zM886.8,1325.2h10.5v10.5h-10.5zM888.2,1330.8h10.5v10.5h-10.5zM889.8,1340.6h10.5v10.5h-10.5zM891.2,1336.0h10.5v10.5h-10.5zM892.8,1328.0h10.5v10.5h-10.5zM894.2,1326.2h10.5v10.5h-10.5zM895.8,1334.4h10.5v10.5h-10.5zM897.2,1332.4h10.5v10.5h-10.5zM898.8,1324.2h10.5v10.5h-10.5zM900.2,1328.2h10.5v10.5h-10.5zM901.8,1330.4h10.5v10.5h-10.5zM903.2,1322.2h10.5v10.5h-10.5zM904.8,1329.4h10.5v10.5h-10.5zM906.2,1320.5h10.5v10.5h-10.5zM907.8,1320.0h10.5v10.5h-10.5zM909.2,1326.3h10.5v10.5h-10.5zM910.8,1317.7h10.5v10.5h-10.5zM912.2,1320.8h10.5v10.5h-10.5zM913.8,1314.6h10.5v10.5h-10.5zM915.2,1320.8h10.5v10.5h-10.5zM916.8,1325.4h10.5v10.5h-10.5zM918.2,1323.9h10.5v10.5h-10.5zM919.8,1311.4h10.5v10.5h-10.5zM921.2,1310.1h10.5v10.5h-10.5zM922.8,1320.7h10.5v10.5h-10.5zM924.2,1310.9h10.5v10.5h-10.5zM925.8,1322.4h10.5v10.5h-10.5zM927.2,1321.9h10.5v10.5h-10.5zM928.8,1318.1h10.5v10.5h-10.5zM930.2,1312.6h10.5v10.5h-10.5zM931.8,1317.1h10.5v10.5h-10.5zM933.2,1329.7h10.5v10.5h-10.5zM934.8,1330.2h10.5v10.5h-10.5zM936.2,1314.9h10.5v10.5h-10.5zM937.8,1314.8h10.5v10.5h-10.5zM939.2,1324.6h10.5v10.5h-10.5zM940.8,1322.3h10.5v10.5h-10.5zM942.2,1329.0h10.5v10.5h-10.5zM943.8,1320.9h10.5v10.5h-10.5zM945.2,1323.8h10.5v10.5h-10.5zM946.8,1321.2h10.5v10.5h-10.5zM948.2,1324.3h10.5v10.5h-10.5zM949.8,1326.8h10.5v10.5h-10.5zM951.2,1335.4h10.5v10.5h-10.5zM952.8,1342.2h10.5v10.5h-10.5zM954.2,1346.2h10.5v10.5h-10.5zM955.8,1347.7h10.5v10.5h-10.5zM957.2,1335.4h10.5v10.5h-10.5zM958.8,1343.8h10.5v10.5h-10.5zM960.2,1346.4h10.5v10.5h-10.5zM961.8,1348.8h10.5v10.5h-10.5zM963.2,1337.7h10.5v10.5h-10.5zM964.8,1344.1h10.5v10.5h-10.5zM966.2,1336.7h10.5v10.5h-10.5zM967.8,1324.8h10.5v10.5h-10.5zM969.2,1335.6h10.5v10.5h-10.5zM970.8,1336.8h10.5v10.5h-10.5zM972.2,1332.5h10.5v10.5h-10.5zM973.8,1333.0h10.5v10.5h-10.5zM975.2,1324.4h10.5v10.5h-10.5zM976.8,1325.5h10.5v10.5h-10.5zM978.2,1319.0h10.5v10.5h-10.5zM979.8,1331.1h10.5v10.5h-10.5zM981.2,1329.7h10.5v10.5h-10.5zM982.8,1320.3h10.5v10.5h-10.5zM984.2,1331.9h10.5v10.5h-10.5zM985.8,1321.1h10.5v10.5h-10.5zM987.2,1332.4h10.5v10.5h-10.5zM988.8,1328.8h10.5v10.5h-10.5zM990.2,1325.8h10.5v10.5h-10.5zM991.8,1330.9h10.5v10.5h-10.5zM993.2,1335.9h10.5v10.5h-10.5zM994.8,1334.3h10.5v10.5h-10.5zM996.2,1342.5h10.5v10.5h-10.5zM997.8,1334.3h10.5v10.5h-10.5zM999.2,1345.2h10.5v10.5h-10.5zM1000.8,1343.4h10.5v10.5h-10.5zM1002.2,1340.3h10.5v10.5h-10.5zM1003.8,1340.4h10.5v10.5h-10.5zM1005.2,1345.3h10.5v10.5h-10.5zM1006.8,1341.8h10.5v10.5h-10.5zM1008.2,1352.6h10.5v10.5h-10.5zM1009.8,1347.7h10.5v10.5h-10.5zM1011.2,1348.0h10.5v10.5h-10.5zM1012.8,1340.5h10.5v10.5h-10.5zM1014.2,1337.9h10.5v10.5h-10.5zM1015.8,1339.1h10.5v10.5h-10.5zM1017.2,1333.1h10.5v10.5h-10.5zM1018.8,1334.7h10.5v10.5h-10.5zM1020.2,1340.3h10.5v10.5h-10.5zM1021.8,1335.2h10.5v10.5h-10.5zM1023.2,1328.7h10.5v10.5h-10.5zM1024.8,1338.2h10.5v10.5h-10.5zM1026.2,1338.4h10.5v10.5h-10.5zM1027.8,1324.4h10.5v10.5h-10.5zM1029.2,1324.2h10.5v10.5h-10.5zM1030.8,1321.2h10.5v10.5h-10.5zM1032.2,1333.4h10.5v10.5h-10.5zM1033.8,1329.1h10.5v10.5h-10.5zM1035.2,1337.0h10.5v10.5h-10.5zM1036.8,1330.9h10.5v10.5h-10.5zM1038.2,1330.4h10.5v10.5h-10.5zM1039.8,1331.5h10.5v10.5h-10.5zM1041.2,1336.7h10.5v10.5h-10.5zM1042.8,1337.6h10.5v10.5h-10.5zM1044.2,1341.2h10.5v10.5h-10.5zM1045.8,1348.9h10.5v10.5h-10.5zM1047.2,1342.5h10.5v10.5h-10.5zM1048.8,1345.7h10.5v10.5h-10.5zM1050.2,1349.5h10.5v10.5h-10.5zM1051.8,1346.9h10.5v10.5h-10.5zM1053.2,1340.2h10.5v10.5h-10.5zM1054.8,1358.2h10.5v10.5h-10.5zM1056.2,1345.9h10.5v10.5h-10.5z"/>
<path d="M217,1607.5L226,1604.3L235,1601.1L244,1597.9L253,1603.5L262,1610.2L271,1605.8L280,1595.8L289,1589.5L298,1601.5L307,1605.9L316,1602.6L325,1599.3L334,1598.5L343,1600.8L352,1604.2L361,1612.1L370,1620.0L379,1622.2L388,1624.5L397,1626.8L406,1625.5L415,1622.5L424,1619.5L433,1617.5L442,1617.5L451,1617.5L460,1617.5L469,1616.1L478,1612.9L487,1609.6L496,1606.4L505,1604.3L514,1603.0L523,1601.7L532,1600.4L541,1603.0L550,1607.5L559,1612.0L568,1610.0L577,1607.2L586,1604.4L595,1601.6L604,1599.7L613,1599.1L622,1598.4L631,1597.8L640,1594.2L649,1588.2L658,1583.5L667,1579.0L676,1575.6L685,1580.8L694,1586.1L703,1591.3L712,1592.5L721,1592.5L730,1592.5L739,1592.5L748,1589.2L757,1585.4L766,1581.7L775,1575.6L784,1567.6L793,1560.3L802,1565.3L811,1570.3L820,1573.9L829,1576.5L838,1579.1L847,1581.6L856,1581.6L865,1580.2L874,1578.9L883,1577.5L892,1576.2L901,1574.9L910,1573.6L919,1572.3L928,1571.0L937,1571.7L946,1579.2L955,1579.4L964,1573.8L973,1570.8L982,1573.0L991,1574.1L1000,1566.2L1009,1558.4L1018,1560.5L1027,1563.9L1036,1564.5L1045,1563.8L1054,1563.0" fill="none" stroke="#ecc062" stroke-width="9" stroke-linejoin="bevel"/>
<path fill="#ecc062" d="M212.0,1602.1h10v10h-10zM213.5,1602.1h10v10h-10zM215.0,1597.2h10v10h-10zM216.5,1602.6h10v10h-10zM218.0,1596.2h10v10h-10zM219.5,1600.2h10v10h-10zM221.0,1600.5h10v10h-10zM222.5,1596.6h10v10h-10zM224.0,1602.8h10v10h-10zM225.5,1600.6h10v10h-10zM227.0,1593.9h10v10h-10zM228.5,1598.8h10v10h-10zM230.0,1591.7h10v10h-10zM231.5,1596.5h10v10h-10zM233.0,1599.9h10v10h-10zM234.5,1599.9h10v10h-10zM236.0,1597.2h10v10h-10zM237.5,1597.6h10v10h-10zM239.0,1590.2h10v10h-10zM240.5,1589.7h10v10h-10zM242.0,1594.6h10v10h-10zM243.5,1594.3h10v10h-10zM245.0,1595.8h10v10h-10zM246.5,1598.1h10v10h-10zM248.0,1602.5h10v10h-10zM249.5,1604.4h10v10h-10zM251.0,1606.3h10v10h-10zM252.5,1600.0h10v10h-10zM254.0,1608.6h10v10h-10zM255.5,1607.0h10v10h-10zM257.0,1604.4h10v10h-10zM258.5,1609.1h10v10h-10zM260.0,1603.8h10v10h-10zM261.5,1611.4h10v10h-10zM263.0,1606.5h10v10h-10zM264.5,1598.6h10v10h-10zM266.0,1602.4h10v10h-10zM267.5,1595.5h10v10h-10zM269.0,1593.9h10v10h-10zM270.5,1595.3h10v10h-10zM272.0,1599.8h10v10h-10zM273.5,1598.1h10v10h-10zM275.0,1586.8h10v10h-10zM276.5,1585.0h10v10h-10zM278.0,1585.8h10v10h-10zM279.5,1582.5h10v10h-10zM281.0,1586.2h10v10h-10zM282.5,1585.5h10v10h-10zM284.0,1583.8h10v10h-10zM285.5,1586.8h10v10h-10zM287.0,1589.9h10v10h-10zM288.5,1592.1h10v10h-10zM290.0,1594.2h10v10h-10zM291.5,1597.3h10v10h-10zM293.0,1594.2h10v10h-10zM294.5,1599.9h10v10h-10zM296.0,1596.7h10v10h-10zM297.5,1603.5h10v10h-10zM299.0,1601.7h10v10h-10zM300.5,1596.9h10v10h-10zM302.0,1600.7h10v10h-10zM303.5,1599.6h10v10h-10zM305.0,1603.0h10v10h-10zM306.5,1594.1h10v10h-10zM308.0,1603.1h10v10h-10zM309.5,1597.0h10v10h-10zM311.0,1595.8h10v10h-10zM312.5,1594.8h10v10h-10zM314.0,1596.7h10v10h-10zM315.5,1593.8h10v10h-10zM317.0,1591.2h10v10h-10zM318.5,1597.5h10v10h-10zM320.0,1591.3h10v10h-10zM321.5,1592.0h10v10h-10zM323.0,1592.0h10v10h-10zM324.5,1589.2h10v10h-10zM326.0,1590.8h10v10h-10zM327.5,1593.4h10v10h-10zM329.0,1591.9h10v10h-10zM330.5,1595.7h10v10h-10zM332.0,1595.2h10v10h-10zM333.5,1590.9h10v10h-10zM335.0,1592.1h10v10h-10zM336.5,1599.6h10v10h-10zM338.0,1593.2h10v10h-10zM339.5,1598.2h10v10h-10zM341.0,1596.4h10v10h-10zM342.5,1594.5h10v10h-10zM344.0,1595.8h10v10h-10zM345.5,1597.0h10v10h-10zM347.0,1598.1h10v10h-10zM348.5,1598.4h10v10h-10zM350.0,1605.2h10v10h-10zM351.5,1608.5h10v10h-10zM353.0,1609.0h10v10h-10zM354.5,1604.6h10v10h-10zM356.0,1611.9h10v10h-10zM357.5,1610.0h10v10h-10zM359.0,1608.3h10v10h-10zM360.5,1606.2h10v10h-10zM362.0,1610.2h10v10h-10zM363.5,1610.2h10v10h-10zM365.0,1618.6h10v10h-10zM366.5,1621.0h10v10h-10zM368.0,1619.0h10v10h-10zM369.5,1618.3h10v10h-10zM371.0,1613.5h10v10h-10zM372.5,1617.0h10v10h-10zM374.0,1621.1h10v10h-10zM375.5,1616.3h10v10h-10zM377.0,1620.8h10v10h-10zM378.5,1620.6h10v10h-10zM380.0,1615.2h10v10h-10zM381.5,1621.9h10v10h-10zM383.0,1621.1h10v10h-10zM384.5,1623.4h10v10h-10zM386.0,1616.9h10v10h-10zM387.5,1625.2h10v10h-10zM389.0,1618.1h10v10h-10zM390.5,1620.5h10v10h-10zM392.0,1620.6h10v10h-10zM393.5,1617.8h10v10h-10zM395.0,1617.8h10v10h-10zM396.5,1616.4h10v10h-10zM398.0,1625.3h10v10h-10zM399.5,1620.0h10v10h-10zM401.0,1617.6h10v10h-10zM402.5,1620.3h10v10h-10zM404.0,1617.8h10v10h-10zM405.5,1616.2h10v10h-10zM407.0,1617.2h10v10h-10zM408.5,1616.5h10v10h-10zM410.0,1613.0h10v10h-10zM411.5,1616.8h10v10h-10zM413.0,1615.6h10v10h-10zM414.5,1618.2h10v10h-10zM416.0,1614.6h10v10h-10zM417.5,1617.1h10v10h-10zM419.0,1616.2h10v10h-10zM420.5,1611.4h10v10h-10zM422.0,1615.4h10v10h-10zM423.5,1611.0h10v10h-10zM425.0,1615.2h10v10h-10zM426.5,1612.1h10v10h-10zM428.0,1616.9h10v10h-10zM429.5,1612.3h10v10h-10zM431.0,1614.4h10v10h-10zM432.5,1616.1h10v10h-10zM434.0,1615.0h10v10h-10zM435.5,1614.3h10v10h-10zM437.0,1612.8h10v10h-10zM438.5,1607.3h10v10h-10zM440.0,1608.0h10v10h-10zM441.5,1607.3h10v10h-10zM443.0,1609.9h10v10h-10zM444.5,1614.5h10v10h-10zM446.0,1613.9h10v10h-10zM447.5,1615.2h10v10h-10zM449.0,1614.4h10v10h-10zM450.5,1609.6h10v10h-10zM452.0,1614.3h10v10h-10zM453.5,1610.3h10v10h-10zM455.0,1618.1h10v10h-10zM456.5,1610.4h10v10h-10zM458.0,1615.6h10v10h-10zM459.5,1608.6h10v10h-10zM461.0,1612.0h10v10h-10zM462.5,1610.7h10v10h-10zM464.0,1609.7h10v10h-10zM465.5,1609.1h10v10h-10zM467.0,1608.4h10v10h-10zM468.5,1609.2h10v10h-10zM470.0,1606.8h10v10h-10zM471.5,1612.0h10v10h-10zM473.0,1609.2h10v10h-10zM474.5,1609.3h10v10h-10zM476.0,1605.0h10v10h-10zM477.5,1608.2h10v10h-10zM479.0,1606.9h10v10h-10zM480.5,1607.7h10v10h-10zM482.0,1601.7h10v10h-10zM483.5,1603.6h10v10h-10zM485.0,1599.7h10v10h-10zM486.5,1607.2h10v10h-10zM488.0,1603.8h10v10h-10zM489.5,1604.7h10v10h-10zM491.0,1599.1h10v10h-10zM492.5,1595.4h10v10h-10zM494.0,1598.7h10v10h-10zM495.5,1597.3h10v10h-10zM497.0,1601.0h10v10h-10zM498.5,1602.4h10v10h-10zM500.0,1599.2h10v10h-10zM501.5,1601.6h10v10h-10zM503.0,1600.0h10v10h-10zM504.5,1601.0h10v10h-10zM506.0,1598.7h10v10h-10zM507.5,1603.8h10v10h-10zM509.0,1596.1h10v10h-10zM510.5,1599.4h10v10h-10zM512.0,1602.2h10v10h-10zM513.5,1596.2h10v10h-10zM515.0,1594.6h10v10h-10zM516.5,1597.8h10v10h-10zM518.0,1601.0h10v10h-10zM519.5,1599.5h10v10h-10zM521.0,1594.7h10v10h-10zM522.5,1592.4h10v10h-10zM524.0,1597.9h10v10h-10zM525.5,1593.0h10v10h-10zM527.0,1596.7h10v10h-10zM528.5,1591.9h10v10h-10zM530.0,1593.7h10v10h-10zM531.5,1595.0h10v10h-10zM533.0,1596.0h10v10h-10zM534.5,1594.1h10v10h-10zM536.0,1599.1h10v10h-10zM537.5,1601.0h10v10h-10zM539.0,1596.1h10v10h-10zM540.5,1600.7h10v10h-10zM542.0,1605.2h10v10h-10zM543.5,1603.7h10v10h-10zM545.0,1606.1h10v10h-10zM546.5,1605.3h10v10h-10zM548.0,1606.9h10v10h-10zM549.5,1601.9h10v10h-10zM551.0,1604.5h10v10h-10zM552.5,1608.8h10v10h-10zM554.0,1604.7h10v10h-10zM555.5,1609.4h10v10h-10zM557.0,1610.1h10v10h-10zM558.5,1603.0h10v10h-10zM560.0,1604.0h10v10h-10zM561.5,1607.8h10v10h-10zM563.0,1606.0h10v10h-10zM564.5,1604.8h10v10h-10zM566.0,1600.8h10v10h-10zM567.5,1604.2h10v10h-10zM569.0,1603.5h10v10h-10zM570.5,1602.1h10v10h-10zM572.0,1600.8h10v10h-10zM573.5,1598.3h10v10h-10zM575.0,1599.4h10v10h-10zM576.5,1600.5h10v10h-10zM578.0,1599.5h10v10h-10zM579.5,1602.6h10v10h-10zM581.0,1602.3h10v10h-10zM582.5,1595.3h10v10h-10zM584.0,1592.8h10v10h-10zM585.5,1599.9h10v10h-10zM587.0,1593.4h10v10h-10zM588.5,1598.5h10v10h-10zM590.0,1599.4h10v10h-10zM591.5,1593.3h10v10h-10zM593.0,1592.7h10v10h-10zM594.5,1595.9h10v10h-10zM596.0,1591.7h10v10h-10zM597.5,1590.7h10v10h-10zM599.0,1599.6h10v10h-10zM600.5,1595.5h10v10h-10zM602.0,1596.6h10v10h-10zM603.5,1600.0h10v10h-10zM605.0,1593.6h10v10h-10zM606.5,1595.8h10v10h-10zM608.0,1597.5h10v10h-10zM609.5,1595.7h10v10h-10zM611.0,1593.8h10v10h-10zM612.5,1593.5h10v10h-10zM614.0,1593.0h10v10h-10zM615.5,1591.6h10v10h-10zM617.0,1592.3h10v10h-10zM618.5,1597.6h10v10h-10zM620.0,1590.9h10v10h-10zM621.5,1595.8h10v10h-10zM623.0,1591.1h10v10h-10zM624.5,1587.8h10v10h-10zM626.0,1596.4h10v10h-10zM627.5,1595.4h10v10h-10zM629.0,1589.2h10v10h-10zM630.5,1594.3h10v10h-10zM632.0,1595.2h10v10h-10zM633.5,1590.5h10v10h-10zM635.0,1594.8h10v10h-10zM636.5,1589.8h10v10h-10zM638.0,1589.0h10v10h-10zM639.5,1581.7h10v10h-10zM641.0,1581.0h10v10h-10zM642.5,1582.3h10v10h-10zM644.0,1583.2h10v10h-10zM645.5,1583.2h10v10h-10zM647.0,1580.3h10v10h-10zM648.5,1580.1h10v10h-10zM650.0,1583.0h10v10h-10zM651.5,1578.2h10v10h-10zM653.0,1578.5h10v10h-10zM654.5,1575.3h10v10h-10zM656.0,1572.8h10v10h-10zM657.5,1572.9h10v10h-10zM659.0,1572.5h10v10h-10zM660.5,1570.7h10v10h-10zM662.0,1570.0h10v10h-10zM663.5,1567.7h10v10h-10zM665.0,1570.3h10v10h-10zM666.5,1566.2h10v10h-10zM668.0,1568.6h10v10h-10zM669.5,1565.8h10v10h-10zM671.0,1569.2h10v10h-10zM672.5,1574.2h10v10h-10zM674.0,1566.7h10v10h-10zM675.5,1569.0h10v10h-10zM677.0,1572.4h10v10h-10zM678.5,1569.4h10v10h-10zM680.0,1573.7h10v10h-10zM681.5,1577.3h10v10h-10zM683.0,1577.5h10v10h-10zM684.5,1576.5h10v10h-10zM686.0,1581.7h10v10h-10zM687.5,1576.5h10v10h-10zM689.0,1586.2h10v10h-10zM690.5,1577.9h10v10h-10zM692.0,1577.8h10v10h-10zM693.5,1578.1h10v10h-10zM695.0,1583.8h10v10h-10zM696.5,1582.6h10v10h-10zM698.0,1587.6h10v10h-10zM699.5,1592.8h10v10h-10zM701.0,1585.4h10v10h-10zM702.5,1589.2h10v10h-10zM704.0,1585.3h10v10h-10zM705.5,1591.2h10v10h-10zM707.0,1585.4h10v10h-10zM708.5,1588.1h10v10h-10zM710.0,1585.1h10v10h-10zM711.5,1590.9h10v10h-10zM713.0,1589.7h10v10h-10zM714.5,1588.4h10v10h-10zM716.0,1585.9h10v10h-10zM717.5,1588.7h10v10h-10zM719.0,1584.4h10v10h-10zM720.5,1589.2h10v10h-10zM722.0,1587.5h10v10h-10zM723.5,1584.7h10v10h-10zM725.0,1583.9h10v10h-10zM726.5,1590.4h10v10h-10zM728.0,1584.4h10v10h-10zM729.5,1590.4h10v10h-10zM731.0,1591.3h10v10h-10zM732.5,1588.3h10v10h-10zM734.0,1591.6h10v10h-10zM735.5,1586.6h10v10h-10zM737.0,1584.7h10v10h-10zM738.5,1583.1h10v10h-10zM740.0,1582.4h10v10h-10zM741.5,1585.3h10v10h-10zM743.0,1578.6h10v10h-10zM744.5,1583.1h10v10h-10zM746.0,1577.5h10v10h-10zM747.5,1585.5h10v10h-10zM749.0,1580.7h10v10h-10zM750.5,1582.6h10v10h-10zM752.0,1582.9h10v10h-10zM753.5,1576.8h10v10h-10zM755.0,1574.1h10v10h-10zM756.5,1575.3h10v10h-10zM758.0,1581.1h10v10h-10zM759.5,1579.4h10v10h-10zM761.0,1574.2h10v10h-10zM762.5,1577.1h10v10h-10zM764.0,1576.0h10v10h-10zM765.5,1578.5h10v10h-10zM767.0,1573.9h10v10h-10zM768.5,1567.9h10v10h-10zM770.0,1572.3h10v10h-10zM771.5,1567.9h10v10h-10zM773.0,1568.5h10v10h-10zM774.5,1563.7h10v10h-10zM776.0,1565.3h10v10h-10zM777.5,1563.2h10v10h-10zM779.0,1561.9h10v10h-10zM780.5,1562.7h10v10h-10zM782.0,1557.9h10v10h-10zM783.5,1558.2h10v10h-10zM785.0,1553.7h10v10h-10zM786.5,1552.1h10v10h-10zM788.0,1558.4h10v10h-10zM789.5,1561.7h10v10h-10zM791.0,1562.3h10v10h-10zM792.5,1557.8h10v10h-10zM794.0,1564.2h10v10h-10zM795.5,1561.7h10v10h-10zM797.0,1561.5h10v10h-10zM798.5,1566.7h10v10h-10zM800.0,1566.9h10v10h-10zM801.5,1558.4h10v10h-10zM803.0,1562.1h10v10h-10zM804.5,1566.1h10v10h-10zM806.0,1566.4h10v10h-10zM807.5,1564.1h10v10h-10zM809.0,1568.0h10v10h-10zM810.5,1565.7h10v10h-10zM812.0,1565.0h10v10h-10zM813.5,1563.6h10v10h-10zM815.0,1569.9h10v10h-10zM816.5,1573.6h10v10h-10zM818.0,1574.7h10v10h-10zM819.5,1567.3h10v10h-10zM821.0,1569.9h10v10h-10zM822.5,1571.3h10v10h-10zM824.0,1574.4h10v10h-10zM825.5,1570.6h10v10h-10zM827.0,1576.0h10v10h-10zM828.5,1570.1h10v10h-10zM830.0,1569.4h10v10h-10zM831.5,1573.2h10v10h-10zM833.0,1570.6h10v10h-10zM834.5,1570.1h10v10h-10zM836.0,1574.6h10v10h-10zM837.5,1579.5h10v10h-10zM839.0,1573.6h10v10h-10zM840.5,1571.9h10v10h-10zM842.0,1575.1h10v10h-10zM843.5,1576.1h10v10h-10zM845.0,1573.7h10v10h-10zM846.5,1578.3h10v10h-10zM848.0,1573.5h10v10h-10zM849.5,1574.0h10v10h-10zM851.0,1577.5h10v10h-10zM852.5,1580.2h10v10h-10zM854.0,1572.4h10v10h-10zM855.5,1579.3h10v10h-10zM857.0,1579.2h10v10h-10zM858.5,1573.7h10v10h-10zM860.0,1569.8h10v10h-10zM861.5,1578.8h10v10h-10zM863.0,1575.7h10v10h-10zM864.5,1579.9h10v10h-10zM866.0,1577.0h10v10h-10zM867.5,1574.9h10v10h-10zM869.0,1570.2h10v10h-10zM870.5,1578.6h10v10h-10zM872.0,1572.8h10v10h-10zM873.5,1572.5h10v10h-10zM875.0,1573.3h10v10h-10zM876.5,1571.3h10v10h-10zM878.0,1573.2h10v10h-10zM879.5,1575.6h10v10h-10zM881.0,1577.2h10v10h-10zM882.5,1568.3h10v10h-10zM884.0,1572.8h10v10h-10zM885.5,1569.7h10v10h-10zM887.0,1576.0h10v10h-10zM888.5,1571.8h10v10h-10zM890.0,1570.1h10v10h-10zM891.5,1575.7h10v10h-10zM893.0,1568.3h10v10h-10zM894.5,1568.8h10v10h-10zM896.0,1573.6h10v10h-10zM897.5,1567.2h10v10h-10zM899.0,1574.9h10v10h-10zM900.5,1568.3h10v10h-10zM902.0,1564.9h10v10h-10zM903.5,1572.3h10v10h-10zM905.0,1564.1h10v10h-10zM906.5,1562.8h10v10h-10zM908.0,1569.5h10v10h-10zM909.5,1569.7h10v10h-10zM911.0,1564.3h10v10h-10zM912.5,1571.9h10v10h-10zM914.0,1563.8h10v10h-10zM915.5,1564.1h10v10h-10zM917.0,1562.3h10v10h-10zM918.5,1570.0h10v10h-10zM920.0,1568.7h10v10h-10zM921.5,1569.0h10v10h-10zM923.0,1566.9h10v10h-10zM924.5,1560.2h10v10h-10zM926.0,1562.5h10v10h-10zM927.5,1567.5h10v10h-10zM929.0,1561.5h10v10h-10zM930.5,1567.5h10v10h-10zM932.0,1563.5h10v10h-10zM933.5,1572.6h10v10h-10zM935.0,1565.0h10v10h-10zM936.5,1565.4h10v10h-10zM938.0,1574.4h10v10h-10zM939.5,1568.0h10v10h-10zM941.0,1579.2h10v10h-10zM942.5,1574.6h10v10h-10zM944.0,1581.4h10v10h-10zM945.5,1579.3h10v10h-10zM947.0,1571.2h10v10h-10zM948.5,1576.9h10v10h-10zM950.0,1575.5h10v10h-10zM951.5,1573.9h10v10h-10zM953.0,1572.7h10v10h-10zM954.5,1569.7h10v10h-10zM956.0,1575.6h10v10h-10zM957.5,1568.2h10v10h-10zM959.0,1574.3h10v10h-10zM960.5,1565.8h10v10h-10zM962.0,1561.8h10v10h-10zM963.5,1566.1h10v10h-10zM965.0,1563.0h10v10h-10zM966.5,1568.3h10v10h-10zM968.0,1571.0h10v10h-10zM969.5,1567.3h10v10h-10zM971.0,1563.9h10v10h-10zM972.5,1567.2h10v10h-10zM974.0,1567.6h10v10h-10zM975.5,1566.8h10v10h-10zM977.0,1565.4h10v10h-10zM978.5,1568.4h10v10h-10zM980.0,1573.9h10v10h-10zM981.5,1574.0h10v10h-10zM983.0,1574.3h10v10h-10zM984.5,1565.7h10v10h-10zM986.0,1571.0h10v10h-10zM987.5,1568.5h10v10h-10zM989.0,1569.9h10v10h-10zM990.5,1564.3h10v10h-10zM992.0,1567.1h10v10h-10zM993.5,1564.2h10v10h-10zM995.0,1562.9h10v10h-10zM996.5,1558.2h10v10h-10zM998.0,1561.8h10v10h-10zM999.5,1559.6h10v10h-10zM1001.0,1559.6h10v10h-10zM1002.5,1551.0h10v10h-10zM1004.0,1556.7h10v10h-10zM1005.5,1555.8h10v10h-10zM1007.0,1552.4h10v10h-10zM1008.5,1553.5h10v10h-10zM1010.0,1552.6h10v10h-10zM1011.5,1558.7h10v10h-10zM1013.0,1552.5h10v10h-10zM1014.5,1554.2h10v10h-10zM1016.0,1553.2h10v10h-10zM1017.5,1554.2h10v10h-10zM1019.0,1552.2h10v10h-10zM1020.5,1561.7h10v10h-10zM1022.0,1560.9h10v10h-10zM1023.5,1563.5h10v10h-10zM1025.0,1561.2h10v10h-10zM1026.5,1557.8h10v10h-10zM1028.0,1560.6h10v10h-10zM1029.5,1564.4h10v10h-10zM1031.0,1556.5h10v10h-10zM1032.5,1561.3h10v10h-10zM1034.0,1554.0h10v10h-10zM1035.5,1553.6h10v10h-10zM1037.0,1556.5h10v10h-10zM1038.5,1557.4h10v10h-10zM1040.0,1557.9h10v10h-10zM1041.5,1560.4h10v10h-10zM1043.0,1554.6h10v10h-10zM1044.5,1561.7h10v10h-10zM1046.0,1557.2h10v10h-10zM1047.5,1563.3h10v10h-10zM1049.0,1552.4h10v10h-10zM1050.5,1556.5h10v10h-10zM1052.0,1561.7h10v10h-10zM1053.5,1556.8h10v10h-10zM1055.0,1561.4h10v10h-10z"/>
<path d="M217,1847.5L226,1850.0L235,1852.5L244,1858.5L253,1863.4L262,1865.9L271,1868.5L280,1871.1L289,1871.8L298,1870.1L307,1868.4L316,1866.7L325,1865.0L334,1866.7L343,1868.4L352,1870.1L361,1871.8L370,1872.2M373,1845.3L382,1851.0L391,1856.8L400,1862.5L409,1863.0L418,1863.4L427,1863.8L436,1864.3L445,1864.8L454,1864.6L463,1863.7L472,1862.8L481,1861.9L490,1861.0L499,1860.1L508,1861.5L517,1863.2L526,1864.9L535,1866.6L544,1869.2L553,1873.1L562,1876.9L571,1880.8L580,1881.4L589,1879.4L598,1877.4M601,1845.7L610,1852.0L619,1858.3L628,1862.7L637,1863.1L646,1863.5L655,1864.0L664,1864.5L673,1864.9L682,1863.6L691,1861.8L700,1860.0L709,1858.2L718,1856.4L727,1854.6L736,1852.6L745,1850.7L754,1848.8L763,1847.2L772,1846.5L781,1845.8L790,1845.0L799,1847.6L808,1850.1L817,1852.7L826,1855.2L835,1857.5L844,1859.8L853,1862.0L862,1864.2L871,1866.3L880,1868.2L889,1870.1L898,1872.1L907,1872.2L916,1871.7L925,1871.2L934,1870.8L943,1870.3L952,1869.8L961,1868.9L970,1868.0L979,1867.1L988,1866.2L997,1865.3L1006,1865.6L1015,1866.5L1024,1867.4L1033,1868.3L1042,1869.2L1051,1869.8L1060,1868.0" fill="none" stroke="#f73b3b" stroke-width="11" stroke-linejoin="bevel"/>
<path fill="#f73b3b" d="M211.8,1835.5h10.5v10.5h-10.5zM213.2,1836.7h10.5v10.5h-10.5zM214.8,1839.1h10.5v10.5h-10.5zM216.2,1848.2h10.5v10.5h-10.5zM217.8,1841.5h10.5v10.5h-10.5zM219.2,1842.2h10.5v10.5h-10.5zM220.8,1838.3h10.5v10.5h-10.5zM222.2,1849.3h10.5v10.5h-10.5zM223.8,1850.3h10.5v10.5h-10.5zM225.2,1843.4h10.5v10.5h-10.5zM226.8,1848.2h10.5v10.5h-10.5zM228.2,1852.8h10.5v10.5h-10.5zM229.8,1843.8h10.5v10.5h-10.5zM231.2,1852.4h10.5v10.5h-10.5zM232.8,1845.7h10.5v10.5h-10.5zM234.2,1844.9h10.5v10.5h-10.5zM235.8,1858.5h10.5v10.5h-10.5zM237.2,1850.9h10.5v10.5h-10.5zM238.8,1856.9h10.5v10.5h-10.5zM240.2,1862.3h10.5v10.5h-10.5zM241.8,1855.8h10.5v10.5h-10.5zM243.2,1856.7h10.5v10.5h-10.5zM244.8,1853.8h10.5v10.5h-10.5zM246.2,1852.3h10.5v10.5h-10.5zM247.8,1858.4h10.5v10.5h-10.5zM249.2,1857.2h10.5v10.5h-10.5zM250.8,1855.6h10.5v10.5h-10.5zM252.2,1856.8h10.5v10.5h-10.5zM253.8,1856.2h10.5v10.5h-10.5zM255.2,1858.0h10.5v10.5h-10.5zM256.8,1864.0h10.5v10.5h-10.5zM258.2,1861.0h10.5v10.5h-10.5zM259.8,1857.3h10.5v10.5h-10.5zM261.2,1856.9h10.5v10.5h-10.5zM262.8,1864.5h10.5v10.5h-10.5zM264.2,1859.6h10.5v10.5h-10.5zM265.8,1860.7h10.5v10.5h-10.5zM267.2,1863.3h10.5v10.5h-10.5zM268.8,1870.5h10.5v10.5h-10.5zM270.2,1872.0h10.5v10.5h-10.5zM271.8,1860.5h10.5v10.5h-10.5zM273.2,1870.5h10.5v10.5h-10.5zM274.8,1872.3h10.5v10.5h-10.5zM276.2,1871.4h10.5v10.5h-10.5zM277.8,1861.8h10.5v10.5h-10.5zM279.2,1861.5h10.5v10.5h-10.5zM280.8,1872.7h10.5v10.5h-10.5zM282.2,1858.7h10.5v10.5h-10.5zM283.8,1859.2h10.5v10.5h-10.5zM285.2,1864.1h10.5v10.5h-10.5zM286.8,1859.3h10.5v10.5h-10.5zM288.2,1866.2h10.5v10.5h-10.5zM289.8,1858.8h10.5v10.5h-10.5zM291.2,1858.2h10.5v10.5h-10.5zM292.8,1859.5h10.5v10.5h-10.5zM294.2,1862.1h10.5v10.5h-10.5zM295.8,1868.8h10.5v10.5h-10.5zM297.2,1861.4h10.5v10.5h-10.5zM298.8,1862.0h10.5v10.5h-10.5zM300.2,1865.1h10.5v10.5h-10.5zM301.8,1861.8h10.5v10.5h-10.5zM303.2,1859.6h10.5v10.5h-10.5zM304.8,1865.7h10.5v10.5h-10.5zM306.2,1862.5h10.5v10.5h-10.5zM307.8,1856.6h10.5v10.5h-10.5zM309.2,1855.4h10.5v10.5h-10.5zM310.8,1864.1h10.5v10.5h-10.5zM312.2,1853.0h10.5v10.5h-10.5zM313.8,1862.1h10.5v10.5h-10.5zM315.2,1861.6h10.5v10.5h-10.5zM316.8,1865.6h10.5v10.5h-10.5zM318.2,1866.5h10.5v10.5h-10.5zM319.8,1855.7h10.5v10.5h-10.5zM321.2,1864.8h10.5v10.5h-10.5zM322.8,1867.8h10.5v10.5h-10.5zM324.2,1862.9h10.5v10.5h-10.5zM325.8,1864.3h10.5v10.5h-10.5zM327.2,1863.7h10.5v10.5h-10.5zM328.8,1865.9h10.5v10.5h-10.5zM330.2,1867.6h10.5v10.5h-10.5zM331.8,1858.1h10.5v10.5h-10.5zM333.2,1870.5h10.5v10.5h-10.5zM334.8,1858.8h10.5v10.5h-10.5zM336.2,1860.9h10.5v10.5h-10.5zM337.8,1869.3h10.5v10.5h-10.5zM339.2,1858.9h10.5v10.5h-10.5zM340.8,1865.3h10.5v10.5h-10.5zM342.2,1871.4h10.5v10.5h-10.5zM343.8,1856.9h10.5v10.5h-10.5zM345.2,1859.4h10.5v10.5h-10.5zM346.8,1862.1h10.5v10.5h-10.5zM348.2,1871.9h10.5v10.5h-10.5zM349.8,1869.3h10.5v10.5h-10.5zM351.2,1865.0h10.5v10.5h-10.5zM352.8,1866.3h10.5v10.5h-10.5zM354.2,1873.3h10.5v10.5h-10.5zM355.8,1868.5h10.5v10.5h-10.5zM357.2,1859.1h10.5v10.5h-10.5zM358.8,1866.7h10.5v10.5h-10.5zM360.2,1870.2h10.5v10.5h-10.5zM361.8,1864.4h10.5v10.5h-10.5zM363.2,1868.1h10.5v10.5h-10.5zM364.8,1869.8h10.5v10.5h-10.5zM366.2,1861.5h10.5v10.5h-10.5zM367.8,1838.9h10.5v10.5h-10.5zM369.2,1839.9h10.5v10.5h-10.5zM370.8,1841.4h10.5v10.5h-10.5zM372.2,1839.2h10.5v10.5h-10.5zM373.8,1844.9h10.5v10.5h-10.5zM375.2,1846.4h10.5v10.5h-10.5zM376.8,1851.2h10.5v10.5h-10.5zM378.2,1842.2h10.5v10.5h-10.5zM379.8,1846.0h10.5v10.5h-10.5zM381.2,1853.9h10.5v10.5h-10.5zM382.8,1853.7h10.5v10.5h-10.5zM384.2,1854.2h10.5v10.5h-10.5zM385.8,1844.3h10.5v10.5h-10.5zM387.2,1848.9h10.5v10.5h-10.5zM388.8,1858.5h10.5v10.5h-10.5zM390.2,1848.2h10.5v10.5h-10.5zM391.8,1855.5h10.5v10.5h-10.5zM393.2,1859.0h10.5v10.5h-10.5zM394.8,1851.1h10.5v10.5h-10.5zM396.2,1860.9h10.5v10.5h-10.5zM397.8,1859.8h10.5v10.5h-10.5zM399.2,1860.7h10.5v10.5h-10.5zM400.8,1860.7h10.5v10.5h-10.5zM402.2,1863.4h10.5v10.5h-10.5zM403.8,1863.3h10.5v10.5h-10.5zM405.2,1862.0h10.5v10.5h-10.5zM406.8,1860.2h10.5v10.5h-10.5zM408.2,1853.1h10.5v10.5h-10.5zM409.8,1857.4h10.5v10.5h-10.5zM411.2,1854.4h10.5v10.5h-10.5zM412.8,1852.1h10.5v10.5h-10.5zM414.2,1854.5h10.5v10.5h-10.5zM415.8,1858.8h10.5v10.5h-10.5zM417.2,1857.9h10.5v10.5h-10.5zM418.8,1854.2h10.5v10.5h-10.5zM420.2,1864.9h10.5v10.5h-10.5zM421.8,1859.5h10.5v10.5h-10.5zM423.2,1854.4h10.5v10.5h-10.5zM424.8,1850.5h10.5v10.5h-10.5zM426.2,1863.8h10.5v10.5h-10.5zM427.8,1864.8h10.5v10.5h-10.5zM429.2,1857.1h10.5v10.5h-10.5zM430.8,1861.0h10.5v10.5h-10.5zM432.2,1866.7h10.5v10.5h-10.5zM433.8,1867.4h10.5v10.5h-10.5zM435.2,1860.7h10.5v10.5h-10.5zM436.8,1863.2h10.5v10.5h-10.5zM438.2,1864.8h10.5v10.5h-10.5zM439.8,1865.0h10.5v10.5h-10.5zM441.2,1860.3h10.5v10.5h-10.5zM442.8,1863.9h10.5v10.5h-10.5zM444.2,1855.9h10.5v10.5h-10.5zM445.8,1860.6h10.5v10.5h-10.5zM447.2,1866.8h10.5v10.5h-10.5zM448.8,1858.5h10.5v10.5h-10.5zM450.2,1857.9h10.5v10.5h-10.5zM451.8,1852.8h10.5v10.5h-10.5zM453.2,1858.3h10.5v10.5h-10.5zM454.8,1860.6h10.5v10.5h-10.5zM456.2,1864.4h10.5v10.5h-10.5zM457.8,1854.0h10.5v10.5h-10.5zM459.2,1863.1h10.5v10.5h-10.5zM460.8,1865.2h10.5v10.5h-10.5zM462.2,1856.5h10.5v10.5h-10.5zM463.8,1853.3h10.5v10.5h-10.5zM465.2,1861.7h10.5v10.5h-10.5zM466.8,1862.1h10.5v10.5h-10.5zM468.2,1852.6h10.5v10.5h-10.5zM469.8,1861.9h10.5v10.5h-10.5zM471.2,1858.8h10.5v10.5h-10.5zM472.8,1857.1h10.5v10.5h-10.5zM474.2,1855.3h10.5v10.5h-10.5zM475.8,1853.0h10.5v10.5h-10.5zM477.2,1848.8h10.5v10.5h-10.5zM478.8,1849.6h10.5v10.5h-10.5zM480.2,1860.3h10.5v10.5h-10.5zM481.8,1859.0h10.5v10.5h-10.5zM483.2,1858.7h10.5v10.5h-10.5zM484.8,1862.5h10.5v10.5h-10.5zM486.2,1860.6h10.5v10.5h-10.5zM487.8,1859.5h10.5v10.5h-10.5zM489.2,1857.8h10.5v10.5h-10.5zM490.8,1851.3h10.5v10.5h-10.5zM492.2,1856.9h10.5v10.5h-10.5zM493.8,1849.4h10.5v10.5h-10.5zM495.2,1852.7h10.5v10.5h-10.5zM496.8,1857.9h10.5v10.5h-10.5zM498.2,1854.8h10.5v10.5h-10.5zM499.8,1855.1h10.5v10.5h-10.5zM501.2,1859.3h10.5v10.5h-10.5zM502.8,1859.5h10.5v10.5h-10.5zM504.2,1848.4h10.5v10.5h-10.5zM505.8,1861.1h10.5v10.5h-10.5zM507.2,1856.5h10.5v10.5h-10.5zM508.8,1859.6h10.5v10.5h-10.5zM510.2,1860.3h10.5v10.5h-10.5zM511.8,1862.0h10.5v10.5h-10.5zM513.2,1866.4h10.5v10.5h-10.5zM514.8,1864.2h10.5v10.5h-10.5zM516.2,1862.0h10.5v10.5h-10.5zM517.8,1860.0h10.5v10.5h-10.5zM519.2,1858.1h10.5v10.5h-10.5zM520.8,1866.6h10.5v10.5h-10.5zM522.2,1854.7h10.5v10.5h-10.5zM523.8,1858.1h10.5v10.5h-10.5zM525.2,1865.1h10.5v10.5h-10.5zM526.8,1866.7h10.5v10.5h-10.5zM528.2,1859.6h10.5v10.5h-10.5zM529.8,1868.7h10.5v10.5h-10.5zM531.2,1869.8h10.5v10.5h-10.5zM532.8,1866.9h10.5v10.5h-10.5zM534.2,1864.3h10.5v10.5h-10.5zM535.8,1863.8h10.5v10.5h-10.5zM537.2,1866.1h10.5v10.5h-10.5zM538.8,1864.5h10.5v10.5h-10.5zM540.2,1861.5h10.5v10.5h-10.5zM541.8,1858.1h10.5v10.5h-10.5zM543.2,1872.2h10.5v10.5h-10.5zM544.8,1862.4h10.5v10.5h-10.5zM546.2,1874.6h10.5v10.5h-10.5zM547.8,1862.5h10.5v10.5h-10.5zM549.2,1872.6h10.5v10.5h-10.5zM550.8,1864.3h10.5v10.5h-10.5zM552.2,1865.3h10.5v10.5h-10.5zM553.8,1866.5h10.5v10.5h-10.5zM555.2,1876.4h10.5v10.5h-10.5zM556.8,1877.2h10.5v10.5h-10.5zM558.2,1870.5h10.5v10.5h-10.5zM559.8,1866.8h10.5v10.5h-10.5zM561.2,1880.0h10.5v10.5h-10.5zM562.8,1880.3h10.5v10.5h-10.5zM564.2,1877.2h10.5v10.5h-10.5zM565.8,1879.5h10.5v10.5h-10.5zM567.2,1872.0h10.5v10.5h-10.5zM568.8,1880.2h10.5v10.5h-10.5zM570.2,1874.9h10.5v10.5h-10.5zM571.8,1877.1h10.5v10.5h-10.5zM573.2,1882.7h10.5v10.5h-10.5zM574.8,1877.8h10.5v10.5h-10.5zM576.2,1874.9h10.5v10.5h-10.5zM577.8,1869.5h10.5v10.5h-10.5zM579.2,1878.5h10.5v10.5h-10.5zM580.8,1875.4h10.5v10.5h-10.5zM582.2,1877.7h10.5v10.5h-10.5zM583.8,1865.9h10.5v10.5h-10.5zM585.2,1876.6h10.5v10.5h-10.5zM586.8,1877.9h10.5v10.5h-10.5zM588.2,1867.2h10.5v10.5h-10.5zM589.8,1871.2h10.5v10.5h-10.5zM591.2,1869.5h10.5v10.5h-10.5zM592.8,1876.7h10.5v10.5h-10.5zM594.2,1876.5h10.5v10.5h-10.5zM595.8,1839.4h10.5v10.5h-10.5zM597.2,1846.8h10.5v10.5h-10.5zM598.8,1845.3h10.5v10.5h-10.5zM600.2,1844.0h10.5v10.5h-10.5zM601.8,1844.8h10.5v10.5h-10.5zM603.2,1838.2h10.5v10.5h-10.5zM604.8,1840.3h10.5v10.5h-10.5zM606.2,1851.6h10.5v10.5h-10.5zM607.8,1845.8h10.5v10.5h-10.5zM609.2,1846.9h10.5v10.5h-10.5zM610.8,1856.9h10.5v10.5h-10.5zM612.2,1856.4h10.5v10.5h-10.5zM613.8,1850.0h10.5v10.5h-10.5zM615.2,1860.5h10.5v10.5h-10.5zM616.8,1862.6h10.5v10.5h-10.5zM618.2,1851.7h10.5v10.5h-10.5zM619.8,1855.2h10.5v10.5h-10.5zM621.2,1857.1h10.5v10.5h-10.5zM622.8,1859.7h10.5v10.5h-10.5zM624.2,1862.0h10.5v10.5h-10.5zM625.8,1851.1h10.5v10.5h-10.5zM627.2,1851.9h10.5v10.5h-10.5zM628.8,1852.6h10.5v10.5h-10.5zM630.2,1855.7h10.5v10.5h-10.5zM631.8,1860.2h10.5v10.5h-10.5zM633.2,1855.3h10.5v10.5h-10.5zM634.8,1865.0h10.5v10.5h-10.5zM636.2,1850.3h10.5v10.5h-10.5zM637.8,1860.7h10.5v10.5h-10.5zM639.2,1864.3h10.5v10.5h-10.5zM640.8,1851.9h10.5v10.5h-10.5zM642.2,1860.5h10.5v10.5h-10.5zM643.8,1852.4h10.5v10.5h-10.5zM645.2,1856.9h10.5v10.5h-10.5zM646.8,1856.6h10.5v10.5h-10.5zM648.2,1850.5h10.5v10.5h-10.5zM649.8,1862.0h10.5v10.5h-10.5zM651.2,1853.1h10.5v10.5h-10.5zM652.8,1858.6h10.5v10.5h-10.5zM654.2,1859.9h10.5v10.5h-10.5zM655.8,1862.2h10.5v10.5h-10.5zM657.2,1860.8h10.5v10.5h-10.5zM658.8,1861.1h10.5v10.5h-10.5zM660.2,1853.9h10.5v10.5h-10.5zM661.8,1864.0h10.5v10.5h-10.5zM663.2,1851.7h10.5v10.5h-10.5zM664.8,1854.3h10.5v10.5h-10.5zM666.2,1855.5h10.5v10.5h-10.5zM667.8,1854.8h10.5v10.5h-10.5zM669.2,1861.4h10.5v10.5h-10.5zM670.8,1865.7h10.5v10.5h-10.5zM672.2,1857.7h10.5v10.5h-10.5zM673.8,1859.7h10.5v10.5h-10.5zM675.2,1857.1h10.5v10.5h-10.5zM676.8,1855.9h10.5v10.5h-10.5zM678.2,1853.6h10.5v10.5h-10.5zM679.8,1861.3h10.5v10.5h-10.5zM681.2,1855.9h10.5v10.5h-10.5zM682.8,1861.3h10.5v10.5h-10.5zM684.2,1860.8h10.5v10.5h-10.5zM685.8,1852.1h10.5v10.5h-10.5zM687.2,1863.0h10.5v10.5h-10.5zM688.8,1858.6h10.5v10.5h-10.5zM690.2,1849.5h10.5v10.5h-10.5zM691.8,1860.4h10.5v10.5h-10.5zM693.2,1853.3h10.5v10.5h-10.5zM694.8,1855.7h10.5v10.5h-10.5zM696.2,1861.0h10.5v10.5h-10.5zM697.8,1852.7h10.5v10.5h-10.5zM699.2,1851.8h10.5v10.5h-10.5zM700.8,1858.6h10.5v10.5h-10.5zM702.2,1850.5h10.5v10.5h-10.5zM703.8,1849.0h10.5v10.5h-10.5zM705.2,1849.9h10.5v10.5h-10.5zM706.8,1860.4h10.5v10.5h-10.5zM708.2,1850.3h10.5v10.5h-10.5zM709.8,1860.0h10.5v10.5h-10.5zM711.2,1848.6h10.5v10.5h-10.5zM712.8,1848.2h10.5v10.5h-10.5zM714.2,1849.9h10.5v10.5h-10.5zM715.8,1850.7h10.5v10.5h-10.5zM717.2,1851.8h10.5v10.5h-10.5zM718.8,1850.6h10.5v10.5h-10.5zM720.2,1844.4h10.5v10.5h-10.5zM721.8,1844.4h10.5v10.5h-10.5zM723.2,1851.0h10.5v10.5h-10.5zM724.8,1844.7h10.5v10.5h-10.5zM726.2,1847.6h10.5v10.5h-10.5zM727.8,1847.2h10.5v10.5h-10.5zM729.2,1850.6h10.5v10.5h-10.5zM730.8,1847.7h10.5v10.5h-10.5zM732.2,1844.3h10.5v10.5h-10.5zM733.8,1843.0h10.5v10.5h-10.5zM735.2,1846.9h10.5v10.5h-10.5zM736.8,1842.8h10.5v10.5h-10.5zM738.2,1841.9h10.5v10.5h-10.5zM739.8,1847.9h10.5v10.5h-10.5zM741.2,1846.6h10.5v10.5h-10.5zM742.8,1841.1h10.5v10.5h-10.5zM744.2,1849.4h10.5v10.5h-10.5zM745.8,1852.4h10.5v10.5h-10.5zM747.2,1842.6h10.5v10.5h-10.5zM748.8,1840.7h10.5v10.5h-10.5zM750.2,1839.6h10.5v10.5h-10.5zM751.8,1840.8h10.5v10.5h-10.5zM753.2,1838.8h10.5v10.5h-10.5zM754.8,1839.3h10.5v10.5h-10.5zM756.2,1847.7h10.5v10.5h-10.5zM757.8,1846.7h10.5v10.5h-10.5zM759.2,1834.8h10.5v10.5h-10.5zM760.8,1836.7h10.5v10.5h-10.5zM762.2,1845.3h10.5v10.5h-10.5zM763.8,1840.6h10.5v10.5h-10.5zM765.2,1836.1h10.5v10.5h-10.5zM766.8,1845.8h10.5v10.5h-10.5zM768.2,1836.0h10.5v10.5h-10.5zM769.8,1843.1h10.5v10.5h-10.5zM771.2,1833.6h10.5v10.5h-10.5zM772.8,1835.6h10.5v10.5h-10.5zM774.2,1832.4h10.5v10.5h-10.5zM775.8,1840.8h10.5v10.5h-10.5zM777.2,1842.9h10.5v10.5h-10.5zM778.8,1841.2h10.5v10.5h-10.5zM780.2,1843.7h10.5v10.5h-10.5zM781.8,1836.4h10.5v10.5h-10.5zM783.2,1841.1h10.5v10.5h-10.5zM784.8,1845.9h10.5v10.5h-10.5zM786.2,1843.1h10.5v10.5h-10.5zM787.8,1834.2h10.5v10.5h-10.5zM789.2,1836.2h10.5v10.5h-10.5zM790.8,1835.9h10.5v10.5h-10.5zM792.2,1838.2h10.5v10.5h-10.5zM793.8,1845.3h10.5v10.5h-10.5zM795.2,1841.6h10.5v10.5h-10.5zM796.8,1850.1h10.5v10.5h-10.5zM798.2,1849.7h10.5v10.5h-10.5zM799.8,1848.3h10.5v10.5h-10.5zM801.2,1852.0h10.5v10.5h-10.5zM802.8,1849.8h10.5v10.5h-10.5zM804.2,1849.1h10.5v10.5h-10.5zM805.8,1848.9h10.5v10.5h-10.5zM807.2,1853.8h10.5v10.5h-10.5zM808.8,1844.3h10.5v10.5h-10.5zM810.2,1850.2h10.5v10.5h-10.5zM811.8,1849.3h10.5v10.5h-10.5zM813.2,1842.0h10.5v10.5h-10.5zM814.8,1852.7h10.5v10.5h-10.5zM816.2,1846.5h10.5v10.5h-10.5zM817.8,1853.0h10.5v10.5h-10.5zM819.2,1852.5h10.5v10.5h-10.5zM820.8,1849.3h10.5v10.5h-10.5zM822.2,1849.2h10.5v10.5h-10.5zM823.8,1848.4h10.5v10.5h-10.5zM825.2,1847.9h10.5v10.5h-10.5zM826.8,1852.8h10.5v10.5h-10.5zM828.2,1853.4h10.5v10.5h-10.5zM829.8,1857.8h10.5v10.5h-10.5zM831.2,1860.8h10.5v10.5h-10.5zM832.8,1859.6h10.5v10.5h-10.5zM834.2,1854.6h10.5v10.5h-10.5zM835.8,1859.5h10.5v10.5h-10.5zM837.2,1860.3h10.5v10.5h-10.5zM838.8,1853.4h10.5v10.5h-10.5zM840.2,1852.3h10.5v10.5h-10.5zM841.8,1852.4h10.5v10.5h-10.5zM843.2,1860.7h10.5v10.5h-10.5zM844.8,1854.3h10.5v10.5h-10.5zM846.2,1859.3h10.5v10.5h-10.5zM847.8,1852.3h10.5v10.5h-10.5zM849.2,1863.5h10.5v10.5h-10.5zM850.8,1855.6h10.5v10.5h-10.5zM852.2,1850.5h10.5v10.5h-10.5zM853.8,1860.3h10.5v10.5h-10.5zM855.2,1854.9h10.5v10.5h-10.5zM856.8,1854.3h10.5v10.5h-10.5zM858.2,1856.1h10.5v10.5h-10.5zM859.8,1854.0h10.5v10.5h-10.5zM861.2,1856.7h10.5v10.5h-10.5zM862.8,1858.2h10.5v10.5h-10.5zM864.2,1860.0h10.5v10.5h-10.5zM865.8,1863.3h10.5v10.5h-10.5zM867.2,1860.6h10.5v10.5h-10.5zM868.8,1857.8h10.5v10.5h-10.5zM870.2,1856.0h10.5v10.5h-10.5zM871.8,1861.5h10.5v10.5h-10.5zM873.2,1869.7h10.5v10.5h-10.5zM874.8,1859.3h10.5v10.5h-10.5zM876.2,1862.2h10.5v10.5h-10.5zM877.8,1856.6h10.5v10.5h-10.5zM879.2,1866.9h10.5v10.5h-10.5zM880.8,1871.3h10.5v10.5h-10.5zM882.2,1871.3h10.5v10.5h-10.5zM883.8,1866.0h10.5v10.5h-10.5zM885.2,1873.4h10.5v10.5h-10.5zM886.8,1860.3h10.5v10.5h-10.5zM888.2,1863.6h10.5v10.5h-10.5zM889.8,1867.3h10.5v10.5h-10.5zM891.2,1866.6h10.5v10.5h-10.5zM892.8,1864.7h10.5v10.5h-10.5zM894.2,1865.3h10.5v10.5h-10.5zM895.8,1864.3h10.5v10.5h-10.5zM897.2,1871.9h10.5v10.5h-10.5zM898.8,1871.8h10.5v10.5h-10.5zM900.2,1862.9h10.5v10.5h-10.5zM901.8,1874.6h10.5v10.5h-10.5zM903.2,1872.5h10.5v10.5h-10.5zM904.8,1868.5h10.5v10.5h-10.5zM906.2,1869.6h10.5v10.5h-10.5zM907.8,1871.3h10.5v10.5h-10.5zM909.2,1860.4h10.5v10.5h-10.5zM910.8,1859.6h10.5v10.5h-10.5zM912.2,1860.0h10.5v10.5h-10.5zM913.8,1863.0h10.5v10.5h-10.5zM915.2,1871.3h10.5v10.5h-10.5zM916.8,1869.8h10.5v10.5h-10.5zM918.2,1862.9h10.5v10.5h-10.5zM919.8,1861.0h10.5v10.5h-10.5zM921.2,1867.9h10.5v10.5h-10.5zM922.8,1864.5h10.5v10.5h-10.5zM924.2,1864.7h10.5v10.5h-10.5zM925.8,1862.9h10.5v10.5h-10.5zM927.2,1873.8h10.5v10.5h-10.5zM928.8,1869.4h10.5v10.5h-10.5zM930.2,1858.3h10.5v10.5h-10.5zM931.8,1866.9h10.5v10.5h-10.5zM933.2,1864.7h10.5v10.5h-10.5zM934.8,1858.4h10.5v10.5h-10.5zM936.2,1863.5h10.5v10.5h-10.5zM937.8,1864.8h10.5v10.5h-10.5zM939.2,1870.2h10.5v10.5h-10.5zM940.8,1869.1h10.5v10.5h-10.5zM942.2,1866.3h10.5v10.5h-10.5zM943.8,1859.2h10.5v10.5h-10.5zM945.2,1868.8h10.5v10.5h-10.5zM946.8,1872.6h10.5v10.5h-10.5zM948.2,1865.4h10.5v10.5h-10.5zM949.8,1861.2h10.5v10.5h-10.5zM951.2,1865.7h10.5v10.5h-10.5zM952.8,1866.5h10.5v10.5h-10.5zM954.2,1862.9h10.5v10.5h-10.5zM955.8,1860.0h10.5v10.5h-10.5zM957.2,1858.4h10.5v10.5h-10.5zM958.8,1861.1h10.5v10.5h-10.5zM960.2,1860.8h10.5v10.5h-10.5zM961.8,1860.0h10.5v10.5h-10.5zM963.2,1860.8h10.5v10.5h-10.5zM964.8,1856.5h10.5v10.5h-10.5zM966.2,1857.3h10.5v10.5h-10.5zM967.8,1860.4h10.5v10.5h-10.5zM969.2,1858.5h10.5v10.5h-10.5zM970.8,1860.2h10.5v10.5h-10.5zM972.2,1867.8h10.5v10.5h-10.5zM973.8,1855.0h10.5v10.5h-10.5zM975.2,1861.3h10.5v10.5h-10.5zM976.8,1859.3h10.5v10.5h-10.5zM978.2,1861.8h10.5v10.5h-10.5zM979.8,1855.2h10.5v10.5h-10.5zM981.2,1867.3h10.5v10.5h-10.5zM982.8,1864.9h10.5v10.5h-10.5zM984.2,1862.4h10.5v10.5h-10.5zM985.8,1865.4h10.5v10.5h-10.5zM987.2,1862.8h10.5v10.5h-10.5zM988.8,1859.7h10.5v10.5h-10.5zM990.2,1862.8h10.5v10.5h-10.5zM991.8,1859.8h10.5v10.5h-10.5zM993.2,1853.5h10.5v10.5h-10.5zM994.8,1857.5h10.5v10.5h-10.5zM996.2,1868.1h10.5v10.5h-10.5zM997.8,1857.4h10.5v10.5h-10.5zM999.2,1866.1h10.5v10.5h-10.5zM1000.8,1855.3h10.5v10.5h-10.5zM1002.2,1858.4h10.5v10.5h-10.5zM1003.8,1865.6h10.5v10.5h-10.5zM1005.2,1867.4h10.5v10.5h-10.5zM1006.8,1868.1h10.5v10.5h-10.5zM1008.2,1859.4h10.5v10.5h-10.5zM1009.8,1866.2h10.5v10.5h-10.5zM1011.2,1859.8h10.5v10.5h-10.5zM1012.8,1858.8h10.5v10.5h-10.5zM1014.2,1858.7h10.5v10.5h-10.5zM1015.8,1860.6h10.5v10.5h-10.5zM1017.2,1856.9h10.5v10.5h-10.5zM1018.8,1860.4h10.5v10.5h-10.5zM1020.2,1864.0h10.5v10.5h-10.5zM1021.8,1865.1h10.5v10.5h-10.5zM1023.2,1857.8h10.5v10.5h-10.5zM1024.8,1862.5h10.5v10.5h-10.5zM1026.2,1867.7h10.5v10.5h-10.5zM1027.8,1866.1h10.5v10.5h-10.5zM1029.2,1859.3h10.5v10.5h-10.5zM1030.8,1859.1h10.5v10.5h-10.5zM1032.2,1862.6h10.5v10.5h-10.5zM1033.8,1865.8h10.5v10.5h-10.5zM1035.2,1868.2h10.5v10.5h-10.5zM1036.8,1866.2h10.5v10.5h-10.5zM1038.2,1870.6h10.5v10.5h-10.5zM1039.8,1864.7h10.5v10.5h-10.5zM1041.2,1863.2h10.5v10.5h-10.5zM1042.8,1866.1h10.5v10.5h-10.5zM1044.2,1868.9h10.5v10.5h-10.5zM1045.8,1859.6h10.5v10.5h-10.5zM1047.2,1865.5h10.5v10.5h-10.5zM1048.8,1872.2h10.5v10.5h-10.5zM1050.2,1863.8h10.5v10.5h-10.5zM1051.8,1864.6h10.5v10.5h-10.5zM1053.2,1862.7h10.5v10.5h-10.5zM1054.8,1870.4h10.5v10.5h-10.5zM1056.2,1868.4h10.5v10.5h-10.5z"/>
<path d="M217,2132.5L226,2132.1L235,2131.7L244,2131.4L253,2131.0L262,2130.6L271,2130.2L280,2129.8L289,2129.5L298,2129.1L307,2129.6L316,2130.4L325,2131.1L334,2131.9L343,2132.7L352,2133.4L361,2134.2L370,2134.9L379,2135.7L388,2136.5L397,2137.2L406,2137.1L415,2136.5L424,2135.9L433,2135.4L442,2134.8L451,2134.2L460,2133.6L469,2133.0L478,2132.4L487,2131.8L496,2131.3L505,2130.7L514,2130.2L523,2129.6L532,2129.1L541,2128.5L550,2128.0L559,2127.5L568,2126.9L577,2126.4L586,2125.8L595,2125.3L604,2125.2L613,2125.5L622,2125.9L631,2126.2L640,2126.6L649,2127.0L658,2127.3L667,2127.7L676,2128.0L685,2128.4L694,2128.8L703,2129.0L712,2129.1L721,2129.2L730,2129.3L739,2129.4L748,2129.5L757,2129.6L766,2129.7L775,2129.8L784,2129.8L793,2129.9L802,2129.7L811,2128.5L820,2127.3L829,2126.1L838,2124.9L847,2123.7L856,2122.5L865,2121.3L874,2120.1L883,2120.6L892,2121.4L901,2122.1L910,2122.8L919,2123.5L928,2124.4L937,2125.4L946,2126.5L955,2127.6L964,2128.7L973,2129.8L982,2129.5L991,2128.9L1000,2128.3L1009,2127.7L1018,2127.1L1027,2126.5L1036,2125.9L1045,2125.3L1054,2124.0" fill="none" stroke="#b273f6" stroke-width="10" stroke-linejoin="bevel"/>
<path fill="#b273f6" d="M212.0,2130.7h10v10h-10zM213.5,2133.7h10v10h-10zM215.0,2133.7h10v10h-10zM216.5,2126.1h10v10h-10zM218.0,2130.1h10v10h-10zM219.5,2124.9h10v10h-10zM221.0,2125.3h10v10h-10zM222.5,2128.6h10v10h-10zM224.0,2122.4h10v10h-10zM225.5,2130.1h10v10h-10zM227.0,2123.2h10v10h-10zM228.5,2123.9h10v10h-10zM230.0,2123.6h10v10h-10zM231.5,2129.6h10v10h-10zM233.0,2121.7h10v10h-10zM234.5,2131.5h10v10h-10zM236.0,2131.3h10v10h-10zM237.5,2128.4h10v10h-10zM239.0,2130.2h10v10h-10zM240.5,2131.6h10v10h-10zM242.0,2125.5h10v10h-10zM243.5,2122.7h10v10h-10zM245.0,2120.1h10v10h-10zM246.5,2125.9h10v10h-10zM248.0,2125.4h10v10h-10zM249.5,2121.8h10v10h-10zM251.0,2125.7h10v10h-10zM252.5,2124.9h10v10h-10zM254.0,2121.2h10v10h-10zM255.5,2122.3h10v10h-10zM257.0,2131.4h10v10h-10zM258.5,2128.1h10v10h-10zM260.0,2125.5h10v10h-10zM261.5,2118.8h10v10h-10zM263.0,2128.1h10v10h-10zM264.5,2125.7h10v10h-10zM266.0,2130.4h10v10h-10zM267.5,2123.1h10v10h-10zM269.0,2128.0h10v10h-10zM270.5,2126.3h10v10h-10zM272.0,2129.3h10v10h-10zM273.5,2128.4h10v10h-10zM275.0,2120.7h10v10h-10zM276.5,2128.6h10v10h-10zM278.0,2128.4h10v10h-10zM279.5,2122.1h10v10h-10zM281.0,2120.1h10v10h-10zM282.5,2118.6h10v10h-10zM284.0,2129.6h10v10h-10zM285.5,2117.9h10v10h-10zM287.0,2125.7h10v10h-10zM288.5,2121.5h10v10h-10zM290.0,2128.3h10v10h-10zM291.5,2123.4h10v10h-10zM293.0,2127.2h10v10h-10zM294.5,2121.4h10v10h-10zM296.0,2119.8h10v10h-10zM297.5,2130.0h10v10h-10zM299.0,2128.5h10v10h-10zM300.5,2122.8h10v10h-10zM302.0,2126.7h10v10h-10zM303.5,2122.5h10v10h-10zM305.0,2129.7h10v10h-10zM306.5,2126.7h10v10h-10zM308.0,2128.8h10v10h-10zM309.5,2123.5h10v10h-10zM311.0,2121.4h10v10h-10zM312.5,2130.5h10v10h-10zM314.0,2128.5h10v10h-10zM315.5,2124.7h10v10h-10zM317.0,2122.2h10v10h-10zM318.5,2130.6h10v10h-10zM320.0,2129.1h10v10h-10zM321.5,2129.3h10v10h-10zM323.0,2130.4h10v10h-10zM324.5,2128.9h10v10h-10zM326.0,2125.7h10v10h-10zM327.5,2129.5h10v10h-10zM329.0,2131.5h10v10h-10zM330.5,2128.2h10v10h-10zM332.0,2126.1h10v10h-10zM333.5,2127.4h10v10h-10zM335.0,2129.8h10v10h-10zM336.5,2130.8h10v10h-10zM338.0,2128.7h10v10h-10zM339.5,2132.0h10v10h-10zM341.0,2131.5h10v10h-10zM342.5,2131.4h10v10h-10zM344.0,2134.8h10v10h-10zM345.5,2130.0h10v10h-10zM347.0,2131.7h10v10h-10zM348.5,2129.6h10v10h-10zM350.0,2132.6h10v10h-10zM351.5,2126.7h10v10h-10zM353.0,2131.7h10v10h-10zM354.5,2129.8h10v10h-10zM356.0,2133.6h10v10h-10zM357.5,2133.0h10v10h-10zM359.0,2124.6h10v10h-10zM360.5,2130.5h10v10h-10zM362.0,2130.3h10v10h-10zM363.5,2124.4h10v10h-10zM365.0,2126.6h10v10h-10zM366.5,2124.2h10v10h-10zM368.0,2125.0h10v10h-10zM369.5,2123.7h10v10h-10zM371.0,2127.9h10v10h-10zM372.5,2131.3h10v10h-10zM374.0,2134.1h10v10h-10zM375.5,2127.4h10v10h-10zM377.0,2127.8h10v10h-10zM378.5,2132.2h10v10h-10zM380.0,2124.6h10v10h-10zM381.5,2126.2h10v10h-10zM383.0,2129.5h10v10h-10zM384.5,2136.9h10v10h-10zM386.0,2132.1h10v10h-10zM387.5,2135.3h10v10h-10zM389.0,2128.5h10v10h-10zM390.5,2133.5h10v10h-10zM392.0,2138.8h10v10h-10zM393.5,2132.2h10v10h-10zM395.0,2129.2h10v10h-10zM396.5,2133.0h10v10h-10zM398.0,2128.6h10v10h-10zM399.5,2137.2h10v10h-10zM401.0,2131.2h10v10h-10zM402.5,2128.6h10v10h-10zM404.0,2131.7h10v10h-10zM405.5,2138.4h10v10h-10zM407.0,2130.6h10v10h-10zM408.5,2134.2h10v10h-10zM410.0,2130.6h10v10h-10zM411.5,2133.7h10v10h-10zM413.0,2131.6h10v10h-10zM414.5,2131.5h10v10h-10zM416.0,2128.0h10v10h-10zM417.5,2135.3h10v10h-10zM419.0,2129.9h10v10h-10zM420.5,2134.1h10v10h-10zM422.0,2128.0h10v10h-10zM423.5,2126.0h10v10h-10zM425.0,2129.6h10v10h-10zM426.5,2131.3h10v10h-10zM428.0,2132.7h10v10h-10zM429.5,2127.5h10v10h-10zM431.0,2129.7h10v10h-10zM432.5,2129.3h10v10h-10zM434.0,2130.2h10v10h-10zM435.5,2128.1h10v10h-10zM437.0,2131.6h10v10h-10zM438.5,2125.6h10v10h-10zM440.0,2133.4h10v10h-10zM441.5,2130.9h10v10h-10zM443.0,2131.3h10v10h-10zM444.5,2129.2h10v10h-10zM446.0,2130.9h10v10h-10zM447.5,2133.8h10v10h-10zM449.0,2127.4h10v10h-10zM450.5,2126.6h10v10h-10zM452.0,2132.3h10v10h-10zM453.5,2130.8h10v10h-10zM455.0,2127.6h10v10h-10zM456.5,2130.8h10v10h-10zM458.0,2125.4h10v10h-10zM459.5,2129.3h10v10h-10zM461.0,2126.6h10v10h-10zM462.5,2128.0h10v10h-10zM464.0,2123.7h10v10h-10zM465.5,2130.8h10v10h-10zM467.0,2130.3h10v10h-10zM468.5,2128.9h10v10h-10zM470.0,2134.2h10v10h-10zM471.5,2123.7h10v10h-10zM473.0,2126.2h10v10h-10zM474.5,2133.9h10v10h-10zM476.0,2124.8h10v10h-10zM477.5,2132.0h10v10h-10zM479.0,2127.1h10v10h-10zM480.5,2122.2h10v10h-10zM482.0,2121.6h10v10h-10zM483.5,2123.9h10v10h-10zM485.0,2120.1h10v10h-10zM486.5,2128.2h10v10h-10zM488.0,2123.2h10v10h-10zM489.5,2124.5h10v10h-10zM491.0,2126.6h10v10h-10zM492.5,2126.6h10v10h-10zM494.0,2127.7h10v10h-10zM495.5,2125.9h10v10h-10zM497.0,2129.6h10v10h-10zM498.5,2126.9h10v10h-10zM500.0,2125.3h10v10h-10zM501.5,2127.0h10v10h-10zM503.0,2120.7h10v10h-10zM504.5,2122.6h10v10h-10zM506.0,2121.8h10v10h-10zM507.5,2127.8h10v10h-10zM509.0,2126.0h10v10h-10zM510.5,2118.8h10v10h-10zM512.0,2121.3h10v10h-10zM513.5,2125.6h10v10h-10zM515.0,2128.0h10v10h-10zM516.5,2125.5h10v10h-10zM518.0,2118.1h10v10h-10zM519.5,2126.8h10v10h-10zM521.0,2119.2h10v10h-10zM522.5,2127.4h10v10h-10zM524.0,2122.1h10v10h-10zM525.5,2124.0h10v10h-10zM527.0,2122.1h10v10h-10zM528.5,2122.6h10v10h-10zM530.0,2119.6h10v10h-10zM531.5,2126.5h10v10h-10zM533.0,2124.7h10v10h-10zM534.5,2126.0h10v10h-10zM536.0,2125.9h10v10h-10zM537.5,2124.0h10v10h-10zM539.0,2117.6h10v10h-10zM540.5,2116.7h10v10h-10zM542.0,2123.6h10v10h-10zM543.5,2118.8h10v10h-10zM545.0,2128.0h10v10h-10zM546.5,2122.9h10v10h-10zM548.0,2118.6h10v10h-10zM549.5,2117.8h10v10h-10zM551.0,2120.3h10v10h-10zM552.5,2119.4h10v10h-10zM554.0,2119.5h10v10h-10zM555.5,2118.5h10v10h-10zM557.0,2120.3h10v10h-10zM558.5,2124.3h10v10h-10zM560.0,2125.1h10v10h-10zM561.5,2123.6h10v10h-10zM563.0,2126.6h10v10h-10zM564.5,2122.2h10v10h-10zM566.0,2122.1h10v10h-10zM567.5,2117.8h10v10h-10zM569.0,2115.1h10v10h-10zM570.5,2115.1h10v10h-10zM572.0,2125.5h10v10h-10zM573.5,2118.0h10v10h-10zM575.0,2118.0h10v10h-10zM576.5,2124.0h10v10h-10zM578.0,2117.1h10v10h-10zM579.5,2126.0h10v10h-10zM581.0,2120.6h10v10h-10zM582.5,2117.3h10v10h-10zM584.0,2123.3h10v10h-10zM585.5,2114.9h10v10h-10zM587.0,2125.8h10v10h-10zM588.5,2118.7h10v10h-10zM590.0,2114.0h10v10h-10zM591.5,2120.7h10v10h-10zM593.0,2117.0h10v10h-10zM594.5,2115.1h10v10h-10zM596.0,2114.8h10v10h-10zM597.5,2118.0h10v10h-10zM599.0,2113.8h10v10h-10zM600.5,2123.1h10v10h-10zM602.0,2117.9h10v10h-10zM603.5,2119.0h10v10h-10zM605.0,2115.9h10v10h-10zM606.5,2118.2h10v10h-10zM608.0,2121.6h10v10h-10zM609.5,2118.7h10v10h-10zM611.0,2120.0h10v10h-10zM612.5,2120.9h10v10h-10zM614.0,2121.4h10v10h-10zM615.5,2125.8h10v10h-10zM617.0,2119.8h10v10h-10zM618.5,2118.8h10v10h-10zM620.0,2118.0h10v10h-10zM621.5,2122.1h10v10h-10zM623.0,2119.1h10v10h-10zM624.5,2115.2h10v10h-10zM626.0,2114.9h10v10h-10zM627.5,2121.0h10v10h-10zM629.0,2114.9h10v10h-10zM630.5,2116.2h10v10h-10zM632.0,2117.9h10v10h-10zM633.5,2115.9h10v10h-10zM635.0,2118.6h10v10h-10zM636.5,2122.7h10v10h-10zM638.0,2125.1h10v10h-10zM639.5,2124.5h10v10h-10zM641.0,2126.2h10v10h-10zM642.5,2128.0h10v10h-10zM644.0,2125.6h10v10h-10zM645.5,2125.4h10v10h-10zM647.0,2117.5h10v10h-10zM648.5,2116.6h10v10h-10zM650.0,2122.3h10v10h-10zM651.5,2115.7h10v10h-10zM653.0,2122.9h10v10h-10zM654.5,2115.8h10v10h-10zM656.0,2118.5h10v10h-10zM657.5,2127.6h10v10h-10zM659.0,2120.0h10v10h-10zM660.5,2121.1h10v10h-10zM662.0,2116.6h10v10h-10zM663.5,2126.4h10v10h-10zM665.0,2119.1h10v10h-10zM666.5,2119.7h10v10h-10zM668.0,2123.4h10v10h-10zM669.5,2128.5h10v10h-10zM671.0,2120.8h10v10h-10zM672.5,2124.1h10v10h-10zM674.0,2123.0h10v10h-10zM675.5,2129.4h10v10h-10zM677.0,2129.4h10v10h-10zM678.5,2119.7h10v10h-10zM680.0,2124.1h10v10h-10zM681.5,2128.1h10v10h-10zM683.0,2122.3h10v10h-10zM684.5,2126.6h10v10h-10zM686.0,2119.4h10v10h-10zM687.5,2119.0h10v10h-10zM689.0,2121.6h10v10h-10zM690.5,2121.5h10v10h-10zM692.0,2120.9h10v10h-10zM693.5,2129.4h10v10h-10zM695.0,2127.5h10v10h-10zM696.5,2120.8h10v10h-10zM698.0,2125.6h10v10h-10zM699.5,2119.6h10v10h-10zM701.0,2124.6h10v10h-10zM702.5,2121.1h10v10h-10zM704.0,2123.4h10v10h-10zM705.5,2129.6h10v10h-10zM707.0,2128.7h10v10h-10zM708.5,2118.9h10v10h-10zM710.0,2125.3h10v10h-10zM711.5,2121.9h10v10h-10zM713.0,2117.6h10v10h-10zM714.5,2121.5h10v10h-10zM716.0,2125.7h10v10h-10zM717.5,2128.8h10v10h-10zM719.0,2129.7h10v10h-10zM720.5,2127.2h10v10h-10zM722.0,2128.3h10v10h-10zM723.5,2125.2h10v10h-10zM725.0,2125.1h10v10h-10zM726.5,2119.1h10v10h-10zM728.0,2121.0h10v10h-10zM729.5,2126.6h10v10h-10zM731.0,2122.6h10v10h-10zM732.5,2123.6h10v10h-10zM734.0,2121.4h10v10h-10zM735.5,2128.2h10v10h-10zM737.0,2131.0h10v10h-10zM738.5,2130.4h10v10h-10zM740.0,2127.8h10v10h-10zM741.5,2124.7h10v10h-10zM743.0,2123.0h10v10h-10zM744.5,2127.5h10v10h-10zM746.0,2119.9h10v10h-10zM747.5,2121.1h10v10h-10zM749.0,2129.7h10v10h-10zM750.5,2127.7h10v10h-10zM752.0,2120.8h10v10h-10zM753.5,2126.2h10v10h-10zM755.0,2124.5h10v10h-10zM756.5,2123.5h10v10h-10zM758.0,2122.5h10v10h-10zM759.5,2129.8h10v10h-10zM761.0,2125.3h10v10h-10zM762.5,2122.1h10v10h-10zM764.0,2124.1h10v10h-10zM765.5,2129.4h10v10h-10zM767.0,2124.9h10v10h-10zM768.5,2125.4h10v10h-10zM770.0,2124.2h10v10h-10zM771.5,2126.1h10v10h-10zM773.0,2123.0h10v10h-10zM774.5,2119.7h10v10h-10zM776.0,2125.8h10v10h-10zM777.5,2120.1h10v10h-10zM779.0,2126.1h10v10h-10zM780.5,2127.9h10v10h-10zM782.0,2123.4h10v10h-10zM783.5,2130.5h10v10h-10zM785.0,2128.4h10v10h-10zM786.5,2130.0h10v10h-10zM788.0,2126.3h10v10h-10zM789.5,2125.5h10v10h-10zM791.0,2120.5h10v10h-10zM792.5,2118.6h10v10h-10zM794.0,2124.0h10v10h-10zM795.5,2125.2h10v10h-10zM797.0,2127.7h10v10h-10zM798.5,2127.7h10v10h-10zM800.0,2130.9h10v10h-10zM801.5,2130.7h10v10h-10zM803.0,2118.9h10v10h-10zM804.5,2118.5h10v10h-10zM806.0,2121.6h10v10h-10zM807.5,2125.9h10v10h-10zM809.0,2120.4h10v10h-10zM810.5,2120.8h10v10h-10zM812.0,2122.0h10v10h-10zM813.5,2123.2h10v10h-10zM815.0,2126.7h10v10h-10zM816.5,2118.5h10v10h-10zM818.0,2126.0h10v10h-10zM819.5,2117.6h10v10h-10zM821.0,2119.9h10v10h-10zM822.5,2126.9h10v10h-10zM824.0,2118.8h10v10h-10zM825.5,2123.2h10v10h-10zM827.0,2122.6h10v10h-10zM828.5,2118.5h10v10h-10zM830.0,2121.7h10v10h-10zM831.5,2118.3h10v10h-10zM833.0,2120.3h10v10h-10zM834.5,2114.8h10v10h-10zM836.0,2116.5h10v10h-10zM837.5,2120.0h10v10h-10zM839.0,2123.7h10v10h-10zM840.5,2115.7h10v10h-10zM842.0,2113.4h10v10h-10zM843.5,2118.1h10v10h-10zM845.0,2114.4h10v10h-10zM846.5,2116.0h10v10h-10zM848.0,2112.5h10v10h-10zM849.5,2121.8h10v10h-10zM851.0,2116.3h10v10h-10zM852.5,2112.9h10v10h-10zM854.0,2119.8h10v10h-10zM855.5,2112.3h10v10h-10zM857.0,2119.7h10v10h-10zM858.5,2117.2h10v10h-10zM860.0,2119.2h10v10h-10zM861.5,2112.1h10v10h-10zM863.0,2117.9h10v10h-10zM864.5,2119.0h10v10h-10zM866.0,2120.9h10v10h-10zM867.5,2120.9h10v10h-10zM869.0,2120.4h10v10h-10zM870.5,2117.4h10v10h-10zM872.0,2119.7h10v10h-10zM873.5,2113.5h10v10h-10zM875.0,2113.3h10v10h-10zM876.5,2113.3h10v10h-10zM878.0,2112.1h10v10h-10zM879.5,2114.5h10v10h-10zM881.0,2112.5h10v10h-10zM882.5,2120.7h10v10h-10zM884.0,2109.8h10v10h-10zM885.5,2122.1h10v10h-10zM887.0,2113.0h10v10h-10zM888.5,2120.6h10v10h-10zM890.0,2112.6h10v10h-10zM891.5,2115.5h10v10h-10zM893.0,2118.6h10v10h-10zM894.5,2119.0h10v10h-10zM896.0,2115.4h10v10h-10zM897.5,2120.2h10v10h-10zM899.0,2111.9h10v10h-10zM900.5,2116.0h10v10h-10zM902.0,2116.8h10v10h-10zM903.5,2122.9h10v10h-10zM905.0,2117.6h10v10h-10zM906.5,2117.1h10v10h-10zM908.0,2114.0h10v10h-10zM909.5,2120.4h10v10h-10zM911.0,2119.5h10v10h-10zM912.5,2117.2h10v10h-10zM914.0,2121.5h10v10h-10zM915.5,2116.9h10v10h-10zM917.0,2114.8h10v10h-10zM918.5,2112.3h10v10h-10zM920.0,2116.6h10v10h-10zM921.5,2123.5h10v10h-10zM923.0,2119.0h10v10h-10zM924.5,2124.8h10v10h-10zM926.0,2126.3h10v10h-10zM927.5,2116.5h10v10h-10zM929.0,2117.1h10v10h-10zM930.5,2123.7h10v10h-10zM932.0,2119.7h10v10h-10zM933.5,2120.2h10v10h-10zM935.0,2125.7h10v10h-10zM936.5,2118.7h10v10h-10zM938.0,2121.5h10v10h-10zM939.5,2119.6h10v10h-10zM941.0,2114.9h10v10h-10zM942.5,2115.9h10v10h-10zM944.0,2119.9h10v10h-10zM945.5,2124.8h10v10h-10zM947.0,2120.2h10v10h-10zM948.5,2125.4h10v10h-10zM950.0,2124.5h10v10h-10zM951.5,2119.4h10v10h-10zM953.0,2123.3h10v10h-10zM954.5,2121.5h10v10h-10zM956.0,2118.1h10v10h-10zM957.5,2124.9h10v10h-10zM959.0,2117.2h10v10h-10zM960.5,2124.2h10v10h-10zM962.0,2120.5h10v10h-10zM963.5,2121.1h10v10h-10zM965.0,2127.1h10v10h-10zM966.5,2122.7h10v10h-10zM968.0,2122.7h10v10h-10zM969.5,2126.7h10v10h-10zM971.0,2118.4h10v10h-10zM972.5,2125.4h10v10h-10zM974.0,2128.1h10v10h-10zM975.5,2125.1h10v10h-10zM977.0,2120.9h10v10h-10zM978.5,2123.0h10v10h-10zM980.0,2118.7h10v10h-10zM981.5,2125.3h10v10h-10zM983.0,2125.7h10v10h-10zM984.5,2120.7h10v10h-10zM986.0,2128.0h10v10h-10zM987.5,2117.6h10v10h-10zM989.0,2117.6h10v10h-10zM990.5,2124.0h10v10h-10zM992.0,2119.9h10v10h-10zM993.5,2122.0h10v10h-10zM995.0,2122.7h10v10h-10zM996.5,2128.1h10v10h-10zM998.0,2119.4h10v10h-10zM999.5,2122.8h10v10h-10zM1001.0,2124.6h10v10h-10zM1002.5,2123.1h10v10h-10zM1004.0,2128.2h10v10h-10zM1005.5,2118.4h10v10h-10zM1007.0,2120.2h10v10h-10zM1008.5,2120.8h10v10h-10zM1010.0,2124.9h10v10h-10zM1011.5,2120.1h10v10h-10zM1013.0,2122.5h10v10h-10zM1014.5,2123.3h10v10h-10zM1016.0,2124.0h10v10h-10zM1017.5,2126.1h10v10h-10zM1019.0,2122.3h10v10h-10zM1020.5,2119.2h10v10h-10zM1022.0,2119.4h10v10h-10zM1023.5,2115.0h10v10h-10zM1025.0,2120.3h10v10h-10zM1026.5,2117.6h10v10h-10zM1028.0,2117.5h10v10h-10zM1029.5,2125.9h10v10h-10zM1031.0,2123.3h10v10h-10zM1032.5,2119.7h10v10h-10zM1034.0,2114.3h10v10h-10zM1035.5,2117.9h10v10h-10zM1037.0,2119.0h10v10h-10zM1038.5,2126.1h10v10h-10zM1040.0,2116.1h10v10h-10zM1041.5,2117.0h10v10h-10zM1043.0,2116.2h10v10h-10zM1044.5,2122.7h10v10h-10zM1046.0,2118.2h10v10h-10zM1047.5,2125.4h10v10h-10zM1049.0,2115.9h10v10h-10zM1050.5,2123.5h10v10h-10zM1052.0,2119.5h10v10h-10zM1053.5,2117.3h10v10h-10zM1055.0,2119.8h10v10h-10zM1056.5,2111.9h10v10h-10zM607.5,2102.0h10v10h-10zM607.5,2107.0h10v10h-10z"/>
<path fill="#048c12" d="M279.4,1036.8h10.5v10.5h-10.5z"/>
<text x="354.5" y="1060.0" font-size="51" text-anchor="start" fill="#000" font-weight="bold" >0.65</text>
<path fill="#0000f2" d="M279.4,1240.8h10.5v10.5h-10.5z"/>
<text x="354.5" y="1263.0" font-size="51" text-anchor="start" fill="#000" font-weight="bold" >0.49</text>
<path fill="#ecc062" d="M279.4,1497.5h10.5v10.5h-10.5z"/>
<text x="354.5" y="1519.5" font-size="51" text-anchor="start" fill="#000" font-weight="bold" >0.40</text>
<path fill="#f73b3b" d="M279.4,1757.8h10.5v10.5h-10.5z"/>
<text x="354.5" y="1781.0" font-size="51" text-anchor="start" fill="#000" font-weight="bold" >0.36</text>
<path fill="#b273f6" d="M279.4,2017.8h10.5v10.5h-10.5z"/>
<text x="354.5" y="2040.5" font-size="51" text-anchor="start" fill="#000" font-weight="bold" >0.23</text>
<rect x="215.8" y="964.5" width="849.5" height="1248.0" fill="none" stroke="#000" stroke-width="4.8"/>
<path d="M640.7,2212.5v-14" stroke="#000" stroke-width="5" fill="none"/>
<path d="M428.0,2212.5v-7M853.0,2212.5v-7" stroke="#000" stroke-width="4.4" fill="none"/>
<text x="215.0" y="2260.5" font-size="44" text-anchor="middle" fill="#000" font-weight="bold" >0</text>
<text x="640.5" y="2260.5" font-size="44" text-anchor="middle" fill="#000" font-weight="bold" >10</text>
<text x="1066.0" y="2260.5" font-size="44" text-anchor="middle" fill="#000" font-weight="bold" >20</text>
<text x="641.5" y="2334.5" font-size="51" text-anchor="middle" fill="#000" font-weight="bold" >Emission time (min)</text>
<text transform="translate(185.5,1560.5) rotate(-90)" font-size="57" text-anchor="middle" font-weight="bold">Emission current (μA)</text>
<text x="69.0" y="1045.0" font-size="110" text-anchor="middle" fill="#000" font-weight="bold" >c</text>
</g>
<g id="panel-d">
<defs>
<filter id="b1" color-interpolation-filters="sRGB" x="-20%" y="-20%" width="140%" height="140%"><feGaussianBlur stdDeviation="1.1"/></filter>
<filter id="b2" color-interpolation-filters="sRGB" x="-20%" y="-20%" width="140%" height="140%"><feGaussianBlur stdDeviation="2.2"/></filter>
<filter id="b4" color-interpolation-filters="sRGB" x="-30%" y="-30%" width="160%" height="160%"><feGaussianBlur stdDeviation="4.5"/></filter>
<filter id="b8" color-interpolation-filters="sRGB" x="-40%" y="-40%" width="180%" height="180%"><feGaussianBlur stdDeviation="9"/></filter>
<filter id="b16" color-interpolation-filters="sRGB" x="-50%" y="-50%" width="200%" height="200%"><feGaussianBlur stdDeviation="18"/></filter>
<filter id="b32" color-interpolation-filters="sRGB" x="-60%" y="-60%" width="220%" height="220%"><feGaussianBlur stdDeviation="34"/></filter>
<filter id="grain" color-interpolation-filters="sRGB" x="0" y="0" width="100%" height="100%"><feTurbulence type="fractalNoise" baseFrequency="0.35" numOctaves="2" seed="7" result="n"/><feColorMatrix in="n" type="matrix" values="0 0 0 0 0.5  0 0 0 0 0.5  0 0 0 0 0.5  0.9 0 0 0 -0.33"/></filter>
<filter id="warp" color-interpolation-filters="sRGB" x="-5%" y="-5%" width="110%" height="110%"><feTurbulence type="fractalNoise" baseFrequency="0.07" numOctaves="2" seed="3" result="t"/><feDisplacementMap in="SourceGraphic" in2="t" scale="9" xChannelSelector="R" yChannelSelector="G" result="d"/><feGaussianBlur in="d" stdDeviation="0.9"/></filter>
<filter id="warp2" color-interpolation-filters="sRGB" x="-5%" y="-5%" width="110%" height="110%"><feTurbulence type="fractalNoise" baseFrequency="0.07" numOctaves="2" seed="3" result="t"/><feDisplacementMap in="SourceGraphic" in2="t" scale="9" xChannelSelector="R" yChannelSelector="G" result="d"/><feGaussianBlur in="d" stdDeviation="2.4"/></filter>
<clipPath id="cp1"><rect x="1236" y="959.5" width="438" height="439"/></clipPath>
<clipPath id="cp2"><rect x="1674" y="960.5" width="445.5" height="443"/></clipPath>
<clipPath id="cp3"><rect x="1236" y="1398" width="438" height="452"/></clipPath>
<clipPath id="cp4"><rect x="1675" y="1403" width="443.5" height="446.5"/></clipPath>
<clipPath id="cp5"><rect x="1236" y="1850" width="438" height="443"/></clipPath>
</defs>
<g clip-path="url(#cp1)">
<rect x="1236" y="959.5" width="438" height="439" fill="#4e5040"/>
<ellipse cx="1283.6" cy="1124.7" rx="120.0" ry="220.0" fill="#585a49" opacity="0.6" filter="url(#b32)"/>
<ellipse cx="1581.2" cy="1315.1" rx="130.0" ry="110.0" fill="#544f45" opacity="0.6" filter="url(#b32)"/>
<ellipse cx="1509.8" cy="1000.9" rx="190.0" ry="55.0" fill="#3a392f" opacity="0.8" filter="url(#b16)"/>
<ellipse cx="1569.3" cy="1058.0" rx="75.0" ry="60.0" fill="#33332a" opacity="0.75" filter="url(#b16)"/>
<ellipse cx="1607.4" cy="1036.6" rx="60.0" ry="90.0" fill="#3a3930" opacity="0.7" filter="url(#b16)"/>
<ellipse cx="1355.0" cy="1053.2" rx="14.0" ry="26.0" fill="#2e2d25" opacity="0.75" transform="rotate(10 1355.0 1053.2)" filter="url(#b4)"/>
<ellipse cx="1474.1" cy="1058.0" rx="40.0" ry="18.0" fill="#3a3a30" opacity="0.6" filter="url(#b8)"/>
<g>
<ellipse cx="1483.6" cy="1112.8" rx="66.0" ry="42.0" fill="#1fae40" opacity="0.6" transform="rotate(15 1483.6 1112.8)" filter="url(#b8)"/>
<ellipse cx="1474.1" cy="1060.4" rx="40.0" ry="25.0" fill="#2a8a40" opacity="0.5" filter="url(#b8)"/>
<ellipse cx="1462.2" cy="1184.2" rx="30.0" ry="55.0" fill="#24923c" opacity="0.4" transform="rotate(-15 1462.2 1184.2)" filter="url(#b8)"/>
<ellipse cx="1433.6" cy="1312.8" rx="28.0" ry="58.0" fill="#1fae40" opacity="0.55" transform="rotate(10 1433.6 1312.8)" filter="url(#b8)"/>
<ellipse cx="1631.2" cy="1136.6" rx="32.0" ry="20.0" fill="#2aa048" opacity="0.8" transform="rotate(-30 1631.2 1136.6)" filter="url(#b4)"/>
<ellipse cx="1631.2" cy="1136.6" rx="15.0" ry="9.0" fill="#55d070" opacity="0.8" transform="rotate(-30 1631.2 1136.6)" filter="url(#b2)"/>
<ellipse cx="1464.6" cy="1196.1" rx="26.0" ry="70.0" fill="#2aa548" opacity="0.45" transform="rotate(-12 1464.6 1196.1)" filter="url(#b8)"/>
<ellipse cx="1443.1" cy="1255.6" rx="22.0" ry="40.0" fill="#2aa548" opacity="0.4" transform="rotate(20 1443.1 1255.6)" filter="url(#b8)"/>
<ellipse cx="1450.3" cy="1103.2" rx="26.0" ry="24.7" fill="#3fe466" opacity="0.95" filter="url(#b2)"/>
<ellipse cx="1488.4" cy="1103.2" rx="20.0" ry="19.0" fill="#35d858" opacity="0.95" filter="url(#b2)"/>
<ellipse cx="1517.0" cy="1125.9" rx="23.0" ry="21.8" fill="#3fe466" opacity="0.95" filter="url(#b2)"/>
<ellipse cx="1440.8" cy="1129.4" rx="16.0" ry="15.2" fill="#32cc55" opacity="0.95" filter="url(#b2)"/>
<ellipse cx="1464.6" cy="1134.2" rx="14.0" ry="13.3" fill="#30c852" opacity="0.95" filter="url(#b2)"/>
<ellipse cx="1502.7" cy="1096.1" rx="14.0" ry="13.3" fill="#30c852" opacity="0.95" filter="url(#b2)"/>
<ellipse cx="1449.1" cy="1100.9" rx="13.0" ry="13.0" fill="#8cffa6" opacity="0.9" filter="url(#b2)"/>
<ellipse cx="1517.0" cy="1124.7" rx="12.0" ry="12.0" fill="#8cffa6" opacity="0.9" filter="url(#b2)"/>
<ellipse cx="1486.0" cy="1105.6" rx="8.0" ry="8.0" fill="#8cffa6" opacity="0.9" filter="url(#b2)"/>
<ellipse cx="1428.9" cy="1298.5" rx="18.0" ry="18.0" fill="#3fe466" opacity="0.92" filter="url(#b2)"/>
<ellipse cx="1445.5" cy="1279.4" rx="13.0" ry="13.0" fill="#35d858" opacity="0.92" filter="url(#b2)"/>
<ellipse cx="1426.5" cy="1334.2" rx="12.0" ry="12.0" fill="#30c852" opacity="0.92" filter="url(#b2)"/>
<ellipse cx="1424.1" cy="1362.8" rx="14.0" ry="14.0" fill="#3ade60" opacity="0.92" filter="url(#b2)"/>
<ellipse cx="1445.5" cy="1262.8" rx="9.0" ry="9.0" fill="#2fb84e" opacity="0.92" filter="url(#b2)"/>
<ellipse cx="1427.7" cy="1297.3" rx="8.0" ry="8.0" fill="#8cffa6" opacity="0.8" filter="url(#b2)"/>
</g>
<g filter="url(#b2)">
<circle cx="1484.8" cy="1153.7" r="11.5" fill="none" stroke="#74e48a" stroke-width="4.6" opacity="1"/>
<circle cx="1555.0" cy="1146.1" r="12.0" fill="none" stroke="#74e48a" stroke-width="4.6" opacity="0.8624999999999999"/>
<circle cx="1445.5" cy="1162.8" r="10.0" fill="none" stroke="#74e48a" stroke-width="4.6" opacity="0.9199999999999999"/>
<circle cx="1458.6" cy="1177.0" r="12.0" fill="none" stroke="#74e48a" stroke-width="4.6" opacity="1"/>
<circle cx="1500.3" cy="1196.1" r="10.5" fill="none" stroke="#74e48a" stroke-width="4.6" opacity="0.6325"/>
<circle cx="1462.2" cy="1212.8" r="10.0" fill="none" stroke="#74e48a" stroke-width="4.6" opacity="0.69"/>
<circle cx="1470.5" cy="1236.6" r="11.0" fill="none" stroke="#74e48a" stroke-width="4.6" opacity="0.9199999999999999"/>
<circle cx="1450.3" cy="1105.6" r="13.0" fill="none" stroke="#74e48a" stroke-width="4.6" opacity="0.575"/>
<circle cx="1517.0" cy="1125.9" r="12.0" fill="none" stroke="#74e48a" stroke-width="4.6" opacity="0.575"/>
<circle cx="1428.9" cy="1298.5" r="12.0" fill="none" stroke="#74e48a" stroke-width="4.6" opacity="0.69"/>
<circle cx="1424.1" cy="1334.2" r="12.0" fill="none" stroke="#74e48a" stroke-width="4.6" opacity="0.8049999999999999"/>
<circle cx="1424.1" cy="1362.8" r="13.0" fill="none" stroke="#74e48a" stroke-width="4.6" opacity="0.9774999999999999"/>
<circle cx="1459.8" cy="1339.0" r="10.5" fill="none" stroke="#74e48a" stroke-width="4.6" opacity="0.40249999999999997"/>
<circle cx="1445.5" cy="1279.4" r="10.0" fill="none" stroke="#74e48a" stroke-width="4.6" opacity="0.575"/>
<circle cx="1530.0" cy="1110.4" r="10.0" fill="none" stroke="#74e48a" stroke-width="4.6" opacity="0.40249999999999997"/>
<circle cx="1631.2" cy="1136.6" r="8.0" fill="none" stroke="#74e48a" stroke-width="4.6" opacity="0.575"/>
<circle cx="1476.5" cy="1129.4" r="11.0" fill="none" stroke="#74e48a" stroke-width="4.6" opacity="0.9199999999999999"/>
<circle cx="1450.3" cy="1139.0" r="11.0" fill="none" stroke="#74e48a" stroke-width="4.6" opacity="0.8049999999999999"/>
<circle cx="1500.3" cy="1139.0" r="10.0" fill="none" stroke="#74e48a" stroke-width="4.6" opacity="0.69"/>
<circle cx="1464.6" cy="1193.7" r="10.0" fill="none" stroke="#74e48a" stroke-width="4.6" opacity="0.8049999999999999"/>
<circle cx="1478.9" cy="1217.5" r="9.0" fill="none" stroke="#74e48a" stroke-width="4.6" opacity="0.575"/>
<circle cx="1450.3" cy="1258.0" r="10.0" fill="none" stroke="#74e48a" stroke-width="4.6" opacity="0.69"/>
<circle cx="1438.4" cy="1274.7" r="10.0" fill="none" stroke="#74e48a" stroke-width="4.6" opacity="0.69"/>
<circle cx="1417.0" cy="1315.1" r="10.0" fill="none" stroke="#74e48a" stroke-width="4.6" opacity="0.575"/>
<circle cx="1433.6" cy="1348.5" r="10.0" fill="none" stroke="#74e48a" stroke-width="4.6" opacity="0.69"/>
<circle cx="1474.1" cy="1167.5" r="9.0" fill="none" stroke="#74e48a" stroke-width="4.6" opacity="0.575"/>
</g>
<rect x="1236" y="959.5" width="438" height="439" filter="url(#grain)" opacity="0.10"/>
</g>
<g clip-path="url(#cp2)">
<rect x="1674" y="960.5" width="445.5" height="443" fill="#2d472f"/>
<ellipse cx="1732.9" cy="1043.2" rx="110.0" ry="120.0" fill="#26402b" opacity="0.7" filter="url(#b32)"/>
<ellipse cx="2073.8" cy="1311.1" rx="110.0" ry="140.0" fill="#3a4b38" opacity="0.7" filter="url(#b32)"/>
<ellipse cx="1720.7" cy="1371.9" rx="150.0" ry="70.0" fill="#243a2a" opacity="0.6" filter="url(#b32)"/>
<ellipse cx="2098.1" cy="1006.7" rx="70.0" ry="120.0" fill="#26382a" opacity="0.6" filter="url(#b32)"/>
<ellipse cx="1676.9" cy="1160.1" rx="8.0" ry="20.0" fill="#0c120c" opacity="0.9" filter="url(#b2)"/>
<g filter="url(#b8)" opacity="0.85">
<ellipse cx="1898.4" cy="1113.8" rx="124.9" ry="108.7" fill="#18983a"/>
<ellipse cx="1818.1" cy="1281.8" rx="34.7" ry="34.7" fill="#18983a"/>
<ellipse cx="1886.3" cy="1262.4" rx="34.7" ry="57.8" fill="#18983a"/>
<ellipse cx="1961.7" cy="1289.1" rx="34.7" ry="76.3" fill="#18983a"/>
<ellipse cx="2012.9" cy="1133.3" rx="32.4" ry="97.2" fill="#18983a"/>
<ellipse cx="1752.4" cy="1165.0" rx="20.8" ry="13.9" fill="#18983a"/>
<ellipse cx="1959.3" cy="1006.7" rx="20.8" ry="23.1" fill="#18983a"/>
</g>
<ellipse cx="1917.9" cy="1238.0" rx="14.0" ry="30.0" fill="#1d5a2c" opacity="0.8" filter="url(#b4)"/>
<g fill="#3fe163" filter="url(#warp2)"><ellipse cx="1873.6" cy="1199.1" rx="6.8" ry="10.9" transform="rotate(-25 1873.6 1199.1)"/><ellipse cx="2023.0" cy="1162.6" rx="6.7" ry="8.8" transform="rotate(54 2023.0 1162.6)"/><ellipse cx="1891.2" cy="1209.8" rx="6.7" ry="8.2" transform="rotate(-14 1891.2 1209.8)"/><ellipse cx="1929.8" cy="1289.3" rx="7.0" ry="10.6" transform="rotate(33 1929.8 1289.3)"/><ellipse cx="1949.9" cy="998.6" rx="9.5" ry="11.4" transform="rotate(-27 1949.9 998.6)"/><ellipse cx="1937.4" cy="1220.7" rx="7.1" ry="10.1" transform="rotate(-29 1937.4 1220.7)"/><ellipse cx="1897.7" cy="1005.4" rx="8.1" ry="10.1" transform="rotate(52 1897.7 1005.4)"/><ellipse cx="1790.6" cy="1076.0" rx="8.9" ry="11.1" transform="rotate(64 1790.6 1076.0)"/><ellipse cx="1740.0" cy="1162.0" rx="9.3" ry="9.2" transform="rotate(51 1740.0 1162.0)"/><ellipse cx="1894.8" cy="1230.2" rx="9.4" ry="11.9" transform="rotate(58 1894.8 1230.2)"/><ellipse cx="1875.2" cy="1090.0" rx="6.4" ry="12.9" transform="rotate(22 1875.2 1090.0)"/><ellipse cx="1830.2" cy="1071.3" rx="6.9" ry="11.8" transform="rotate(54 1830.2 1071.3)"/><ellipse cx="1973.0" cy="1137.4" rx="8.3" ry="12.9" transform="rotate(25 1973.0 1137.4)"/><ellipse cx="1998.4" cy="1132.0" rx="8.3" ry="12.3" transform="rotate(66 1998.4 1132.0)"/><ellipse cx="2040.8" cy="1136.2" rx="9.1" ry="10.7" transform="rotate(27 2040.8 1136.2)"/><ellipse cx="1976.9" cy="1086.8" rx="7.1" ry="8.7" transform="rotate(-55 1976.9 1086.8)"/><ellipse cx="1982.7" cy="1051.1" rx="7.5" ry="12.0" transform="rotate(23 1982.7 1051.1)"/><ellipse cx="1907.5" cy="1155.6" rx="9.0" ry="9.3" transform="rotate(-26 1907.5 1155.6)"/><ellipse cx="1790.8" cy="1265.7" rx="9.3" ry="8.4" transform="rotate(55 1790.8 1265.7)"/><ellipse cx="1797.1" cy="1135.0" rx="9.1" ry="9.5" transform="rotate(45 1797.1 1135.0)"/><ellipse cx="1975.0" cy="1109.7" rx="9.5" ry="10.9" transform="rotate(38 1975.0 1109.7)"/><ellipse cx="1848.1" cy="1157.8" rx="6.7" ry="12.9" transform="rotate(-64 1848.1 1157.8)"/><ellipse cx="1809.4" cy="1055.8" rx="8.4" ry="11.9" transform="rotate(32 1809.4 1055.8)"/><ellipse cx="1964.5" cy="1346.4" rx="7.1" ry="11.0" transform="rotate(-41 1964.5 1346.4)"/><ellipse cx="2009.7" cy="1216.0" rx="7.1" ry="11.8" transform="rotate(45 2009.7 1216.0)"/><ellipse cx="1863.8" cy="1022.5" rx="6.9" ry="12.1" transform="rotate(11 1863.8 1022.5)"/><ellipse cx="1805.9" cy="1255.1" rx="7.8" ry="9.8" transform="rotate(18 1805.9 1255.1)"/><ellipse cx="1811.8" cy="1301.2" rx="8.3" ry="8.4" transform="rotate(60 1811.8 1301.2)"/><ellipse cx="1919.2" cy="1096.0" rx="9.2" ry="11.3" transform="rotate(10 1919.2 1096.0)"/><ellipse cx="2020.8" cy="1061.3" rx="9.2" ry="11.0" transform="rotate(27 2020.8 1061.3)"/><ellipse cx="1871.5" cy="1005.8" rx="7.6" ry="8.5" transform="rotate(61 1871.5 1005.8)"/><ellipse cx="1911.5" cy="1033.3" rx="9.5" ry="11.7" transform="rotate(32 1911.5 1033.3)"/><ellipse cx="1949.2" cy="1208.6" rx="6.5" ry="11.9" transform="rotate(44 1949.2 1208.6)"/><ellipse cx="1883.1" cy="1265.2" rx="7.3" ry="9.5" transform="rotate(-63 1883.1 1265.2)"/><ellipse cx="1963.7" cy="1254.8" rx="7.9" ry="12.8" transform="rotate(46 1963.7 1254.8)"/><ellipse cx="1981.5" cy="1336.6" rx="7.9" ry="12.8" transform="rotate(12 1981.5 1336.6)"/><ellipse cx="1862.5" cy="1288.4" rx="6.8" ry="9.9" transform="rotate(46 1862.5 1288.4)"/><ellipse cx="1928.3" cy="1130.4" rx="8.3" ry="8.7" transform="rotate(-41 1928.3 1130.4)"/><ellipse cx="1869.9" cy="1306.9" rx="8.6" ry="10.6" transform="rotate(-38 1869.9 1306.9)"/><ellipse cx="1882.7" cy="1071.5" rx="6.9" ry="8.4" transform="rotate(51 1882.7 1071.5)"/><ellipse cx="1951.5" cy="1174.9" rx="9.0" ry="12.1" transform="rotate(31 1951.5 1174.9)"/><ellipse cx="1794.6" cy="1048.0" rx="6.4" ry="8.1" transform="rotate(30 1794.6 1048.0)"/><ellipse cx="1995.4" cy="1310.9" rx="8.4" ry="12.3" transform="rotate(38 1995.4 1310.9)"/><ellipse cx="1928.5" cy="1173.5" rx="7.7" ry="11.1" transform="rotate(63 1928.5 1173.5)"/><ellipse cx="1830.3" cy="1307.2" rx="6.4" ry="11.1" transform="rotate(4 1830.3 1307.2)"/><ellipse cx="2041.3" cy="1157.5" rx="7.9" ry="11.3" transform="rotate(-13 2041.3 1157.5)"/><ellipse cx="1828.3" cy="1288.8" rx="6.7" ry="11.8" transform="rotate(62 1828.3 1288.8)"/><ellipse cx="1993.1" cy="1074.3" rx="7.9" ry="12.5" transform="rotate(48 1993.1 1074.3)"/><ellipse cx="1929.6" cy="1155.2" rx="8.2" ry="12.5" transform="rotate(-22 1929.6 1155.2)"/><ellipse cx="1947.1" cy="1059.5" rx="7.5" ry="10.4" transform="rotate(-5 1947.1 1059.5)"/><ellipse cx="1880.8" cy="1051.5" rx="6.7" ry="8.2" transform="rotate(15 1880.8 1051.5)"/><ellipse cx="1816.6" cy="1116.2" rx="6.9" ry="10.6" transform="rotate(-22 1816.6 1116.2)"/><ellipse cx="1771.6" cy="1157.9" rx="7.6" ry="9.7" transform="rotate(59 1771.6 1157.9)"/><ellipse cx="1849.7" cy="1202.6" rx="6.3" ry="8.4" transform="rotate(-68 1849.7 1202.6)"/><ellipse cx="1959.0" cy="1299.2" rx="6.7" ry="11.1" transform="rotate(-13 1959.0 1299.2)"/><ellipse cx="1933.5" cy="1260.2" rx="9.4" ry="8.7" transform="rotate(-20 1933.5 1260.2)"/><ellipse cx="1900.4" cy="1288.5" rx="9.5" ry="10.4" transform="rotate(-18 1900.4 1288.5)"/><ellipse cx="1800.5" cy="1186.2" rx="8.2" ry="13.0" transform="rotate(46 1800.5 1186.2)"/><ellipse cx="1822.3" cy="1264.5" rx="7.7" ry="12.3" transform="rotate(66 1822.3 1264.5)"/><ellipse cx="1997.5" cy="1199.1" rx="7.4" ry="9.6" transform="rotate(56 1997.5 1199.1)"/><ellipse cx="1829.1" cy="1129.9" rx="7.6" ry="8.1" transform="rotate(-26 1829.1 1129.9)"/><ellipse cx="2037.0" cy="1185.3" rx="8.7" ry="8.8" transform="rotate(9 2037.0 1185.3)"/><ellipse cx="1911.8" cy="1060.2" rx="6.6" ry="10.1" transform="rotate(23 1911.8 1060.2)"/><ellipse cx="1900.1" cy="1177.1" rx="6.5" ry="10.9" transform="rotate(-37 1900.1 1177.1)"/><ellipse cx="1815.7" cy="1165.5" rx="7.7" ry="11.4" transform="rotate(-68 1815.7 1165.5)"/><ellipse cx="1881.3" cy="1105.2" rx="7.8" ry="10.7" transform="rotate(68 1881.3 1105.2)"/><ellipse cx="1947.9" cy="1107.0" rx="8.0" ry="12.5" transform="rotate(54 1947.9 1107.0)"/><ellipse cx="1898.0" cy="1044.2" rx="9.2" ry="10.5" transform="rotate(-49 1898.0 1044.2)"/><ellipse cx="2016.2" cy="1104.6" rx="7.2" ry="8.2" transform="rotate(-60 2016.2 1104.6)"/><ellipse cx="2011.4" cy="1034.2" rx="7.7" ry="11.6" transform="rotate(29 2011.4 1034.2)"/><ellipse cx="1980.5" cy="1031.1" rx="8.9" ry="8.8" transform="rotate(-51 1980.5 1031.1)"/><ellipse cx="1857.9" cy="1247.6" rx="6.3" ry="10.5" transform="rotate(-29 1857.9 1247.6)"/><ellipse cx="1946.4" cy="1335.2" rx="8.8" ry="11.9" transform="rotate(-24 1946.4 1335.2)"/><ellipse cx="1889.6" cy="1247.8" rx="7.1" ry="10.5" transform="rotate(50 1889.6 1247.8)"/><ellipse cx="1787.8" cy="1158.1" rx="9.3" ry="11.7" transform="rotate(30 1787.8 1158.1)"/><ellipse cx="1953.5" cy="1315.6" rx="8.5" ry="7.8" transform="rotate(28 1953.5 1315.6)"/><ellipse cx="1966.1" cy="1283.5" rx="6.2" ry="7.8" transform="rotate(-37 1966.1 1283.5)"/><ellipse cx="1950.4" cy="1279.4" rx="7.2" ry="11.9" transform="rotate(28 1950.4 1279.4)"/><ellipse cx="1899.2" cy="1133.2" rx="7.0" ry="13.1" transform="rotate(-67 1899.2 1133.2)"/><ellipse cx="2036.6" cy="1202.2" rx="8.0" ry="12.2" transform="rotate(-54 2036.6 1202.2)"/><ellipse cx="1919.6" cy="1276.3" rx="8.4" ry="9.2" transform="rotate(7 1919.6 1276.3)"/><ellipse cx="1923.9" cy="1005.0" rx="6.3" ry="11.8" transform="rotate(12 1923.9 1005.0)"/><ellipse cx="1846.2" cy="1093.0" rx="7.7" ry="8.6" transform="rotate(-52 1846.2 1093.0)"/><ellipse cx="1967.3" cy="1001.8" rx="7.5" ry="9.8" transform="rotate(-21 1967.3 1001.8)"/><ellipse cx="1866.4" cy="1167.3" rx="7.1" ry="10.2" transform="rotate(-27 1866.4 1167.3)"/><ellipse cx="2038.5" cy="1076.7" rx="8.6" ry="9.8" transform="rotate(-67 2038.5 1076.7)"/><ellipse cx="1976.7" cy="1187.8" rx="6.7" ry="7.7" transform="rotate(-13 1976.7 1187.8)"/><ellipse cx="1962.9" cy="1074.6" rx="7.8" ry="9.4" transform="rotate(8 1962.9 1074.6)"/><ellipse cx="1978.7" cy="1224.3" rx="8.8" ry="10.2" transform="rotate(12 1978.7 1224.3)"/><ellipse cx="1816.2" cy="1147.0" rx="9.4" ry="7.7" transform="rotate(-34 1816.2 1147.0)"/><ellipse cx="1927.7" cy="1022.0" rx="6.6" ry="10.7" transform="rotate(45 1927.7 1022.0)"/><ellipse cx="1797.1" cy="1115.4" rx="8.3" ry="11.9" transform="rotate(-14 1797.1 1115.4)"/><ellipse cx="1833.4" cy="1194.7" rx="9.5" ry="11.5" transform="rotate(48 1833.4 1194.7)"/><ellipse cx="1865.8" cy="1125.3" rx="6.7" ry="8.9" transform="rotate(29 1865.8 1125.3)"/><ellipse cx="1820.0" cy="1037.7" rx="7.0" ry="11.6" transform="rotate(7 1820.0 1037.7)"/><ellipse cx="1843.7" cy="1263.4" rx="9.6" ry="10.3" transform="rotate(3 1843.7 1263.4)"/><ellipse cx="1846.4" cy="1027.8" rx="7.4" ry="12.6" transform="rotate(-43 1846.4 1027.8)"/><ellipse cx="1846.1" cy="1123.0" rx="6.6" ry="12.9" transform="rotate(65 1846.1 1123.0)"/><ellipse cx="1963.7" cy="1330.4" rx="7.3" ry="8.6" transform="rotate(-14 1963.7 1330.4)"/><ellipse cx="1935.9" cy="1077.4" rx="7.0" ry="10.2" transform="rotate(20 1935.9 1077.4)"/><ellipse cx="1800.2" cy="1278.7" rx="7.7" ry="10.8" transform="rotate(-18 1800.2 1278.7)"/><ellipse cx="2020.1" cy="1141.3" rx="8.7" ry="9.9" transform="rotate(-31 2020.1 1141.3)"/><ellipse cx="1863.5" cy="1038.9" rx="7.7" ry="10.5" transform="rotate(22 1863.5 1038.9)"/><ellipse cx="1965.1" cy="1366.0" rx="9.7" ry="9.7" transform="rotate(7 1965.1 1366.0)"/><ellipse cx="1849.3" cy="1047.3" rx="6.8" ry="12.0" transform="rotate(39 1849.3 1047.3)"/><ellipse cx="1989.1" cy="1168.0" rx="7.9" ry="9.0" transform="rotate(-52 1989.1 1168.0)"/><ellipse cx="2005.6" cy="1182.2" rx="7.6" ry="9.0" transform="rotate(50 2005.6 1182.2)"/><ellipse cx="1957.2" cy="1020.0" rx="7.7" ry="12.8" transform="rotate(47 1957.2 1020.0)"/><ellipse cx="1882.4" cy="1163.8" rx="8.1" ry="8.2" transform="rotate(32 1882.4 1163.8)"/><ellipse cx="1829.0" cy="1102.7" rx="7.5" ry="13.2" transform="rotate(19 1829.0 1102.7)"/><ellipse cx="2016.3" cy="1194.6" rx="8.6" ry="10.2" transform="rotate(-61 2016.3 1194.6)"/><ellipse cx="1842.0" cy="1176.1" rx="6.6" ry="10.0" transform="rotate(-41 1842.0 1176.1)"/><ellipse cx="1928.9" cy="1059.0" rx="6.2" ry="12.3" transform="rotate(-8 1928.9 1059.0)"/><ellipse cx="1907.8" cy="1084.7" rx="8.6" ry="13.1" transform="rotate(31 1907.8 1084.7)"/><ellipse cx="1775.7" cy="1131.9" rx="7.6" ry="9.5" transform="rotate(-28 1775.7 1131.9)"/><ellipse cx="1910.2" cy="1110.9" rx="7.5" ry="8.2" transform="rotate(-57 1910.2 1110.9)"/><ellipse cx="1942.8" cy="1038.4" rx="7.3" ry="9.6" transform="rotate(43 1942.8 1038.4)"/><ellipse cx="1879.2" cy="1141.6" rx="6.7" ry="12.4" transform="rotate(-39 1879.2 1141.6)"/><ellipse cx="1807.6" cy="1098.2" rx="6.3" ry="10.9" transform="rotate(-32 1807.6 1098.2)"/><ellipse cx="1890.5" cy="1309.6" rx="7.0" ry="11.0" transform="rotate(-38 1890.5 1309.6)"/><ellipse cx="2031.6" cy="1049.7" rx="6.8" ry="12.0" transform="rotate(42 2031.6 1049.7)"/><ellipse cx="1910.5" cy="1192.7" rx="9.2" ry="9.1" transform="rotate(-15 1910.5 1192.7)"/><ellipse cx="1776.7" cy="1102.8" rx="7.8" ry="9.3" transform="rotate(-30 1776.7 1102.8)"/><ellipse cx="1993.5" cy="1286.9" rx="7.9" ry="8.3" transform="rotate(2 1993.5 1286.9)"/><ellipse cx="1845.8" cy="1066.1" rx="7.6" ry="13.1" transform="rotate(-18 1845.8 1066.1)"/><ellipse cx="1782.3" cy="1061.2" rx="6.3" ry="10.9" transform="rotate(17 1782.3 1061.2)"/><ellipse cx="2003.5" cy="1061.6" rx="9.3" ry="11.2" transform="rotate(-40 2003.5 1061.6)"/><ellipse cx="1851.7" cy="1010.5" rx="7.3" ry="9.2" transform="rotate(31 1851.7 1010.5)"/><ellipse cx="1949.3" cy="1122.8" rx="8.1" ry="10.0" transform="rotate(42 1949.3 1122.8)"/><ellipse cx="2026.9" cy="1121.6" rx="8.8" ry="9.9" transform="rotate(-47 2026.9 1121.6)"/><ellipse cx="2039.2" cy="1097.8" rx="6.9" ry="9.8" transform="rotate(-24 2039.2 1097.8)"/><ellipse cx="1941.4" cy="1352.1" rx="7.0" ry="7.9" transform="rotate(10 1941.4 1352.1)"/><ellipse cx="1860.5" cy="1143.2" rx="7.8" ry="10.7" transform="rotate(64 1860.5 1143.2)"/><ellipse cx="1907.9" cy="1304.1" rx="9.5" ry="9.8" transform="rotate(-22 1907.9 1304.1)"/><ellipse cx="1833.3" cy="1051.2" rx="8.7" ry="9.4" transform="rotate(-38 1833.3 1051.2)"/><ellipse cx="1948.1" cy="1144.7" rx="8.3" ry="8.9" transform="rotate(2 1948.1 1144.7)"/><ellipse cx="1885.0" cy="1028.9" rx="8.8" ry="9.2" transform="rotate(-70 1885.0 1028.9)"/><ellipse cx="1981.2" cy="1267.1" rx="7.7" ry="8.3" transform="rotate(25 1981.2 1267.1)"/><ellipse cx="1858.1" cy="1106.8" rx="6.4" ry="8.2" transform="rotate(32 1858.1 1106.8)"/><ellipse cx="2028.3" cy="1218.5" rx="9.5" ry="11.3" transform="rotate(-61 2028.3 1218.5)"/><ellipse cx="1965.7" cy="1215.1" rx="7.3" ry="9.4" transform="rotate(26 1965.7 1215.1)"/><ellipse cx="2013.9" cy="1079.8" rx="7.4" ry="12.4" transform="rotate(10 2013.9 1079.8)"/><ellipse cx="1825.9" cy="1178.8" rx="6.4" ry="9.7" transform="rotate(-46 1825.9 1178.8)"/><ellipse cx="1859.1" cy="1219.4" rx="9.0" ry="8.0" transform="rotate(27 1859.1 1219.4)"/><ellipse cx="1934.0" cy="1310.5" rx="7.1" ry="12.6" transform="rotate(-52 1934.0 1310.5)"/><ellipse cx="1881.4" cy="1121.1" rx="6.4" ry="11.4" transform="rotate(-48 1881.4 1121.1)"/><ellipse cx="1967.7" cy="1171.0" rx="6.7" ry="12.2" transform="rotate(50 1967.7 1171.0)"/><ellipse cx="1820.9" cy="1245.6" rx="9.0" ry="12.2" transform="rotate(34 1820.9 1245.6)"/><ellipse cx="1993.6" cy="1109.4" rx="7.5" ry="12.6" transform="rotate(-38 1993.6 1109.4)"/><ellipse cx="1977.8" cy="1152.9" rx="9.2" ry="12.6" transform="rotate(59 1977.8 1152.9)"/><ellipse cx="1941.3" cy="1194.5" rx="7.5" ry="12.9" transform="rotate(6 1941.3 1194.5)"/><ellipse cx="1978.6" cy="1066.9" rx="7.5" ry="8.7" transform="rotate(13 1978.6 1066.9)"/><ellipse cx="1845.2" cy="1287.1" rx="9.1" ry="11.3" transform="rotate(-52 1845.2 1287.1)"/><ellipse cx="1993.1" cy="1248.9" rx="6.2" ry="12.9" transform="rotate(27 1993.1 1248.9)"/><ellipse cx="1876.0" cy="1215.8" rx="6.6" ry="12.0" transform="rotate(35 1876.0 1215.8)"/><ellipse cx="1758.9" cy="1175.0" rx="6.3" ry="8.5" transform="rotate(57 1758.9 1175.0)"/><ellipse cx="1979.0" cy="1320.6" rx="8.5" ry="12.7" transform="rotate(-33 1979.0 1320.6)"/><ellipse cx="1938.0" cy="1241.3" rx="6.8" ry="11.6" transform="rotate(30 1938.0 1241.3)"/><ellipse cx="1868.2" cy="1235.3" rx="7.5" ry="9.9" transform="rotate(-18 1868.2 1235.3)"/><ellipse cx="1817.3" cy="1201.9" rx="8.5" ry="12.9" transform="rotate(-64 1817.3 1201.9)"/><ellipse cx="1832.5" cy="1163.3" rx="8.4" ry="13.1" transform="rotate(-36 1832.5 1163.3)"/><ellipse cx="1978.2" cy="1356.6" rx="6.5" ry="8.7" transform="rotate(38 1978.2 1356.6)"/><ellipse cx="1837.0" cy="1145.0" rx="9.0" ry="7.7" transform="rotate(-42 1837.0 1145.0)"/><ellipse cx="1880.2" cy="1283.4" rx="8.6" ry="9.2" transform="rotate(23 1880.2 1283.4)"/><ellipse cx="1980.1" cy="1301.8" rx="9.0" ry="13.2" transform="rotate(-42 1980.1 1301.8)"/><ellipse cx="1895.2" cy="1061.0" rx="9.1" ry="9.0" transform="rotate(10 1895.2 1061.0)"/><ellipse cx="1891.7" cy="1087.4" rx="7.0" ry="8.3" transform="rotate(-14 1891.7 1087.4)"/><ellipse cx="1927.5" cy="1207.7" rx="6.3" ry="11.0" transform="rotate(42 1927.5 1207.7)"/><ellipse cx="1786.9" cy="1287.9" rx="7.5" ry="11.4" transform="rotate(-63 1786.9 1287.9)"/><ellipse cx="1858.1" cy="1078.3" rx="7.8" ry="12.4" transform="rotate(11 1858.1 1078.3)"/><ellipse cx="1964.3" cy="1042.7" rx="7.4" ry="9.2" transform="rotate(23 1964.3 1042.7)"/><ellipse cx="1775.1" cy="1081.7" rx="9.2" ry="9.9" transform="rotate(65 1775.1 1081.7)"/><ellipse cx="1902.8" cy="1266.1" rx="7.5" ry="7.7" transform="rotate(-40 1902.8 1266.1)"/><ellipse cx="1964.7" cy="1233.8" rx="8.6" ry="11.0" transform="rotate(32 1964.7 1233.8)"/><ellipse cx="1885.0" cy="1186.1" rx="7.2" ry="12.7" transform="rotate(17 1885.0 1186.1)"/><ellipse cx="1832.2" cy="1211.2" rx="9.2" ry="11.8" transform="rotate(-48 1832.2 1211.2)"/><ellipse cx="1906.2" cy="1249.7" rx="6.3" ry="10.5" transform="rotate(-34 1906.2 1249.7)"/><ellipse cx="1857.8" cy="1183.5" rx="8.6" ry="11.0" transform="rotate(61 1857.8 1183.5)"/><ellipse cx="1859.6" cy="1269.0" rx="9.2" ry="12.2" transform="rotate(16 1859.6 1269.0)"/><ellipse cx="1997.2" cy="1151.0" rx="6.9" ry="7.8" transform="rotate(47 1997.2 1151.0)"/><ellipse cx="1926.6" cy="1042.0" rx="6.9" ry="10.2" transform="rotate(-20 1926.6 1042.0)"/><ellipse cx="1824.8" cy="1087.1" rx="8.4" ry="12.0" transform="rotate(62 1824.8 1087.1)"/><ellipse cx="1961.5" cy="1194.0" rx="8.4" ry="11.6" transform="rotate(-57 1961.5 1194.0)"/><ellipse cx="2015.2" cy="1232.0" rx="7.2" ry="8.1" transform="rotate(29 2015.2 1232.0)"/><ellipse cx="1791.8" cy="1097.1" rx="8.4" ry="12.9" transform="rotate(-0 1791.8 1097.1)"/><ellipse cx="1828.0" cy="1023.7" rx="7.6" ry="11.0" transform="rotate(60 1828.0 1023.7)"/><ellipse cx="1806.3" cy="1073.5" rx="8.9" ry="10.6" transform="rotate(-39 1806.3 1073.5)"/><ellipse cx="1930.5" cy="1329.6" rx="6.2" ry="10.1" transform="rotate(45 1930.5 1329.6)"/><ellipse cx="1908.8" cy="1211.5" rx="9.6" ry="10.0" transform="rotate(-57 1908.8 1211.5)"/><ellipse cx="1966.9" cy="984.6" rx="6.3" ry="12.0" transform="rotate(43 1966.9 984.6)"/><ellipse cx="1931.6" cy="1113.0" rx="8.8" ry="9.6" transform="rotate(27 1931.6 1113.0)"/><ellipse cx="1755.1" cy="1153.4" rx="8.7" ry="11.6" transform="rotate(13 1755.1 1153.4)"/><ellipse cx="1963.7" cy="1098.1" rx="9.4" ry="11.9" transform="rotate(-13 1963.7 1098.1)"/><ellipse cx="1794.2" cy="1308.9" rx="8.1" ry="12.9" transform="rotate(7 1794.2 1308.9)"/><ellipse cx="1914.0" cy="1140.3" rx="9.6" ry="8.3" transform="rotate(-12 1914.0 1140.3)"/><ellipse cx="1863.9" cy="1056.3" rx="6.3" ry="8.0" transform="rotate(-36 1863.9 1056.3)"/><ellipse cx="1997.4" cy="1092.6" rx="8.8" ry="8.2" transform="rotate(-52 1997.4 1092.6)"/><ellipse cx="2045.0" cy="1113.5" rx="9.0" ry="10.3" transform="rotate(-20 2045.0 1113.5)"/><ellipse cx="1939.5" cy="1093.3" rx="9.6" ry="9.6" transform="rotate(-35 1939.5 1093.3)"/><ellipse cx="1812.4" cy="1317.7" rx="9.0" ry="12.0" transform="rotate(1 1812.4 1317.7)"/></g>
<g fill="#dcffe6" filter="url(#warp)" opacity="0.95"><ellipse cx="1873.6" cy="1199.1" rx="3.9" ry="7.4" transform="rotate(-25 1873.6 1199.1)"/><ellipse cx="2023.0" cy="1162.6" rx="3.9" ry="5.6" transform="rotate(54 2023.0 1162.6)"/><ellipse cx="1891.2" cy="1209.8" rx="3.9" ry="5.1" transform="rotate(-14 1891.2 1209.8)"/><ellipse cx="1929.8" cy="1289.3" rx="4.1" ry="7.1" transform="rotate(33 1929.8 1289.3)"/><ellipse cx="1949.9" cy="998.6" rx="6.2" ry="7.8" transform="rotate(-27 1949.9 998.6)"/><ellipse cx="1937.4" cy="1220.7" rx="4.2" ry="6.7" transform="rotate(-29 1937.4 1220.7)"/><ellipse cx="1897.7" cy="1005.4" rx="5.1" ry="6.7" transform="rotate(52 1897.7 1005.4)"/><ellipse cx="1790.6" cy="1076.0" rx="5.7" ry="7.5" transform="rotate(64 1790.6 1076.0)"/><ellipse cx="1740.0" cy="1162.0" rx="6.1" ry="6.0" transform="rotate(51 1740.0 1162.0)"/><ellipse cx="1894.8" cy="1230.2" rx="6.1" ry="8.3" transform="rotate(58 1894.8 1230.2)"/><ellipse cx="1875.2" cy="1090.0" rx="3.5" ry="9.1" transform="rotate(22 1875.2 1090.0)"/><ellipse cx="1830.2" cy="1071.3" rx="4.0" ry="8.2" transform="rotate(54 1830.2 1071.3)"/><ellipse cx="1973.0" cy="1137.4" rx="5.2" ry="9.1" transform="rotate(25 1973.0 1137.4)"/><ellipse cx="1998.4" cy="1132.0" rx="5.1" ry="8.6" transform="rotate(66 1998.4 1132.0)"/><ellipse cx="2040.8" cy="1136.2" rx="5.9" ry="7.2" transform="rotate(27 2040.8 1136.2)"/><ellipse cx="1976.9" cy="1086.8" rx="4.1" ry="5.6" transform="rotate(-55 1976.9 1086.8)"/><ellipse cx="1982.7" cy="1051.1" rx="4.5" ry="8.3" transform="rotate(23 1982.7 1051.1)"/><ellipse cx="1907.5" cy="1155.6" rx="5.8" ry="6.0" transform="rotate(-26 1907.5 1155.6)"/><ellipse cx="1790.8" cy="1265.7" rx="6.0" ry="5.2" transform="rotate(55 1790.8 1265.7)"/><ellipse cx="1797.1" cy="1135.0" rx="5.8" ry="6.2" transform="rotate(45 1797.1 1135.0)"/><ellipse cx="1975.0" cy="1109.7" rx="6.2" ry="7.4" transform="rotate(38 1975.0 1109.7)"/><ellipse cx="1848.1" cy="1157.8" rx="3.8" ry="9.1" transform="rotate(-64 1848.1 1157.8)"/><ellipse cx="1809.4" cy="1055.8" rx="5.3" ry="8.2" transform="rotate(32 1809.4 1055.8)"/><ellipse cx="1964.5" cy="1346.4" rx="4.1" ry="7.5" transform="rotate(-41 1964.5 1346.4)"/><ellipse cx="2009.7" cy="1216.0" rx="4.2" ry="8.2" transform="rotate(45 2009.7 1216.0)"/><ellipse cx="1863.8" cy="1022.5" rx="4.0" ry="8.4" transform="rotate(11 1863.8 1022.5)"/><ellipse cx="1805.9" cy="1255.1" rx="4.8" ry="6.4" transform="rotate(18 1805.9 1255.1)"/><ellipse cx="1811.8" cy="1301.2" rx="5.2" ry="5.3" transform="rotate(60 1811.8 1301.2)"/><ellipse cx="1919.2" cy="1096.0" rx="6.0" ry="7.7" transform="rotate(10 1919.2 1096.0)"/><ellipse cx="2020.8" cy="1061.3" rx="5.9" ry="7.4" transform="rotate(27 2020.8 1061.3)"/><ellipse cx="1871.5" cy="1005.8" rx="4.6" ry="5.4" transform="rotate(61 1871.5 1005.8)"/><ellipse cx="1911.5" cy="1033.3" rx="6.2" ry="8.1" transform="rotate(32 1911.5 1033.3)"/><ellipse cx="1949.2" cy="1208.6" rx="3.7" ry="8.3" transform="rotate(44 1949.2 1208.6)"/><ellipse cx="1883.1" cy="1265.2" rx="4.4" ry="6.2" transform="rotate(-63 1883.1 1265.2)"/><ellipse cx="1963.7" cy="1254.8" rx="4.9" ry="9.0" transform="rotate(46 1963.7 1254.8)"/><ellipse cx="1981.5" cy="1336.6" rx="4.8" ry="9.0" transform="rotate(12 1981.5 1336.6)"/><ellipse cx="1862.5" cy="1288.4" rx="3.9" ry="6.5" transform="rotate(46 1862.5 1288.4)"/><ellipse cx="1928.3" cy="1130.4" rx="5.2" ry="5.5" transform="rotate(-41 1928.3 1130.4)"/><ellipse cx="1869.9" cy="1306.9" rx="5.4" ry="7.1" transform="rotate(-38 1869.9 1306.9)"/><ellipse cx="1882.7" cy="1071.5" rx="4.0" ry="5.3" transform="rotate(51 1882.7 1071.5)"/><ellipse cx="1951.5" cy="1174.9" rx="5.7" ry="8.5" transform="rotate(31 1951.5 1174.9)"/><ellipse cx="1794.6" cy="1048.0" rx="3.6" ry="5.0" transform="rotate(30 1794.6 1048.0)"/><ellipse cx="1995.4" cy="1310.9" rx="5.3" ry="8.5" transform="rotate(38 1995.4 1310.9)"/><ellipse cx="1928.5" cy="1173.5" rx="4.7" ry="7.6" transform="rotate(63 1928.5 1173.5)"/><ellipse cx="1830.3" cy="1307.2" rx="3.5" ry="7.6" transform="rotate(4 1830.3 1307.2)"/><ellipse cx="2041.3" cy="1157.5" rx="4.9" ry="7.7" transform="rotate(-13 2041.3 1157.5)"/><ellipse cx="1828.3" cy="1288.8" rx="3.8" ry="8.1" transform="rotate(62 1828.3 1288.8)"/><ellipse cx="1993.1" cy="1074.3" rx="4.8" ry="8.7" transform="rotate(48 1993.1 1074.3)"/><ellipse cx="1929.6" cy="1155.2" rx="5.1" ry="8.7" transform="rotate(-22 1929.6 1155.2)"/><ellipse cx="1947.1" cy="1059.5" rx="4.5" ry="7.0" transform="rotate(-5 1947.1 1059.5)"/><ellipse cx="1880.8" cy="1051.5" rx="3.8" ry="5.1" transform="rotate(15 1880.8 1051.5)"/><ellipse cx="1816.6" cy="1116.2" rx="4.0" ry="7.1" transform="rotate(-22 1816.6 1116.2)"/><ellipse cx="1771.6" cy="1157.9" rx="4.6" ry="6.4" transform="rotate(59 1771.6 1157.9)"/><ellipse cx="1849.7" cy="1202.6" rx="3.5" ry="5.2" transform="rotate(-68 1849.7 1202.6)"/><ellipse cx="1959.0" cy="1299.2" rx="3.8" ry="7.5" transform="rotate(-13 1959.0 1299.2)"/><ellipse cx="1933.5" cy="1260.2" rx="6.2" ry="5.6" transform="rotate(-20 1933.5 1260.2)"/><ellipse cx="1900.4" cy="1288.5" rx="6.2" ry="7.0" transform="rotate(-18 1900.4 1288.5)"/><ellipse cx="1800.5" cy="1186.2" rx="5.1" ry="9.1" transform="rotate(46 1800.5 1186.2)"/><ellipse cx="1822.3" cy="1264.5" rx="4.7" ry="8.6" transform="rotate(66 1822.3 1264.5)"/><ellipse cx="1997.5" cy="1199.1" rx="4.4" ry="6.3" transform="rotate(56 1997.5 1199.1)"/><ellipse cx="1829.1" cy="1129.9" rx="4.6" ry="5.0" transform="rotate(-26 1829.1 1129.9)"/><ellipse cx="2037.0" cy="1185.3" rx="5.5" ry="5.7" transform="rotate(9 2037.0 1185.3)"/><ellipse cx="1911.8" cy="1060.2" rx="3.7" ry="6.7" transform="rotate(23 1911.8 1060.2)"/><ellipse cx="1900.1" cy="1177.1" rx="3.6" ry="7.4" transform="rotate(-37 1900.1 1177.1)"/><ellipse cx="1815.7" cy="1165.5" rx="4.7" ry="7.9" transform="rotate(-68 1815.7 1165.5)"/><ellipse cx="1881.3" cy="1105.2" rx="4.7" ry="7.2" transform="rotate(68 1881.3 1105.2)"/><ellipse cx="1947.9" cy="1107.0" rx="5.0" ry="8.8" transform="rotate(54 1947.9 1107.0)"/><ellipse cx="1898.0" cy="1044.2" rx="6.0" ry="7.1" transform="rotate(-49 1898.0 1044.2)"/><ellipse cx="2016.2" cy="1104.6" rx="4.2" ry="5.1" transform="rotate(-60 2016.2 1104.6)"/><ellipse cx="2011.4" cy="1034.2" rx="4.7" ry="8.0" transform="rotate(29 2011.4 1034.2)"/><ellipse cx="1980.5" cy="1031.1" rx="5.7" ry="5.6" transform="rotate(-51 1980.5 1031.1)"/><ellipse cx="1857.9" cy="1247.6" rx="3.5" ry="7.0" transform="rotate(-29 1857.9 1247.6)"/><ellipse cx="1946.4" cy="1335.2" rx="5.6" ry="8.2" transform="rotate(-24 1946.4 1335.2)"/><ellipse cx="1889.6" cy="1247.8" rx="4.2" ry="7.0" transform="rotate(50 1889.6 1247.8)"/><ellipse cx="1787.8" cy="1158.1" rx="6.0" ry="8.1" transform="rotate(30 1787.8 1158.1)"/><ellipse cx="1953.5" cy="1315.6" rx="5.4" ry="4.8" transform="rotate(28 1953.5 1315.6)"/><ellipse cx="1966.1" cy="1283.5" rx="3.4" ry="4.8" transform="rotate(-37 1966.1 1283.5)"/><ellipse cx="1950.4" cy="1279.4" rx="4.3" ry="8.3" transform="rotate(28 1950.4 1279.4)"/><ellipse cx="1899.2" cy="1133.2" rx="4.1" ry="9.2" transform="rotate(-67 1899.2 1133.2)"/><ellipse cx="2036.6" cy="1202.2" rx="5.0" ry="8.5" transform="rotate(-54 2036.6 1202.2)"/><ellipse cx="1919.6" cy="1276.3" rx="5.3" ry="6.0" transform="rotate(7 1919.6 1276.3)"/><ellipse cx="1923.9" cy="1005.0" rx="3.5" ry="8.1" transform="rotate(12 1923.9 1005.0)"/><ellipse cx="1846.2" cy="1093.0" rx="4.7" ry="5.4" transform="rotate(-52 1846.2 1093.0)"/><ellipse cx="1967.3" cy="1001.8" rx="4.5" ry="6.5" transform="rotate(-21 1967.3 1001.8)"/><ellipse cx="1866.4" cy="1167.3" rx="4.1" ry="6.8" transform="rotate(-27 1866.4 1167.3)"/><ellipse cx="2038.5" cy="1076.7" rx="5.4" ry="6.5" transform="rotate(-67 2038.5 1076.7)"/><ellipse cx="1976.7" cy="1187.8" rx="3.8" ry="4.7" transform="rotate(-13 1976.7 1187.8)"/><ellipse cx="1962.9" cy="1074.6" rx="4.8" ry="6.1" transform="rotate(8 1962.9 1074.6)"/><ellipse cx="1978.7" cy="1224.3" rx="5.6" ry="6.8" transform="rotate(12 1978.7 1224.3)"/><ellipse cx="1816.2" cy="1147.0" rx="6.1" ry="4.7" transform="rotate(-34 1816.2 1147.0)"/><ellipse cx="1927.7" cy="1022.0" rx="3.7" ry="7.3" transform="rotate(45 1927.7 1022.0)"/><ellipse cx="1797.1" cy="1115.4" rx="5.2" ry="8.3" transform="rotate(-14 1797.1 1115.4)"/><ellipse cx="1833.4" cy="1194.7" rx="6.2" ry="7.9" transform="rotate(48 1833.4 1194.7)"/><ellipse cx="1865.8" cy="1125.3" rx="3.8" ry="5.7" transform="rotate(29 1865.8 1125.3)"/><ellipse cx="1820.0" cy="1037.7" rx="4.0" ry="8.0" transform="rotate(7 1820.0 1037.7)"/><ellipse cx="1843.7" cy="1263.4" rx="6.3" ry="6.9" transform="rotate(3 1843.7 1263.4)"/><ellipse cx="1846.4" cy="1027.8" rx="4.4" ry="8.8" transform="rotate(-43 1846.4 1027.8)"/><ellipse cx="1846.1" cy="1123.0" rx="3.7" ry="9.1" transform="rotate(65 1846.1 1123.0)"/><ellipse cx="1963.7" cy="1330.4" rx="4.4" ry="5.4" transform="rotate(-14 1963.7 1330.4)"/><ellipse cx="1935.9" cy="1077.4" rx="4.1" ry="6.8" transform="rotate(20 1935.9 1077.4)"/><ellipse cx="1800.2" cy="1278.7" rx="4.7" ry="7.3" transform="rotate(-18 1800.2 1278.7)"/><ellipse cx="2020.1" cy="1141.3" rx="5.5" ry="6.6" transform="rotate(-31 2020.1 1141.3)"/><ellipse cx="1863.5" cy="1038.9" rx="4.7" ry="7.0" transform="rotate(22 1863.5 1038.9)"/><ellipse cx="1965.1" cy="1366.0" rx="6.4" ry="6.4" transform="rotate(7 1965.1 1366.0)"/><ellipse cx="1849.3" cy="1047.3" rx="3.9" ry="8.3" transform="rotate(39 1849.3 1047.3)"/><ellipse cx="1989.1" cy="1168.0" rx="4.9" ry="5.8" transform="rotate(-52 1989.1 1168.0)"/><ellipse cx="2005.6" cy="1182.2" rx="4.6" ry="5.8" transform="rotate(50 2005.6 1182.2)"/><ellipse cx="1957.2" cy="1020.0" rx="4.7" ry="9.0" transform="rotate(47 1957.2 1020.0)"/><ellipse cx="1882.4" cy="1163.8" rx="5.0" ry="5.1" transform="rotate(32 1882.4 1163.8)"/><ellipse cx="1829.0" cy="1102.7" rx="4.5" ry="9.3" transform="rotate(19 1829.0 1102.7)"/><ellipse cx="2016.3" cy="1194.6" rx="5.4" ry="6.8" transform="rotate(-61 2016.3 1194.6)"/><ellipse cx="1842.0" cy="1176.1" rx="3.8" ry="6.7" transform="rotate(-41 1842.0 1176.1)"/><ellipse cx="1928.9" cy="1059.0" rx="3.4" ry="8.6" transform="rotate(-8 1928.9 1059.0)"/><ellipse cx="1907.8" cy="1084.7" rx="5.4" ry="9.3" transform="rotate(31 1907.8 1084.7)"/><ellipse cx="1775.7" cy="1131.9" rx="4.6" ry="6.2" transform="rotate(-28 1775.7 1131.9)"/><ellipse cx="1910.2" cy="1110.9" rx="4.5" ry="5.1" transform="rotate(-57 1910.2 1110.9)"/><ellipse cx="1942.8" cy="1038.4" rx="4.4" ry="6.3" transform="rotate(43 1942.8 1038.4)"/><ellipse cx="1879.2" cy="1141.6" rx="3.9" ry="8.7" transform="rotate(-39 1879.2 1141.6)"/><ellipse cx="1807.6" cy="1098.2" rx="3.4" ry="7.4" transform="rotate(-32 1807.6 1098.2)"/><ellipse cx="1890.5" cy="1309.6" rx="4.1" ry="7.4" transform="rotate(-38 1890.5 1309.6)"/><ellipse cx="2031.6" cy="1049.7" rx="3.9" ry="8.3" transform="rotate(42 2031.6 1049.7)"/><ellipse cx="1910.5" cy="1192.7" rx="6.0" ry="5.9" transform="rotate(-15 1910.5 1192.7)"/><ellipse cx="1776.7" cy="1102.8" rx="4.8" ry="6.0" transform="rotate(-30 1776.7 1102.8)"/><ellipse cx="1993.5" cy="1286.9" rx="4.9" ry="5.2" transform="rotate(2 1993.5 1286.9)"/><ellipse cx="1845.8" cy="1066.1" rx="4.6" ry="9.3" transform="rotate(-18 1845.8 1066.1)"/><ellipse cx="1782.3" cy="1061.2" rx="3.5" ry="7.4" transform="rotate(17 1782.3 1061.2)"/><ellipse cx="2003.5" cy="1061.6" rx="6.0" ry="7.7" transform="rotate(-40 2003.5 1061.6)"/><ellipse cx="1851.7" cy="1010.5" rx="4.3" ry="6.0" transform="rotate(31 1851.7 1010.5)"/><ellipse cx="1949.3" cy="1122.8" rx="5.0" ry="6.6" transform="rotate(42 1949.3 1122.8)"/><ellipse cx="2026.9" cy="1121.6" rx="5.6" ry="6.6" transform="rotate(-47 2026.9 1121.6)"/><ellipse cx="2039.2" cy="1097.8" rx="4.0" ry="6.4" transform="rotate(-24 2039.2 1097.8)"/><ellipse cx="1941.4" cy="1352.1" rx="4.0" ry="4.9" transform="rotate(10 1941.4 1352.1)"/><ellipse cx="1860.5" cy="1143.2" rx="4.8" ry="7.3" transform="rotate(64 1860.5 1143.2)"/><ellipse cx="1907.9" cy="1304.1" rx="6.2" ry="6.5" transform="rotate(-22 1907.9 1304.1)"/><ellipse cx="1833.3" cy="1051.2" rx="5.5" ry="6.1" transform="rotate(-38 1833.3 1051.2)"/><ellipse cx="1948.1" cy="1144.7" rx="5.2" ry="5.7" transform="rotate(2 1948.1 1144.7)"/><ellipse cx="1885.0" cy="1028.9" rx="5.6" ry="5.9" transform="rotate(-70 1885.0 1028.9)"/><ellipse cx="1981.2" cy="1267.1" rx="4.6" ry="5.2" transform="rotate(25 1981.2 1267.1)"/><ellipse cx="1858.1" cy="1106.8" rx="3.6" ry="5.1" transform="rotate(32 1858.1 1106.8)"/><ellipse cx="2028.3" cy="1218.5" rx="6.2" ry="7.7" transform="rotate(-61 2028.3 1218.5)"/><ellipse cx="1965.7" cy="1215.1" rx="4.3" ry="6.1" transform="rotate(26 1965.7 1215.1)"/><ellipse cx="2013.9" cy="1079.8" rx="4.4" ry="8.6" transform="rotate(10 2013.9 1079.8)"/><ellipse cx="1825.9" cy="1178.8" rx="3.6" ry="6.4" transform="rotate(-46 1825.9 1178.8)"/><ellipse cx="1859.1" cy="1219.4" rx="5.8" ry="5.0" transform="rotate(27 1859.1 1219.4)"/><ellipse cx="1934.0" cy="1310.5" rx="4.1" ry="8.8" transform="rotate(-52 1934.0 1310.5)"/><ellipse cx="1881.4" cy="1121.1" rx="3.5" ry="7.8" transform="rotate(-48 1881.4 1121.1)"/><ellipse cx="1967.7" cy="1171.0" rx="3.8" ry="8.5" transform="rotate(50 1967.7 1171.0)"/><ellipse cx="1820.9" cy="1245.6" rx="5.8" ry="8.5" transform="rotate(34 1820.9 1245.6)"/><ellipse cx="1993.6" cy="1109.4" rx="4.5" ry="8.8" transform="rotate(-38 1993.6 1109.4)"/><ellipse cx="1977.8" cy="1152.9" rx="6.0" ry="8.8" transform="rotate(59 1977.8 1152.9)"/><ellipse cx="1941.3" cy="1194.5" rx="4.5" ry="9.1" transform="rotate(6 1941.3 1194.5)"/><ellipse cx="1978.6" cy="1066.9" rx="4.5" ry="5.5" transform="rotate(13 1978.6 1066.9)"/><ellipse cx="1845.2" cy="1287.1" rx="5.9" ry="7.7" transform="rotate(-52 1845.2 1287.1)"/><ellipse cx="1993.1" cy="1248.9" rx="3.4" ry="9.1" transform="rotate(27 1993.1 1248.9)"/><ellipse cx="1876.0" cy="1215.8" rx="3.8" ry="8.3" transform="rotate(35 1876.0 1215.8)"/><ellipse cx="1758.9" cy="1175.0" rx="3.5" ry="5.4" transform="rotate(57 1758.9 1175.0)"/><ellipse cx="1979.0" cy="1320.6" rx="5.4" ry="8.9" transform="rotate(-33 1979.0 1320.6)"/><ellipse cx="1938.0" cy="1241.3" rx="3.9" ry="8.0" transform="rotate(30 1938.0 1241.3)"/><ellipse cx="1868.2" cy="1235.3" rx="4.5" ry="6.5" transform="rotate(-18 1868.2 1235.3)"/><ellipse cx="1817.3" cy="1201.9" rx="5.4" ry="9.1" transform="rotate(-64 1817.3 1201.9)"/><ellipse cx="1832.5" cy="1163.3" rx="5.3" ry="9.3" transform="rotate(-36 1832.5 1163.3)"/><ellipse cx="1978.2" cy="1356.6" rx="3.7" ry="5.5" transform="rotate(38 1978.2 1356.6)"/><ellipse cx="1837.0" cy="1145.0" rx="5.8" ry="4.7" transform="rotate(-42 1837.0 1145.0)"/><ellipse cx="1880.2" cy="1283.4" rx="5.4" ry="6.0" transform="rotate(23 1880.2 1283.4)"/><ellipse cx="1980.1" cy="1301.8" rx="5.8" ry="9.3" transform="rotate(-42 1980.1 1301.8)"/><ellipse cx="1895.2" cy="1061.0" rx="5.9" ry="5.8" transform="rotate(10 1895.2 1061.0)"/><ellipse cx="1891.7" cy="1087.4" rx="4.1" ry="5.2" transform="rotate(-14 1891.7 1087.4)"/><ellipse cx="1927.5" cy="1207.7" rx="3.5" ry="7.5" transform="rotate(42 1927.5 1207.7)"/><ellipse cx="1786.9" cy="1287.9" rx="4.5" ry="7.8" transform="rotate(-63 1786.9 1287.9)"/><ellipse cx="1858.1" cy="1078.3" rx="4.8" ry="8.7" transform="rotate(11 1858.1 1078.3)"/><ellipse cx="1964.3" cy="1042.7" rx="4.5" ry="6.0" transform="rotate(23 1964.3 1042.7)"/><ellipse cx="1775.1" cy="1081.7" rx="6.0" ry="6.5" transform="rotate(65 1775.1 1081.7)"/><ellipse cx="1902.8" cy="1266.1" rx="4.5" ry="4.7" transform="rotate(-40 1902.8 1266.1)"/><ellipse cx="1964.7" cy="1233.8" rx="5.5" ry="7.5" transform="rotate(32 1964.7 1233.8)"/><ellipse cx="1885.0" cy="1186.1" rx="4.2" ry="8.9" transform="rotate(17 1885.0 1186.1)"/><ellipse cx="1832.2" cy="1211.2" rx="5.9" ry="8.2" transform="rotate(-48 1832.2 1211.2)"/><ellipse cx="1906.2" cy="1249.7" rx="3.5" ry="7.1" transform="rotate(-34 1906.2 1249.7)"/><ellipse cx="1857.8" cy="1183.5" rx="5.4" ry="7.5" transform="rotate(61 1857.8 1183.5)"/><ellipse cx="1859.6" cy="1269.0" rx="5.9" ry="8.5" transform="rotate(16 1859.6 1269.0)"/><ellipse cx="1997.2" cy="1151.0" rx="4.0" ry="4.8" transform="rotate(47 1997.2 1151.0)"/><ellipse cx="1926.6" cy="1042.0" rx="4.0" ry="6.8" transform="rotate(-20 1926.6 1042.0)"/><ellipse cx="1824.8" cy="1087.1" rx="5.3" ry="8.3" transform="rotate(62 1824.8 1087.1)"/><ellipse cx="1961.5" cy="1194.0" rx="5.3" ry="8.0" transform="rotate(-57 1961.5 1194.0)"/><ellipse cx="2015.2" cy="1232.0" rx="4.2" ry="5.0" transform="rotate(29 2015.2 1232.0)"/><ellipse cx="1791.8" cy="1097.1" rx="5.3" ry="9.1" transform="rotate(-0 1791.8 1097.1)"/><ellipse cx="1828.0" cy="1023.7" rx="4.6" ry="7.5" transform="rotate(60 1828.0 1023.7)"/><ellipse cx="1806.3" cy="1073.5" rx="5.7" ry="7.1" transform="rotate(-39 1806.3 1073.5)"/><ellipse cx="1930.5" cy="1329.6" rx="3.4" ry="6.7" transform="rotate(45 1930.5 1329.6)"/><ellipse cx="1908.8" cy="1211.5" rx="6.3" ry="6.6" transform="rotate(-57 1908.8 1211.5)"/><ellipse cx="1966.9" cy="984.6" rx="3.5" ry="8.4" transform="rotate(43 1966.9 984.6)"/><ellipse cx="1931.6" cy="1113.0" rx="5.6" ry="6.3" transform="rotate(27 1931.6 1113.0)"/><ellipse cx="1755.1" cy="1153.4" rx="5.5" ry="8.0" transform="rotate(13 1755.1 1153.4)"/><ellipse cx="1963.7" cy="1098.1" rx="6.2" ry="8.3" transform="rotate(-13 1963.7 1098.1)"/><ellipse cx="1794.2" cy="1308.9" rx="5.0" ry="9.1" transform="rotate(7 1794.2 1308.9)"/><ellipse cx="1914.0" cy="1140.3" rx="6.3" ry="5.2" transform="rotate(-12 1914.0 1140.3)"/><ellipse cx="1863.9" cy="1056.3" rx="3.5" ry="4.9" transform="rotate(-36 1863.9 1056.3)"/><ellipse cx="1997.4" cy="1092.6" rx="5.6" ry="5.1" transform="rotate(-52 1997.4 1092.6)"/><ellipse cx="2045.0" cy="1113.5" rx="5.8" ry="6.9" transform="rotate(-20 2045.0 1113.5)"/><ellipse cx="1939.5" cy="1093.3" rx="6.3" ry="6.3" transform="rotate(-35 1939.5 1093.3)"/><ellipse cx="1812.4" cy="1317.7" rx="5.8" ry="8.4" transform="rotate(1 1812.4 1317.7)"/></g>
<ellipse cx="1967.8" cy="1257.5" rx="17.0" ry="42.0" fill="#e4fff0" opacity="0.85" transform="rotate(4 1967.8 1257.5)" filter="url(#b8)"/>
<ellipse cx="1959.3" cy="1303.8" rx="20.0" ry="30.0" fill="#7dffa0" opacity="0.55" filter="url(#b4)"/>
<ellipse cx="1995.8" cy="1094.4" rx="20.0" ry="50.0" fill="#b8ffd0" opacity="0.3" transform="rotate(15 1995.8 1094.4)" filter="url(#b8)"/>
<rect x="1674" y="960.5" width="445.5" height="443" filter="url(#grain)" opacity="0.10"/>
</g>
<g clip-path="url(#cp3)">
<rect x="1236" y="1398" width="438" height="452" fill="#2b3c31"/>
<ellipse cx="1378.2" cy="1636.3" rx="150.0" ry="190.0" fill="#38493c" opacity="0.65" transform="rotate(-25 1378.2 1636.3)" filter="url(#b32)"/>
<ellipse cx="1450.2" cy="1410.4" rx="260.0" ry="40.0" fill="#1e3025" opacity="0.7" filter="url(#b16)"/>
<rect x="1236" y="1398" width="24" height="452" fill="#2c2b24" opacity="0.8" filter="url(#b4)"/>
<ellipse cx="1594.4" cy="1468.1" rx="110.0" ry="100.0" fill="#26382d" opacity="0.6" filter="url(#b32)"/>
<ellipse cx="1474.3" cy="1816.5" rx="220.0" ry="50.0" fill="#2e4635" opacity="0.6" filter="url(#b16)"/>
<ellipse cx="1301.3" cy="1650.7" rx="15.0" ry="17.0" fill="#18241c" opacity="0.8" filter="url(#b4)"/>
<ellipse cx="1378.2" cy="1708.3" rx="5.0" ry="7.0" fill="#18241c" opacity="0.7" filter="url(#b2)"/>
<ellipse cx="1592.0" cy="1595.4" rx="6.0" ry="22.0" fill="#1c2a20" opacity="0.6" transform="rotate(-30 1592.0 1595.4)" filter="url(#b4)"/>
<ellipse cx="1654.5" cy="1636.3" rx="8.0" ry="120.0" fill="#3c5440" opacity="0.5" filter="url(#b4)"/>
<ellipse cx="1462.3" cy="1489.7" rx="50.0" ry="48.0" fill="#1c9a3c" opacity="0.75" filter="url(#b8)"/>
<path d="M1465,1448L1493,1466L1501,1482L1498,1516L1469,1526L1448,1532L1436,1509L1424,1489L1443,1466z" fill="#2fd858" opacity="0.92" filter="url(#b4)"/>
<g fill="#49ec70" filter="url(#b2)"><ellipse cx="1440.2" cy="1478.5" rx="11.4" ry="4.8" transform="rotate(-35 1440.2 1478.5)"/><ellipse cx="1444.3" cy="1462.6" rx="12.0" ry="4.5" transform="rotate(-35 1444.3 1462.6)"/><ellipse cx="1448.4" cy="1468.7" rx="9.5" ry="6.4" transform="rotate(-35 1448.4 1468.7)"/><ellipse cx="1443.5" cy="1486.1" rx="12.2" ry="5.6" transform="rotate(-35 1443.5 1486.1)"/><ellipse cx="1457.6" cy="1504.7" rx="9.5" ry="4.2" transform="rotate(-35 1457.6 1504.7)"/><ellipse cx="1441.1" cy="1471.5" rx="9.1" ry="6.1" transform="rotate(-35 1441.1 1471.5)"/><ellipse cx="1482.3" cy="1479.3" rx="10.6" ry="4.4" transform="rotate(-35 1482.3 1479.3)"/><ellipse cx="1493.4" cy="1502.0" rx="8.2" ry="4.6" transform="rotate(-35 1493.4 1502.0)"/><ellipse cx="1484.2" cy="1471.9" rx="7.2" ry="4.9" transform="rotate(-35 1484.2 1471.9)"/><ellipse cx="1462.9" cy="1504.2" rx="6.5" ry="5.4" transform="rotate(-35 1462.9 1504.2)"/><ellipse cx="1456.4" cy="1507.4" rx="7.6" ry="4.4" transform="rotate(-35 1456.4 1507.4)"/><ellipse cx="1492.2" cy="1496.4" rx="11.0" ry="5.4" transform="rotate(-35 1492.2 1496.4)"/><ellipse cx="1468.6" cy="1496.4" rx="7.2" ry="4.9" transform="rotate(-35 1468.6 1496.4)"/><ellipse cx="1475.0" cy="1494.9" rx="7.7" ry="4.6" transform="rotate(-35 1475.0 1494.9)"/><ellipse cx="1451.2" cy="1472.5" rx="9.3" ry="5.0" transform="rotate(-35 1451.2 1472.5)"/><ellipse cx="1434.7" cy="1482.3" rx="8.3" ry="4.3" transform="rotate(-35 1434.7 1482.3)"/><ellipse cx="1445.3" cy="1491.9" rx="11.2" ry="4.4" transform="rotate(-35 1445.3 1491.9)"/><ellipse cx="1463.5" cy="1488.3" rx="9.8" ry="5.2" transform="rotate(-35 1463.5 1488.3)"/><ellipse cx="1449.9" cy="1520.1" rx="10.7" ry="4.5" transform="rotate(-35 1449.9 1520.1)"/><ellipse cx="1438.4" cy="1490.5" rx="6.7" ry="4.3" transform="rotate(-35 1438.4 1490.5)"/><ellipse cx="1440.6" cy="1472.5" rx="9.3" ry="5.1" transform="rotate(-35 1440.6 1472.5)"/><ellipse cx="1449.1" cy="1489.1" rx="11.8" ry="6.4" transform="rotate(-35 1449.1 1489.1)"/><ellipse cx="1460.1" cy="1490.0" rx="8.9" ry="6.0" transform="rotate(-35 1460.1 1490.0)"/><ellipse cx="1459.1" cy="1496.4" rx="7.6" ry="5.8" transform="rotate(-35 1459.1 1496.4)"/><ellipse cx="1452.2" cy="1479.3" rx="10.2" ry="5.9" transform="rotate(-35 1452.2 1479.3)"/><ellipse cx="1491.1" cy="1483.0" rx="9.1" ry="6.0" transform="rotate(-35 1491.1 1483.0)"/><ellipse cx="1489.5" cy="1474.9" rx="11.0" ry="5.5" transform="rotate(-35 1489.5 1474.9)"/><ellipse cx="1432.3" cy="1487.4" rx="10.3" ry="5.8" transform="rotate(-35 1432.3 1487.4)"/><ellipse cx="1463.1" cy="1496.4" rx="8.1" ry="5.5" transform="rotate(-35 1463.1 1496.4)"/><ellipse cx="1452.5" cy="1484.6" rx="7.6" ry="6.4" transform="rotate(-35 1452.5 1484.6)"/><ellipse cx="1491.0" cy="1504.5" rx="11.1" ry="5.5" transform="rotate(-35 1491.0 1504.5)"/><ellipse cx="1487.9" cy="1488.9" rx="6.5" ry="6.4" transform="rotate(-35 1487.9 1488.9)"/><ellipse cx="1435.2" cy="1507.3" rx="11.4" ry="4.4" transform="rotate(-35 1435.2 1507.3)"/><ellipse cx="1464.4" cy="1490.3" rx="11.2" ry="6.0" transform="rotate(-35 1464.4 1490.3)"/><ellipse cx="1463.3" cy="1497.5" rx="8.7" ry="6.0" transform="rotate(-35 1463.3 1497.5)"/><ellipse cx="1460.5" cy="1457.1" rx="12.3" ry="5.9" transform="rotate(-35 1460.5 1457.1)"/><ellipse cx="1463.2" cy="1488.0" rx="6.5" ry="6.2" transform="rotate(-35 1463.2 1488.0)"/><ellipse cx="1451.0" cy="1478.5" rx="7.3" ry="4.9" transform="rotate(-35 1451.0 1478.5)"/><ellipse cx="1451.3" cy="1508.4" rx="9.2" ry="4.6" transform="rotate(-35 1451.3 1508.4)"/><ellipse cx="1471.8" cy="1495.5" rx="7.3" ry="4.3" transform="rotate(-35 1471.8 1495.5)"/></g>
<g fill="#d2ffdc" filter="url(#b1)" opacity="0.92"><ellipse cx="1440.2" cy="1478.5" rx="7.9" ry="2.6" transform="rotate(-35 1440.2 1478.5)"/><ellipse cx="1444.3" cy="1462.6" rx="8.4" ry="2.4" transform="rotate(-35 1444.3 1462.6)"/><ellipse cx="1448.4" cy="1468.7" rx="6.4" ry="3.9" transform="rotate(-35 1448.4 1468.7)"/><ellipse cx="1443.5" cy="1486.1" rx="8.5" ry="3.3" transform="rotate(-35 1443.5 1486.1)"/><ellipse cx="1457.6" cy="1504.7" rx="6.4" ry="2.2" transform="rotate(-35 1457.6 1504.7)"/><ellipse cx="1441.1" cy="1471.5" rx="6.0" ry="3.7" transform="rotate(-35 1441.1 1471.5)"/><ellipse cx="1482.3" cy="1479.3" rx="7.3" ry="2.3" transform="rotate(-35 1482.3 1479.3)"/><ellipse cx="1493.4" cy="1502.0" rx="5.4" ry="2.5" transform="rotate(-35 1493.4 1502.0)"/><ellipse cx="1484.2" cy="1471.9" rx="4.6" ry="2.7" transform="rotate(-35 1484.2 1471.9)"/><ellipse cx="1462.9" cy="1504.2" rx="4.0" ry="3.1" transform="rotate(-35 1462.9 1504.2)"/><ellipse cx="1456.4" cy="1507.4" rx="4.9" ry="2.3" transform="rotate(-35 1456.4 1507.4)"/><ellipse cx="1492.2" cy="1496.4" rx="7.6" ry="3.2" transform="rotate(-35 1492.2 1496.4)"/><ellipse cx="1468.6" cy="1496.4" rx="4.6" ry="2.7" transform="rotate(-35 1468.6 1496.4)"/><ellipse cx="1475.0" cy="1494.9" rx="5.0" ry="2.5" transform="rotate(-35 1475.0 1494.9)"/><ellipse cx="1451.2" cy="1472.5" rx="6.3" ry="2.8" transform="rotate(-35 1451.2 1472.5)"/><ellipse cx="1434.7" cy="1482.3" rx="5.5" ry="2.2" transform="rotate(-35 1434.7 1482.3)"/><ellipse cx="1445.3" cy="1491.9" rx="7.7" ry="2.3" transform="rotate(-35 1445.3 1491.9)"/><ellipse cx="1463.5" cy="1488.3" rx="6.6" ry="2.9" transform="rotate(-35 1463.5 1488.3)"/><ellipse cx="1449.9" cy="1520.1" rx="7.4" ry="2.4" transform="rotate(-35 1449.9 1520.1)"/><ellipse cx="1438.4" cy="1490.5" rx="4.2" ry="2.2" transform="rotate(-35 1438.4 1490.5)"/><ellipse cx="1440.6" cy="1472.5" rx="6.2" ry="2.9" transform="rotate(-35 1440.6 1472.5)"/><ellipse cx="1449.1" cy="1489.1" rx="8.2" ry="3.9" transform="rotate(-35 1449.1 1489.1)"/><ellipse cx="1460.1" cy="1490.0" rx="5.9" ry="3.6" transform="rotate(-35 1460.1 1490.0)"/><ellipse cx="1459.1" cy="1496.4" rx="4.9" ry="3.4" transform="rotate(-35 1459.1 1496.4)"/><ellipse cx="1452.2" cy="1479.3" rx="7.0" ry="3.5" transform="rotate(-35 1452.2 1479.3)"/><ellipse cx="1491.1" cy="1483.0" rx="6.1" ry="3.6" transform="rotate(-35 1491.1 1483.0)"/><ellipse cx="1489.5" cy="1474.9" rx="7.6" ry="3.2" transform="rotate(-35 1489.5 1474.9)"/><ellipse cx="1432.3" cy="1487.4" rx="7.0" ry="3.5" transform="rotate(-35 1432.3 1487.4)"/><ellipse cx="1463.1" cy="1496.4" rx="5.3" ry="3.2" transform="rotate(-35 1463.1 1496.4)"/><ellipse cx="1452.5" cy="1484.6" rx="4.9" ry="3.9" transform="rotate(-35 1452.5 1484.6)"/><ellipse cx="1491.0" cy="1504.5" rx="7.7" ry="3.2" transform="rotate(-35 1491.0 1504.5)"/><ellipse cx="1487.9" cy="1488.9" rx="4.0" ry="3.9" transform="rotate(-35 1487.9 1488.9)"/><ellipse cx="1435.2" cy="1507.3" rx="7.9" ry="2.3" transform="rotate(-35 1435.2 1507.3)"/><ellipse cx="1464.4" cy="1490.3" rx="7.7" ry="3.6" transform="rotate(-35 1464.4 1490.3)"/><ellipse cx="1463.3" cy="1497.5" rx="5.8" ry="3.6" transform="rotate(-35 1463.3 1497.5)"/><ellipse cx="1460.5" cy="1457.1" rx="8.6" ry="3.5" transform="rotate(-35 1460.5 1457.1)"/><ellipse cx="1463.2" cy="1488.0" rx="4.0" ry="3.7" transform="rotate(-35 1463.2 1488.0)"/><ellipse cx="1451.0" cy="1478.5" rx="4.6" ry="2.7" transform="rotate(-35 1451.0 1478.5)"/><ellipse cx="1451.3" cy="1508.4" rx="6.2" ry="2.5" transform="rotate(-35 1451.3 1508.4)"/><ellipse cx="1471.8" cy="1495.5" rx="4.6" ry="2.3" transform="rotate(-35 1471.8 1495.5)"/></g>
<ellipse cx="1445.4" cy="1492.1" rx="10.0" ry="14.0" fill="#a0ff70" opacity="0.7" filter="url(#b2)"/>
<ellipse cx="1426.2" cy="1561.8" rx="12.8" ry="6.8" fill="#2fd457" opacity="0.68" transform="rotate(-30 1426.2 1561.8)" filter="url(#b2)"/>
<ellipse cx="1426.2" cy="1561.8" rx="6.7" ry="3.0" fill="#baffca" opacity="0.7200000000000001" transform="rotate(-30 1426.2 1561.8)" filter="url(#b1)"/>
<ellipse cx="1419.0" cy="1597.8" rx="12.8" ry="9.2" fill="#2fd457" opacity="0.85" transform="rotate(-30 1419.0 1597.8)" filter="url(#b2)"/>
<ellipse cx="1419.0" cy="1597.8" rx="6.7" ry="4.5" fill="#baffca" opacity="0.9" transform="rotate(-30 1419.0 1597.8)" filter="url(#b1)"/>
<ellipse cx="1428.6" cy="1638.7" rx="17.6" ry="15.2" fill="#2fd457" opacity="0.85" transform="rotate(-30 1428.6 1638.7)" filter="url(#b2)"/>
<ellipse cx="1428.6" cy="1638.7" rx="9.7" ry="8.2" fill="#baffca" opacity="0.9" transform="rotate(-30 1428.6 1638.7)" filter="url(#b1)"/>
<ellipse cx="1445.4" cy="1653.1" rx="10.4" ry="8.0" fill="#2fd457" opacity="0.765" transform="rotate(-30 1445.4 1653.1)" filter="url(#b2)"/>
<ellipse cx="1445.4" cy="1653.1" rx="5.2" ry="3.7" fill="#baffca" opacity="0.81" transform="rotate(-30 1445.4 1653.1)" filter="url(#b1)"/>
<ellipse cx="1433.4" cy="1667.5" rx="6.8" ry="6.8" fill="#2fd457" opacity="0.68" transform="rotate(-30 1433.4 1667.5)" filter="url(#b2)"/>
<ellipse cx="1433.4" cy="1667.5" rx="3.0" ry="3.0" fill="#baffca" opacity="0.7200000000000001" transform="rotate(-30 1433.4 1667.5)" filter="url(#b1)"/>
<ellipse cx="1429.8" cy="1681.9" rx="6.8" ry="5.6" fill="#2fd457" opacity="0.51" transform="rotate(-30 1429.8 1681.9)" filter="url(#b2)"/>
<ellipse cx="1429.8" cy="1681.9" rx="3.0" ry="2.2" fill="#baffca" opacity="0.54" transform="rotate(-30 1429.8 1681.9)" filter="url(#b1)"/>
<ellipse cx="1447.8" cy="1691.5" rx="6.8" ry="9.2" fill="#2fd457" opacity="0.68" transform="rotate(-30 1447.8 1691.5)" filter="url(#b2)"/>
<ellipse cx="1447.8" cy="1691.5" rx="3.0" ry="4.5" fill="#baffca" opacity="0.7200000000000001" transform="rotate(-30 1447.8 1691.5)" filter="url(#b1)"/>
<ellipse cx="1410.6" cy="1701.1" rx="6.8" ry="8.0" fill="#2fd457" opacity="0.595" transform="rotate(-30 1410.6 1701.1)" filter="url(#b2)"/>
<ellipse cx="1410.6" cy="1701.1" rx="3.0" ry="3.7" fill="#baffca" opacity="0.63" transform="rotate(-30 1410.6 1701.1)" filter="url(#b1)"/>
<ellipse cx="1419.0" cy="1720.4" rx="9.2" ry="5.6" fill="#2fd457" opacity="0.51" transform="rotate(-30 1419.0 1720.4)" filter="url(#b2)"/>
<ellipse cx="1419.0" cy="1720.4" rx="4.5" ry="2.2" fill="#baffca" opacity="0.54" transform="rotate(-30 1419.0 1720.4)" filter="url(#b1)"/>
<ellipse cx="1455.0" cy="1737.2" rx="10.4" ry="12.8" fill="#2fd457" opacity="0.85" transform="rotate(-30 1455.0 1737.2)" filter="url(#b2)"/>
<ellipse cx="1455.0" cy="1737.2" rx="5.2" ry="6.7" fill="#baffca" opacity="0.9" transform="rotate(-30 1455.0 1737.2)" filter="url(#b1)"/>
<ellipse cx="1440.6" cy="1758.8" rx="14.0" ry="6.8" fill="#2fd457" opacity="0.7224999999999999" transform="rotate(-30 1440.6 1758.8)" filter="url(#b2)"/>
<ellipse cx="1440.6" cy="1758.8" rx="7.4" ry="3.0" fill="#baffca" opacity="0.765" transform="rotate(-30 1440.6 1758.8)" filter="url(#b1)"/>
<ellipse cx="1459.9" cy="1756.4" rx="5.6" ry="6.8" fill="#2fd457" opacity="0.68" transform="rotate(-30 1459.9 1756.4)" filter="url(#b2)"/>
<ellipse cx="1459.9" cy="1756.4" rx="2.2" ry="3.0" fill="#baffca" opacity="0.7200000000000001" transform="rotate(-30 1459.9 1756.4)" filter="url(#b1)"/>
<ellipse cx="1577.6" cy="1701.1" rx="12.2" ry="13.4" fill="#2fd457" opacity="0.765" transform="rotate(-30 1577.6 1701.1)" filter="url(#b2)"/>
<ellipse cx="1577.6" cy="1701.1" rx="6.3" ry="7.1" fill="#baffca" opacity="0.81" transform="rotate(-30 1577.6 1701.1)" filter="url(#b1)"/>
<ellipse cx="1568.0" cy="1715.6" rx="6.8" ry="5.6" fill="#2fd457" opacity="0.595" transform="rotate(-30 1568.0 1715.6)" filter="url(#b2)"/>
<ellipse cx="1568.0" cy="1715.6" rx="3.0" ry="2.2" fill="#baffca" opacity="0.63" transform="rotate(-30 1568.0 1715.6)" filter="url(#b1)"/>
<ellipse cx="1594.4" cy="1716.8" rx="5.6" ry="6.8" fill="#2fd457" opacity="0.51" transform="rotate(-30 1594.4 1716.8)" filter="url(#b2)"/>
<ellipse cx="1594.4" cy="1716.8" rx="2.2" ry="3.0" fill="#baffca" opacity="0.54" transform="rotate(-30 1594.4 1716.8)" filter="url(#b1)"/>
<ellipse cx="1534.3" cy="1748.0" rx="6.8" ry="4.4" fill="#2fd457" opacity="0.425" transform="rotate(-30 1534.3 1748.0)" filter="url(#b2)"/>
<ellipse cx="1515.1" cy="1567.8" rx="6.8" ry="6.8" fill="#2fd457" opacity="0.34" transform="rotate(-30 1515.1 1567.8)" filter="url(#b2)"/>
<ellipse cx="1541.5" cy="1573.8" rx="6.8" ry="4.4" fill="#2fd457" opacity="0.2975" transform="rotate(-30 1541.5 1573.8)" filter="url(#b2)"/>
<ellipse cx="1450.2" cy="1593.0" rx="10.4" ry="3.7" fill="#2fd457" opacity="0.34" transform="rotate(-30 1450.2 1593.0)" filter="url(#b2)"/>
<ellipse cx="1507.9" cy="1520.9" rx="9.2" ry="3.7" fill="#2fd457" opacity="0.3825" transform="rotate(-30 1507.9 1520.9)" filter="url(#b2)"/>
<ellipse cx="1471.9" cy="1540.2" rx="8.0" ry="4.4" fill="#2fd457" opacity="0.425" transform="rotate(-30 1471.9 1540.2)" filter="url(#b2)"/>
<ellipse cx="1488.7" cy="1530.6" rx="6.8" ry="4.2" fill="#2fd457" opacity="0.425" transform="rotate(-30 1488.7 1530.6)" filter="url(#b2)"/>
<ellipse cx="1457.5" cy="1657.9" rx="4.4" ry="6.8" fill="#2fd457" opacity="0.425" transform="rotate(-30 1457.5 1657.9)" filter="url(#b2)"/>
<ellipse cx="1469.5" cy="1703.5" rx="5.6" ry="6.8" fill="#2fd457" opacity="0.2975" transform="rotate(-30 1469.5 1703.5)" filter="url(#b2)"/>
<rect x="1236" y="1398" width="438" height="452" filter="url(#grain)" opacity="0.10"/>
</g>
<g clip-path="url(#cp4)">
<rect x="1675" y="1403" width="443.5" height="446.5" fill="#417f43"/>
<ellipse cx="1793.7" cy="1436.5" rx="230.0" ry="75.0" fill="#35593a" opacity="0.85" filter="url(#b32)"/>
<ellipse cx="1708.5" cy="1546.1" rx="60.0" ry="120.0" fill="#3a6a3e" opacity="0.6" filter="url(#b32)"/>
<ellipse cx="2107.8" cy="1667.8" rx="26.0" ry="200.0" fill="#577458" opacity="0.75" filter="url(#b8)"/>
<ellipse cx="1793.7" cy="1777.4" rx="150.0" ry="90.0" fill="#45884a" opacity="0.5" filter="url(#b32)"/>
<ellipse cx="1695.1" cy="1619.1" rx="13.0" ry="15.0" fill="#0d2416" opacity="0.92" transform="rotate(10 1695.1 1619.1)" filter="url(#b2)"/>
<ellipse cx="1779.1" cy="1687.3" rx="3.0" ry="7.0" fill="#123018" opacity="0.8" filter="url(#b1)"/>
<ellipse cx="1988.5" cy="1555.8" rx="10.0" ry="5.0" fill="#1f4a26" opacity="0.7" transform="rotate(30 1988.5 1555.8)" filter="url(#b2)"/>
<g filter="url(#b8)" opacity="0.9">
<ellipse cx="1903.3" cy="1643.5" rx="94.5" ry="106.3" fill="#17a63a"/>
<ellipse cx="1776.7" cy="1516.9" rx="21.3" ry="33.1" fill="#17a63a"/>
<ellipse cx="1752.4" cy="1580.2" rx="35.4" ry="20.1" fill="#17a63a"/>
<ellipse cx="1891.1" cy="1504.7" rx="17.7" ry="33.1" fill="#17a63a"/>
<ellipse cx="1978.8" cy="1487.7" rx="31.9" ry="31.9" fill="#17a63a"/>
<ellipse cx="1995.8" cy="1609.4" rx="33.1" ry="16.5" fill="#17a63a"/>
<ellipse cx="1874.1" cy="1784.7" rx="20.1" ry="33.1" fill="#17a63a"/>
<ellipse cx="1823.0" cy="1555.8" rx="35.4" ry="35.4" fill="#17a63a"/>
<ellipse cx="1959.3" cy="1723.8" rx="35.4" ry="35.4" fill="#17a63a"/>
<ellipse cx="2000.7" cy="1692.2" rx="17.7" ry="16.5" fill="#17a63a"/>
<ellipse cx="2016.8" cy="1701.9" rx="17.7" ry="16.5" fill="#17a63a"/>
<ellipse cx="2032.8" cy="1711.7" rx="17.7" ry="16.5" fill="#17a63a"/>
<ellipse cx="2048.9" cy="1721.4" rx="17.7" ry="16.5" fill="#17a63a"/>
<ellipse cx="2065.0" cy="1731.1" rx="17.7" ry="16.5" fill="#17a63a"/>
<ellipse cx="2081.1" cy="1740.9" rx="17.7" ry="16.5" fill="#17a63a"/>
<ellipse cx="1976.4" cy="1765.2" rx="20.1" ry="18.9" fill="#17a63a"/>
<ellipse cx="1983.1" cy="1785.9" rx="20.1" ry="18.9" fill="#17a63a"/>
<ellipse cx="1989.8" cy="1806.6" rx="20.1" ry="18.9" fill="#17a63a"/>
<ellipse cx="1996.4" cy="1827.3" rx="20.1" ry="18.9" fill="#17a63a"/>
<ellipse cx="2003.1" cy="1848.0" rx="20.1" ry="18.9" fill="#17a63a"/>
</g>
<path d="M2018,1507L2052,1480L2086,1449L2108,1422L2125,1415L2125,1483L2110,1493L2103,1536L2071,1527L2042,1522z" fill="#36e060" opacity="0.95" filter="url(#b4)"/>
<ellipse cx="1896.0" cy="1663.0" rx="72.0" ry="84.0" fill="#dcffea" opacity="0.95" transform="rotate(-20 1896.0 1663.0)" filter="url(#b16)"/>
<g fill="#46e86a" filter="url(#warp2)"><ellipse cx="1872.5" cy="1678.5" rx="9.1" ry="12.8" transform="rotate(-47 1872.5 1678.5)"/><ellipse cx="2095.3" cy="1741.0" rx="6.7" ry="7.9" transform="rotate(-53 2095.3 1741.0)"/><ellipse cx="1861.0" cy="1622.0" rx="9.6" ry="7.9" transform="rotate(-51 1861.0 1622.0)"/><ellipse cx="1980.9" cy="1589.4" rx="7.8" ry="9.0" transform="rotate(-13 1980.9 1589.4)"/><ellipse cx="1952.5" cy="1501.0" rx="7.3" ry="9.6" transform="rotate(68 1952.5 1501.0)"/><ellipse cx="1788.2" cy="1561.4" rx="9.7" ry="10.0" transform="rotate(-50 1788.2 1561.4)"/><ellipse cx="1974.2" cy="1791.8" rx="8.7" ry="11.7" transform="rotate(38 1974.2 1791.8)"/><ellipse cx="1989.5" cy="1759.0" rx="6.8" ry="9.7" transform="rotate(56 1989.5 1759.0)"/><ellipse cx="1966.4" cy="1590.4" rx="7.6" ry="8.9" transform="rotate(49 1966.4 1590.4)"/><ellipse cx="2034.3" cy="1715.0" rx="9.4" ry="7.8" transform="rotate(-36 2034.3 1715.0)"/><ellipse cx="1942.1" cy="1677.9" rx="6.4" ry="7.9" transform="rotate(61 1942.1 1677.9)"/><ellipse cx="1776.1" cy="1546.9" rx="9.3" ry="11.9" transform="rotate(-23 1776.1 1546.9)"/><ellipse cx="1963.9" cy="1679.0" rx="6.8" ry="10.9" transform="rotate(9 1963.9 1679.0)"/><ellipse cx="1792.2" cy="1500.8" rx="6.7" ry="8.4" transform="rotate(31 1792.2 1500.8)"/><ellipse cx="1948.5" cy="1479.2" rx="7.7" ry="10.5" transform="rotate(70 1948.5 1479.2)"/><ellipse cx="1902.8" cy="1572.1" rx="9.6" ry="10.2" transform="rotate(-56 1902.8 1572.1)"/><ellipse cx="1830.8" cy="1621.1" rx="6.9" ry="10.8" transform="rotate(68 1830.8 1621.1)"/><ellipse cx="2077.6" cy="1726.1" rx="8.6" ry="10.7" transform="rotate(-6 2077.6 1726.1)"/><ellipse cx="1811.7" cy="1550.4" rx="8.3" ry="11.8" transform="rotate(12 1811.7 1550.4)"/><ellipse cx="1838.2" cy="1589.1" rx="7.6" ry="12.6" transform="rotate(56 1838.2 1589.1)"/><ellipse cx="2023.6" cy="1612.5" rx="6.6" ry="10.0" transform="rotate(-24 2023.6 1612.5)"/><ellipse cx="1979.2" cy="1640.1" rx="7.8" ry="8.1" transform="rotate(42 1979.2 1640.1)"/><ellipse cx="1835.2" cy="1675.9" rx="6.5" ry="12.2" transform="rotate(25 1835.2 1675.9)"/><ellipse cx="1908.1" cy="1718.2" rx="7.0" ry="9.6" transform="rotate(12 1908.1 1718.2)"/><ellipse cx="1976.2" cy="1739.2" rx="8.7" ry="12.2" transform="rotate(-31 1976.2 1739.2)"/><ellipse cx="1839.2" cy="1699.8" rx="7.5" ry="8.3" transform="rotate(69 1839.2 1699.8)"/><ellipse cx="1838.1" cy="1724.2" rx="9.1" ry="13.2" transform="rotate(26 1838.1 1724.2)"/><ellipse cx="1811.0" cy="1568.1" rx="8.5" ry="10.1" transform="rotate(-25 1811.0 1568.1)"/><ellipse cx="1773.0" cy="1563.5" rx="9.6" ry="11.7" transform="rotate(-43 1773.0 1563.5)"/><ellipse cx="1871.0" cy="1783.7" rx="7.1" ry="12.3" transform="rotate(-53 1871.0 1783.7)"/><ellipse cx="1860.8" cy="1643.6" rx="7.4" ry="12.3" transform="rotate(16 1860.8 1643.6)"/><ellipse cx="1728.5" cy="1567.4" rx="9.6" ry="11.4" transform="rotate(52 1728.5 1567.4)"/><ellipse cx="1831.5" cy="1526.1" rx="9.1" ry="7.7" transform="rotate(14 1831.5 1526.1)"/><ellipse cx="1960.5" cy="1729.1" rx="9.2" ry="9.9" transform="rotate(46 1960.5 1729.1)"/><ellipse cx="1942.6" cy="1575.4" rx="7.6" ry="13.1" transform="rotate(-45 1942.6 1575.4)"/><ellipse cx="1966.0" cy="1767.7" rx="7.1" ry="8.6" transform="rotate(-63 1966.0 1767.7)"/><ellipse cx="1919.4" cy="1602.5" rx="9.6" ry="9.4" transform="rotate(-8 1919.4 1602.5)"/><ellipse cx="1843.1" cy="1549.3" rx="6.7" ry="7.8" transform="rotate(60 1843.1 1549.3)"/><ellipse cx="1957.8" cy="1693.3" rx="7.1" ry="10.9" transform="rotate(-11 1957.8 1693.3)"/><ellipse cx="1882.3" cy="1740.6" rx="6.9" ry="9.0" transform="rotate(16 1882.3 1740.6)"/><ellipse cx="1942.4" cy="1732.5" rx="7.3" ry="12.4" transform="rotate(57 1942.4 1732.5)"/><ellipse cx="1982.8" cy="1465.7" rx="7.4" ry="9.1" transform="rotate(-9 1982.8 1465.7)"/><ellipse cx="1982.8" cy="1619.9" rx="6.6" ry="10.8" transform="rotate(-15 1982.8 1619.9)"/><ellipse cx="1879.5" cy="1628.5" rx="9.5" ry="8.6" transform="rotate(48 1879.5 1628.5)"/><ellipse cx="1922.0" cy="1697.4" rx="9.0" ry="11.2" transform="rotate(-48 1922.0 1697.4)"/><ellipse cx="1903.7" cy="1553.5" rx="8.6" ry="9.8" transform="rotate(1 1903.7 1553.5)"/><ellipse cx="1840.8" cy="1568.2" rx="9.5" ry="10.4" transform="rotate(26 1840.8 1568.2)"/><ellipse cx="1926.6" cy="1619.9" rx="7.3" ry="10.8" transform="rotate(68 1926.6 1619.9)"/><ellipse cx="1869.5" cy="1716.8" rx="7.1" ry="11.0" transform="rotate(-4 1869.5 1716.8)"/><ellipse cx="1814.8" cy="1531.5" rx="8.7" ry="8.7" transform="rotate(24 1814.8 1531.5)"/><ellipse cx="1962.6" cy="1644.7" rx="8.2" ry="8.8" transform="rotate(67 1962.6 1644.7)"/><ellipse cx="1748.8" cy="1578.4" rx="8.7" ry="11.9" transform="rotate(-46 1748.8 1578.4)"/><ellipse cx="1873.1" cy="1766.1" rx="6.9" ry="10.9" transform="rotate(-15 1873.1 1766.1)"/><ellipse cx="1937.0" cy="1553.2" rx="7.9" ry="8.3" transform="rotate(-54 1937.0 1553.2)"/><ellipse cx="1858.2" cy="1794.9" rx="8.8" ry="8.8" transform="rotate(-3 1858.2 1794.9)"/><ellipse cx="1886.2" cy="1799.1" rx="7.9" ry="9.3" transform="rotate(8 1886.2 1799.1)"/><ellipse cx="1881.6" cy="1698.1" rx="7.4" ry="8.3" transform="rotate(44 1881.6 1698.1)"/><ellipse cx="1768.9" cy="1497.5" rx="7.1" ry="11.4" transform="rotate(-15 1768.9 1497.5)"/><ellipse cx="1824.9" cy="1557.2" rx="8.9" ry="10.6" transform="rotate(-18 1824.9 1557.2)"/><ellipse cx="1999.9" cy="1625.8" rx="6.7" ry="10.4" transform="rotate(5 1999.9 1625.8)"/><ellipse cx="1990.8" cy="1829.9" rx="8.7" ry="12.9" transform="rotate(-27 1990.8 1829.9)"/><ellipse cx="2060.8" cy="1709.8" rx="8.2" ry="12.7" transform="rotate(-18 2060.8 1709.8)"/><ellipse cx="1990.8" cy="1732.1" rx="8.4" ry="8.8" transform="rotate(-37 1990.8 1732.1)"/><ellipse cx="1904.3" cy="1501.7" rx="8.8" ry="8.3" transform="rotate(61 1904.3 1501.7)"/><ellipse cx="1987.0" cy="1705.5" rx="8.9" ry="9.2" transform="rotate(10 1987.0 1705.5)"/><ellipse cx="1979.8" cy="1487.4" rx="9.6" ry="9.1" transform="rotate(-68 1979.8 1487.4)"/><ellipse cx="1758.2" cy="1594.6" rx="9.1" ry="7.8" transform="rotate(-41 1758.2 1594.6)"/><ellipse cx="1962.1" cy="1485.1" rx="8.8" ry="12.0" transform="rotate(-39 1962.1 1485.1)"/><ellipse cx="1920.9" cy="1669.8" rx="6.5" ry="13.0" transform="rotate(-38 1920.9 1669.8)"/><ellipse cx="2015.2" cy="1707.9" rx="9.4" ry="9.4" transform="rotate(-53 2015.2 1707.9)"/><ellipse cx="1901.9" cy="1668.6" rx="7.6" ry="8.6" transform="rotate(14 1901.9 1668.6)"/><ellipse cx="1905.3" cy="1644.1" rx="8.2" ry="8.9" transform="rotate(-56 1905.3 1644.1)"/><ellipse cx="1942.6" cy="1589.9" rx="6.9" ry="10.2" transform="rotate(-2 1942.6 1589.9)"/><ellipse cx="1980.3" cy="1520.1" rx="8.5" ry="12.7" transform="rotate(-16 1980.3 1520.1)"/><ellipse cx="1987.2" cy="1661.9" rx="9.3" ry="7.9" transform="rotate(51 1987.2 1661.9)"/><ellipse cx="1780.6" cy="1588.1" rx="9.3" ry="9.2" transform="rotate(-12 1780.6 1588.1)"/><ellipse cx="1948.4" cy="1745.1" rx="7.5" ry="9.0" transform="rotate(26 1948.4 1745.1)"/><ellipse cx="1993.2" cy="1853.4" rx="9.6" ry="8.4" transform="rotate(68 1993.2 1853.4)"/><ellipse cx="2073.1" cy="1739.4" rx="7.6" ry="11.9" transform="rotate(-24 2073.1 1739.4)"/><ellipse cx="1995.8" cy="1798.7" rx="6.5" ry="8.8" transform="rotate(53 1995.8 1798.7)"/><ellipse cx="1975.0" cy="1690.5" rx="8.3" ry="8.2" transform="rotate(-33 1975.0 1690.5)"/><ellipse cx="1949.8" cy="1602.7" rx="9.6" ry="9.1" transform="rotate(-42 1949.8 1602.7)"/><ellipse cx="1972.8" cy="1662.8" rx="7.9" ry="7.8" transform="rotate(30 1972.8 1662.8)"/><ellipse cx="1891.5" cy="1490.3" rx="7.8" ry="10.3" transform="rotate(53 1891.5 1490.3)"/><ellipse cx="1832.9" cy="1603.8" rx="9.5" ry="12.2" transform="rotate(60 1832.9 1603.8)"/><ellipse cx="1810.6" cy="1640.4" rx="8.5" ry="13.1" transform="rotate(-18 1810.6 1640.4)"/><ellipse cx="1926.7" cy="1563.0" rx="9.1" ry="12.1" transform="rotate(44 1926.7 1563.0)"/><ellipse cx="2004.7" cy="1676.8" rx="7.3" ry="8.4" transform="rotate(22 2004.7 1676.8)"/><ellipse cx="1886.9" cy="1771.7" rx="7.0" ry="11.6" transform="rotate(5 1886.9 1771.7)"/><ellipse cx="1956.8" cy="1579.1" rx="8.2" ry="8.5" transform="rotate(-47 1956.8 1579.1)"/><ellipse cx="1865.4" cy="1608.2" rx="9.3" ry="9.0" transform="rotate(-48 1865.4 1608.2)"/><ellipse cx="1851.1" cy="1533.4" rx="8.2" ry="10.7" transform="rotate(-69 1851.1 1533.4)"/><ellipse cx="1868.4" cy="1551.8" rx="8.3" ry="12.7" transform="rotate(7 1868.4 1551.8)"/><ellipse cx="1939.2" cy="1648.1" rx="7.9" ry="8.4" transform="rotate(7 1939.2 1648.1)"/><ellipse cx="1906.4" cy="1521.4" rx="7.7" ry="10.6" transform="rotate(-25 1906.4 1521.4)"/><ellipse cx="1882.1" cy="1525.1" rx="7.9" ry="8.7" transform="rotate(-21 1882.1 1525.1)"/><ellipse cx="1869.5" cy="1576.6" rx="8.4" ry="8.1" transform="rotate(-67 1869.5 1576.6)"/><ellipse cx="1885.0" cy="1511.3" rx="7.4" ry="12.1" transform="rotate(-36 1885.0 1511.3)"/><ellipse cx="1839.9" cy="1654.6" rx="9.6" ry="13.0" transform="rotate(14 1839.9 1654.6)"/><ellipse cx="1977.3" cy="1812.4" rx="9.3" ry="11.4" transform="rotate(-29 1977.3 1812.4)"/><ellipse cx="1926.1" cy="1653.9" rx="7.7" ry="9.0" transform="rotate(-29 1926.1 1653.9)"/><ellipse cx="1825.4" cy="1653.7" rx="8.0" ry="9.5" transform="rotate(1 1825.4 1653.7)"/><ellipse cx="1996.4" cy="1643.9" rx="9.6" ry="10.6" transform="rotate(42 1996.4 1643.9)"/><ellipse cx="1909.5" cy="1735.9" rx="8.9" ry="11.6" transform="rotate(0 1909.5 1735.9)"/><ellipse cx="1906.7" cy="1700.8" rx="6.5" ry="12.7" transform="rotate(-65 1906.7 1700.8)"/><ellipse cx="1971.7" cy="1455.6" rx="6.5" ry="11.1" transform="rotate(-45 1971.7 1455.6)"/><ellipse cx="1738.4" cy="1588.0" rx="6.5" ry="9.7" transform="rotate(39 1738.4 1588.0)"/><ellipse cx="1811.2" cy="1670.3" rx="6.5" ry="8.5" transform="rotate(46 1811.2 1670.3)"/><ellipse cx="1884.9" cy="1592.4" rx="6.7" ry="13.0" transform="rotate(64 1884.9 1592.4)"/><ellipse cx="2012.4" cy="1831.5" rx="9.6" ry="12.5" transform="rotate(48 2012.4 1831.5)"/><ellipse cx="1870.9" cy="1659.9" rx="8.0" ry="12.9" transform="rotate(24 1870.9 1659.9)"/><ellipse cx="1898.1" cy="1629.0" rx="9.4" ry="8.4" transform="rotate(-59 1898.1 1629.0)"/><ellipse cx="1950.8" cy="1664.3" rx="7.3" ry="13.2" transform="rotate(22 1950.8 1664.3)"/><ellipse cx="1820.3" cy="1695.6" rx="8.2" ry="11.5" transform="rotate(5 1820.3 1695.6)"/><ellipse cx="1890.9" cy="1652.3" rx="9.4" ry="12.6" transform="rotate(65 1890.9 1652.3)"/><ellipse cx="1973.0" cy="1605.1" rx="9.1" ry="10.4" transform="rotate(-48 1973.0 1605.1)"/><ellipse cx="1875.8" cy="1500.3" rx="6.6" ry="11.0" transform="rotate(45 1875.8 1500.3)"/><ellipse cx="1923.5" cy="1540.7" rx="7.4" ry="9.8" transform="rotate(-45 1923.5 1540.7)"/><ellipse cx="1967.6" cy="1505.6" rx="9.2" ry="10.1" transform="rotate(2 1967.6 1505.6)"/><ellipse cx="1924.8" cy="1740.5" rx="7.9" ry="8.6" transform="rotate(-13 1924.8 1740.5)"/><ellipse cx="2001.8" cy="1464.6" rx="9.1" ry="10.8" transform="rotate(0 2001.8 1464.6)"/><ellipse cx="1994.8" cy="1501.2" rx="8.8" ry="10.3" transform="rotate(-38 1994.8 1501.2)"/><ellipse cx="1812.2" cy="1623.2" rx="7.1" ry="9.0" transform="rotate(13 1812.2 1623.2)"/><ellipse cx="1877.3" cy="1642.6" rx="8.9" ry="12.6" transform="rotate(29 1877.3 1642.6)"/><ellipse cx="1881.6" cy="1608.2" rx="7.7" ry="11.4" transform="rotate(-22 1881.6 1608.2)"/><ellipse cx="1854.5" cy="1730.8" rx="6.7" ry="9.1" transform="rotate(-65 1854.5 1730.8)"/><ellipse cx="1930.4" cy="1714.4" rx="8.6" ry="10.7" transform="rotate(-42 1930.4 1714.4)"/><ellipse cx="2042.0" cy="1736.8" rx="7.3" ry="12.8" transform="rotate(8 2042.0 1736.8)"/><ellipse cx="1772.6" cy="1531.0" rx="7.9" ry="12.5" transform="rotate(38 1772.6 1531.0)"/><ellipse cx="1780.9" cy="1485.7" rx="7.3" ry="12.8" transform="rotate(13 1780.9 1485.7)"/><ellipse cx="1864.0" cy="1695.3" rx="7.0" ry="8.5" transform="rotate(-61 1864.0 1695.3)"/><ellipse cx="1897.4" cy="1689.5" rx="7.9" ry="8.1" transform="rotate(60 1897.4 1689.5)"/><ellipse cx="1986.6" cy="1783.8" rx="8.5" ry="12.0" transform="rotate(7 1986.6 1783.8)"/><ellipse cx="1887.2" cy="1472.9" rx="8.1" ry="12.0" transform="rotate(-62 1887.2 1472.9)"/><ellipse cx="1960.3" cy="1617.2" rx="9.4" ry="11.8" transform="rotate(-20 1960.3 1617.2)"/><ellipse cx="1957.7" cy="1561.5" rx="9.7" ry="9.7" transform="rotate(2 1957.7 1561.5)"/><ellipse cx="2008.6" cy="1594.6" rx="8.3" ry="9.0" transform="rotate(-1 2008.6 1594.6)"/><ellipse cx="1759.8" cy="1568.9" rx="8.4" ry="11.2" transform="rotate(-14 1759.8 1568.9)"/><ellipse cx="2008.6" cy="1859.0" rx="8.7" ry="10.1" transform="rotate(-56 2008.6 1859.0)"/><ellipse cx="1995.1" cy="1480.7" rx="8.6" ry="8.1" transform="rotate(44 1995.1 1480.7)"/><ellipse cx="1896.8" cy="1604.9" rx="8.2" ry="9.0" transform="rotate(-35 1896.8 1604.9)"/><ellipse cx="2002.6" cy="1819.5" rx="9.3" ry="9.9" transform="rotate(18 2002.6 1819.5)"/><ellipse cx="1792.3" cy="1575.4" rx="9.6" ry="9.5" transform="rotate(-7 1792.3 1575.4)"/><ellipse cx="1992.6" cy="1599.8" rx="9.4" ry="11.9" transform="rotate(61 1992.6 1599.8)"/><ellipse cx="1954.9" cy="1707.5" rx="6.4" ry="8.3" transform="rotate(-47 1954.9 1707.5)"/><ellipse cx="1916.2" cy="1580.7" rx="9.3" ry="7.9" transform="rotate(-29 1916.2 1580.7)"/><ellipse cx="1963.4" cy="1470.3" rx="7.7" ry="9.0" transform="rotate(-58 1963.4 1470.3)"/><ellipse cx="1856.1" cy="1660.9" rx="9.5" ry="12.2" transform="rotate(-38 1856.1 1660.9)"/><ellipse cx="1891.8" cy="1716.1" rx="9.5" ry="9.7" transform="rotate(-24 1891.8 1716.1)"/><ellipse cx="1856.5" cy="1570.4" rx="6.6" ry="12.9" transform="rotate(28 1856.5 1570.4)"/><ellipse cx="1800.4" cy="1535.7" rx="8.7" ry="9.6" transform="rotate(-5 1800.4 1535.7)"/><ellipse cx="1942.7" cy="1619.1" rx="8.2" ry="8.7" transform="rotate(-68 1942.7 1619.1)"/><ellipse cx="1889.7" cy="1546.4" rx="8.6" ry="10.1" transform="rotate(-65 1889.7 1546.4)"/><ellipse cx="1940.9" cy="1697.1" rx="9.7" ry="7.8" transform="rotate(4 1940.9 1697.1)"/><ellipse cx="1836.1" cy="1636.7" rx="7.5" ry="8.6" transform="rotate(-49 1836.1 1636.7)"/><ellipse cx="1928.6" cy="1590.5" rx="8.4" ry="10.6" transform="rotate(-2 1928.6 1590.5)"/><ellipse cx="1979.9" cy="1838.8" rx="9.1" ry="10.5" transform="rotate(3 1979.9 1838.8)"/><ellipse cx="2057.2" cy="1735.7" rx="7.5" ry="11.5" transform="rotate(-27 2057.2 1735.7)"/><ellipse cx="2009.1" cy="1481.7" rx="9.3" ry="12.7" transform="rotate(21 2009.1 1481.7)"/><ellipse cx="1864.0" cy="1813.4" rx="9.5" ry="7.9" transform="rotate(10 1864.0 1813.4)"/><ellipse cx="1986.1" cy="1677.5" rx="6.7" ry="8.7" transform="rotate(-69 1986.1 1677.5)"/><ellipse cx="1919.5" cy="1636.1" rx="8.6" ry="13.1" transform="rotate(58 1919.5 1636.1)"/><ellipse cx="1776.2" cy="1517.4" rx="6.8" ry="11.5" transform="rotate(-9 1776.2 1517.4)"/><ellipse cx="1876.9" cy="1484.4" rx="6.6" ry="8.2" transform="rotate(69 1876.9 1484.4)"/><ellipse cx="1846.1" cy="1622.2" rx="6.8" ry="8.5" transform="rotate(68 1846.1 1622.2)"/><ellipse cx="1995.2" cy="1718.1" rx="8.8" ry="8.0" transform="rotate(-17 1995.2 1718.1)"/><ellipse cx="2010.6" cy="1690.5" rx="6.8" ry="8.1" transform="rotate(-28 2010.6 1690.5)"/><ellipse cx="1903.7" cy="1591.3" rx="7.2" ry="12.9" transform="rotate(52 1903.7 1591.3)"/><ellipse cx="1818.0" cy="1604.8" rx="7.3" ry="9.8" transform="rotate(36 1818.0 1604.8)"/><ellipse cx="1964.4" cy="1751.8" rx="7.4" ry="9.4" transform="rotate(-39 1964.4 1751.8)"/><ellipse cx="1868.3" cy="1734.2" rx="7.7" ry="8.1" transform="rotate(-43 1868.3 1734.2)"/><ellipse cx="1978.9" cy="1723.9" rx="8.3" ry="9.7" transform="rotate(-50 1978.9 1723.9)"/><ellipse cx="2079.3" cy="1757.4" rx="6.9" ry="12.8" transform="rotate(-69 2079.3 1757.4)"/><ellipse cx="2001.4" cy="1705.2" rx="7.3" ry="8.7" transform="rotate(-57 2001.4 1705.2)"/><ellipse cx="1815.2" cy="1583.4" rx="8.5" ry="10.6" transform="rotate(18 1815.2 1583.4)"/><ellipse cx="1888.6" cy="1576.6" rx="8.1" ry="10.6" transform="rotate(-35 1888.6 1576.6)"/><ellipse cx="2041.0" cy="1700.8" rx="9.4" ry="13.1" transform="rotate(-4 2041.0 1700.8)"/><ellipse cx="1894.4" cy="1732.2" rx="7.8" ry="8.8" transform="rotate(-23 1894.4 1732.2)"/><ellipse cx="2003.3" cy="1783.3" rx="7.9" ry="7.9" transform="rotate(61 2003.3 1783.3)"/><ellipse cx="1860.6" cy="1588.9" rx="6.4" ry="12.6" transform="rotate(59 1860.6 1588.9)"/><ellipse cx="1851.7" cy="1677.8" rx="7.3" ry="9.7" transform="rotate(67 1851.7 1677.8)"/><ellipse cx="1899.1" cy="1534.9" rx="6.5" ry="7.8" transform="rotate(47 1899.1 1534.9)"/><ellipse cx="1754.9" cy="1519.8" rx="7.9" ry="10.9" transform="rotate(30 1754.9 1519.8)"/><ellipse cx="1972.9" cy="1573.6" rx="8.8" ry="9.5" transform="rotate(-9 1972.9 1573.6)"/><ellipse cx="1856.3" cy="1780.1" rx="7.0" ry="8.8" transform="rotate(-64 1856.3 1780.1)"/><ellipse cx="1935.3" cy="1606.0" rx="8.3" ry="13.0" transform="rotate(-28 1935.3 1606.0)"/><ellipse cx="1896.2" cy="1749.1" rx="7.1" ry="9.3" transform="rotate(-36 1896.2 1749.1)"/><ellipse cx="1719.3" cy="1583.9" rx="7.1" ry="12.0" transform="rotate(-69 1719.3 1583.9)"/><ellipse cx="1887.0" cy="1672.8" rx="6.6" ry="10.6" transform="rotate(-21 1887.0 1672.8)"/><ellipse cx="1908.9" cy="1615.7" rx="8.5" ry="12.9" transform="rotate(22 1908.9 1615.7)"/><ellipse cx="2009.5" cy="1498.6" rx="9.0" ry="13.1" transform="rotate(-22 2009.5 1498.6)"/><ellipse cx="1969.1" cy="1703.8" rx="9.2" ry="8.6" transform="rotate(12 1969.1 1703.8)"/><ellipse cx="1914.1" cy="1685.1" rx="8.3" ry="12.5" transform="rotate(40 1914.1 1685.1)"/><ellipse cx="1793.7" cy="1522.0" rx="7.3" ry="13.1" transform="rotate(6 1793.7 1522.0)"/><ellipse cx="1880.5" cy="1814.1" rx="7.3" ry="9.7" transform="rotate(49 1880.5 1814.1)"/><ellipse cx="1851.7" cy="1600.4" rx="7.7" ry="12.9" transform="rotate(3 1851.7 1600.4)"/><ellipse cx="2021.8" cy="1722.5" rx="7.5" ry="7.8" transform="rotate(-61 2021.8 1722.5)"/><ellipse cx="1995.3" cy="1690.3" rx="8.5" ry="8.5" transform="rotate(-31 1995.3 1690.3)"/><ellipse cx="2025.4" cy="1695.4" rx="6.6" ry="12.6" transform="rotate(-46 2025.4 1695.4)"/><ellipse cx="1790.6" cy="1547.2" rx="9.0" ry="10.2" transform="rotate(52 1790.6 1547.2)"/><ellipse cx="2003.2" cy="1610.4" rx="6.9" ry="12.2" transform="rotate(69 2003.2 1610.4)"/><ellipse cx="1852.1" cy="1710.4" rx="8.3" ry="10.6" transform="rotate(-17 1852.1 1710.4)"/><ellipse cx="1950.4" cy="1635.5" rx="9.4" ry="12.5" transform="rotate(55 1950.4 1635.5)"/><ellipse cx="1859.1" cy="1761.2" rx="9.6" ry="10.2" transform="rotate(49 1859.1 1761.2)"/><ellipse cx="1885.6" cy="1562.8" rx="7.1" ry="8.6" transform="rotate(37 1885.6 1562.8)"/><ellipse cx="1828.6" cy="1712.0" rx="8.3" ry="8.6" transform="rotate(-3 1828.6 1712.0)"/><ellipse cx="2022.7" cy="1848.8" rx="9.2" ry="9.7" transform="rotate(60 2022.7 1848.8)"/><ellipse cx="1768.0" cy="1581.4" rx="8.7" ry="8.5" transform="rotate(-7 1768.0 1581.4)"/><ellipse cx="1905.5" cy="1484.7" rx="9.0" ry="12.7" transform="rotate(7 1905.5 1484.7)"/></g>
<g fill="#e4fff0" filter="url(#warp)" opacity="0.97"><ellipse cx="1872.5" cy="1678.5" rx="7.7" ry="11.9" transform="rotate(-47 1872.5 1678.5)"/><ellipse cx="2095.3" cy="1741.0" rx="3.7" ry="4.7" transform="rotate(-53 2095.3 1741.0)"/><ellipse cx="1861.0" cy="1622.0" rx="8.3" ry="6.4" transform="rotate(-51 1861.0 1622.0)"/><ellipse cx="1980.9" cy="1589.4" rx="4.6" ry="5.6" transform="rotate(-13 1980.9 1589.4)"/><ellipse cx="1952.5" cy="1501.0" rx="4.2" ry="6.1" transform="rotate(68 1952.5 1501.0)"/><ellipse cx="1788.2" cy="1561.4" rx="6.1" ry="6.4" transform="rotate(-50 1788.2 1561.4)"/><ellipse cx="1974.2" cy="1791.8" rx="5.3" ry="7.8" transform="rotate(38 1974.2 1791.8)"/><ellipse cx="1989.5" cy="1759.0" rx="3.8" ry="6.1" transform="rotate(56 1989.5 1759.0)"/><ellipse cx="1966.4" cy="1590.4" rx="4.4" ry="5.5" transform="rotate(49 1966.4 1590.4)"/><ellipse cx="2034.3" cy="1715.0" rx="5.9" ry="4.6" transform="rotate(-36 2034.3 1715.0)"/><ellipse cx="1942.1" cy="1677.9" rx="4.7" ry="6.4" transform="rotate(61 1942.1 1677.9)"/><ellipse cx="1776.1" cy="1546.9" rx="5.8" ry="7.9" transform="rotate(-23 1776.1 1546.9)"/><ellipse cx="1963.9" cy="1679.0" rx="5.1" ry="9.7" transform="rotate(9 1963.9 1679.0)"/><ellipse cx="1792.2" cy="1500.8" rx="3.7" ry="5.1" transform="rotate(31 1792.2 1500.8)"/><ellipse cx="1948.5" cy="1479.2" rx="4.5" ry="6.8" transform="rotate(70 1948.5 1479.2)"/><ellipse cx="1902.8" cy="1572.1" rx="7.0" ry="7.6" transform="rotate(-56 1902.8 1572.1)"/><ellipse cx="1830.8" cy="1621.1" rx="4.4" ry="8.2" transform="rotate(68 1830.8 1621.1)"/><ellipse cx="2077.6" cy="1726.1" rx="5.2" ry="6.9" transform="rotate(-6 2077.6 1726.1)"/><ellipse cx="1811.7" cy="1550.4" rx="5.0" ry="7.9" transform="rotate(12 1811.7 1550.4)"/><ellipse cx="1838.2" cy="1589.1" rx="5.2" ry="9.9" transform="rotate(56 1838.2 1589.1)"/><ellipse cx="2023.6" cy="1612.5" rx="3.6" ry="6.4" transform="rotate(-24 2023.6 1612.5)"/><ellipse cx="1979.2" cy="1640.1" rx="5.4" ry="5.6" transform="rotate(42 1979.2 1640.1)"/><ellipse cx="1835.2" cy="1675.9" rx="4.8" ry="11.2" transform="rotate(25 1835.2 1675.9)"/><ellipse cx="1908.1" cy="1718.2" rx="5.4" ry="8.3" transform="rotate(12 1908.1 1718.2)"/><ellipse cx="1976.2" cy="1739.2" rx="5.3" ry="8.2" transform="rotate(-31 1976.2 1739.2)"/><ellipse cx="1839.2" cy="1699.8" rx="5.9" ry="6.8" transform="rotate(69 1839.2 1699.8)"/><ellipse cx="1838.1" cy="1724.2" rx="6.6" ry="10.4" transform="rotate(26 1838.1 1724.2)"/><ellipse cx="1811.0" cy="1568.1" rx="5.2" ry="6.4" transform="rotate(-25 1811.0 1568.1)"/><ellipse cx="1773.0" cy="1563.5" rx="6.1" ry="7.8" transform="rotate(-43 1773.0 1563.5)"/><ellipse cx="1871.0" cy="1783.7" rx="4.0" ry="8.3" transform="rotate(-53 1871.0 1783.7)"/><ellipse cx="1860.8" cy="1643.6" rx="5.8" ry="11.3" transform="rotate(16 1860.8 1643.6)"/><ellipse cx="1728.5" cy="1567.4" rx="6.0" ry="7.6" transform="rotate(52 1728.5 1567.4)"/><ellipse cx="1831.5" cy="1526.1" rx="5.7" ry="4.5" transform="rotate(14 1831.5 1526.1)"/><ellipse cx="1960.5" cy="1729.1" rx="6.7" ry="7.4" transform="rotate(46 1960.5 1729.1)"/><ellipse cx="1942.6" cy="1575.4" rx="5.2" ry="10.4" transform="rotate(-45 1942.6 1575.4)"/><ellipse cx="1966.0" cy="1767.7" rx="4.0" ry="5.2" transform="rotate(-63 1966.0 1767.7)"/><ellipse cx="1919.4" cy="1602.5" rx="8.3" ry="8.0" transform="rotate(-8 1919.4 1602.5)"/><ellipse cx="1843.1" cy="1549.3" rx="3.7" ry="4.6" transform="rotate(60 1843.1 1549.3)"/><ellipse cx="1957.8" cy="1693.3" rx="5.5" ry="9.7" transform="rotate(-11 1957.8 1693.3)"/><ellipse cx="1882.3" cy="1740.6" rx="4.4" ry="6.4" transform="rotate(16 1882.3 1740.6)"/><ellipse cx="1942.4" cy="1732.5" rx="4.9" ry="9.7" transform="rotate(57 1942.4 1732.5)"/><ellipse cx="1982.8" cy="1465.7" rx="4.3" ry="5.6" transform="rotate(-9 1982.8 1465.7)"/><ellipse cx="1982.8" cy="1619.9" rx="4.2" ry="8.2" transform="rotate(-15 1982.8 1619.9)"/><ellipse cx="1879.5" cy="1628.5" rx="8.1" ry="7.1" transform="rotate(48 1879.5 1628.5)"/><ellipse cx="1922.0" cy="1697.4" rx="7.6" ry="10.0" transform="rotate(-48 1922.0 1697.4)"/><ellipse cx="1903.7" cy="1553.5" rx="5.3" ry="6.3" transform="rotate(1 1903.7 1553.5)"/><ellipse cx="1840.8" cy="1568.2" rx="6.0" ry="6.7" transform="rotate(26 1840.8 1568.2)"/><ellipse cx="1926.6" cy="1619.9" rx="5.7" ry="9.7" transform="rotate(68 1926.6 1619.9)"/><ellipse cx="1869.5" cy="1716.8" rx="5.5" ry="9.8" transform="rotate(-4 1869.5 1716.8)"/><ellipse cx="1814.8" cy="1531.5" rx="5.3" ry="5.3" transform="rotate(24 1814.8 1531.5)"/><ellipse cx="1962.6" cy="1644.7" rx="6.7" ry="7.4" transform="rotate(67 1962.6 1644.7)"/><ellipse cx="1748.8" cy="1578.4" rx="5.3" ry="7.9" transform="rotate(-46 1748.8 1578.4)"/><ellipse cx="1873.1" cy="1766.1" rx="3.9" ry="7.1" transform="rotate(-15 1873.1 1766.1)"/><ellipse cx="1937.0" cy="1553.2" rx="4.7" ry="5.0" transform="rotate(-54 1937.0 1553.2)"/><ellipse cx="1858.2" cy="1794.9" rx="5.4" ry="5.4" transform="rotate(-3 1858.2 1794.9)"/><ellipse cx="1886.2" cy="1799.1" rx="4.7" ry="5.8" transform="rotate(8 1886.2 1799.1)"/><ellipse cx="1881.6" cy="1698.1" rx="5.8" ry="6.8" transform="rotate(44 1881.6 1698.1)"/><ellipse cx="1768.9" cy="1497.5" rx="4.1" ry="7.5" transform="rotate(-15 1768.9 1497.5)"/><ellipse cx="1824.9" cy="1557.2" rx="5.5" ry="6.9" transform="rotate(-18 1824.9 1557.2)"/><ellipse cx="1999.9" cy="1625.8" rx="3.7" ry="6.7" transform="rotate(5 1999.9 1625.8)"/><ellipse cx="1990.8" cy="1829.9" rx="5.3" ry="8.8" transform="rotate(-27 1990.8 1829.9)"/><ellipse cx="2060.8" cy="1709.8" rx="5.0" ry="8.6" transform="rotate(-18 2060.8 1709.8)"/><ellipse cx="1990.8" cy="1732.1" rx="5.1" ry="5.4" transform="rotate(-37 1990.8 1732.1)"/><ellipse cx="1904.3" cy="1501.7" rx="5.4" ry="5.0" transform="rotate(61 1904.3 1501.7)"/><ellipse cx="1987.0" cy="1705.5" rx="5.5" ry="5.7" transform="rotate(10 1987.0 1705.5)"/><ellipse cx="1979.8" cy="1487.4" rx="6.1" ry="5.6" transform="rotate(-68 1979.8 1487.4)"/><ellipse cx="1758.2" cy="1594.6" rx="5.6" ry="4.6" transform="rotate(-41 1758.2 1594.6)"/><ellipse cx="1962.1" cy="1485.1" rx="5.4" ry="8.0" transform="rotate(-39 1962.1 1485.1)"/><ellipse cx="1920.9" cy="1669.8" rx="4.8" ry="12.1" transform="rotate(-38 1920.9 1669.8)"/><ellipse cx="2015.2" cy="1707.9" rx="5.9" ry="5.9" transform="rotate(-53 2015.2 1707.9)"/><ellipse cx="1901.9" cy="1668.6" rx="6.0" ry="7.2" transform="rotate(14 1901.9 1668.6)"/><ellipse cx="1905.3" cy="1644.1" rx="6.7" ry="7.6" transform="rotate(-56 1905.3 1644.1)"/><ellipse cx="1942.6" cy="1589.9" rx="4.5" ry="7.6" transform="rotate(-2 1942.6 1589.9)"/><ellipse cx="1980.3" cy="1520.1" rx="5.2" ry="8.6" transform="rotate(-16 1980.3 1520.1)"/><ellipse cx="1987.2" cy="1661.9" rx="6.7" ry="5.4" transform="rotate(51 1987.2 1661.9)"/><ellipse cx="1780.6" cy="1588.1" rx="5.8" ry="5.7" transform="rotate(-12 1780.6 1588.1)"/><ellipse cx="1948.4" cy="1745.1" rx="5.1" ry="6.5" transform="rotate(26 1948.4 1745.1)"/><ellipse cx="1993.2" cy="1853.4" rx="6.1" ry="5.1" transform="rotate(68 1993.2 1853.4)"/><ellipse cx="2073.1" cy="1739.4" rx="4.4" ry="8.0" transform="rotate(-24 2073.1 1739.4)"/><ellipse cx="1995.8" cy="1798.7" rx="3.5" ry="5.4" transform="rotate(53 1995.8 1798.7)"/><ellipse cx="1975.0" cy="1690.5" rx="5.8" ry="5.7" transform="rotate(-33 1975.0 1690.5)"/><ellipse cx="1949.8" cy="1602.7" rx="7.0" ry="6.6" transform="rotate(-42 1949.8 1602.7)"/><ellipse cx="1972.8" cy="1662.8" rx="5.4" ry="5.3" transform="rotate(30 1972.8 1662.8)"/><ellipse cx="1891.5" cy="1490.3" rx="4.6" ry="6.6" transform="rotate(53 1891.5 1490.3)"/><ellipse cx="1832.9" cy="1603.8" rx="7.0" ry="9.5" transform="rotate(60 1832.9 1603.8)"/><ellipse cx="1810.6" cy="1640.4" rx="6.0" ry="10.3" transform="rotate(-18 1810.6 1640.4)"/><ellipse cx="1926.7" cy="1563.0" rx="5.7" ry="8.2" transform="rotate(44 1926.7 1563.0)"/><ellipse cx="2004.7" cy="1676.8" rx="4.1" ry="5.1" transform="rotate(22 2004.7 1676.8)"/><ellipse cx="1886.9" cy="1771.7" rx="3.9" ry="7.7" transform="rotate(5 1886.9 1771.7)"/><ellipse cx="1956.8" cy="1579.1" rx="4.9" ry="5.2" transform="rotate(-47 1956.8 1579.1)"/><ellipse cx="1865.4" cy="1608.2" rx="8.0" ry="7.6" transform="rotate(-48 1865.4 1608.2)"/><ellipse cx="1851.1" cy="1533.4" rx="4.9" ry="7.0" transform="rotate(-69 1851.1 1533.4)"/><ellipse cx="1868.4" cy="1551.8" rx="5.0" ry="8.6" transform="rotate(7 1868.4 1551.8)"/><ellipse cx="1939.2" cy="1648.1" rx="6.3" ry="7.0" transform="rotate(7 1939.2 1648.1)"/><ellipse cx="1906.4" cy="1521.4" rx="4.5" ry="6.9" transform="rotate(-25 1906.4 1521.4)"/><ellipse cx="1882.1" cy="1525.1" rx="4.7" ry="5.3" transform="rotate(-21 1882.1 1525.1)"/><ellipse cx="1869.5" cy="1576.6" rx="5.9" ry="5.6" transform="rotate(-67 1869.5 1576.6)"/><ellipse cx="1885.0" cy="1511.3" rx="4.3" ry="8.1" transform="rotate(-36 1885.0 1511.3)"/><ellipse cx="1839.9" cy="1654.6" rx="8.3" ry="12.1" transform="rotate(14 1839.9 1654.6)"/><ellipse cx="1977.3" cy="1812.4" rx="5.9" ry="7.5" transform="rotate(-29 1977.3 1812.4)"/><ellipse cx="1926.1" cy="1653.9" rx="6.2" ry="7.6" transform="rotate(-29 1926.1 1653.9)"/><ellipse cx="1825.4" cy="1653.7" rx="5.5" ry="7.0" transform="rotate(1 1825.4 1653.7)"/><ellipse cx="1996.4" cy="1643.9" rx="6.0" ry="6.9" transform="rotate(42 1996.4 1643.9)"/><ellipse cx="1909.5" cy="1735.9" rx="6.4" ry="8.9" transform="rotate(0 1909.5 1735.9)"/><ellipse cx="1906.7" cy="1700.8" rx="4.9" ry="11.8" transform="rotate(-65 1906.7 1700.8)"/><ellipse cx="1971.7" cy="1455.6" rx="3.5" ry="7.3" transform="rotate(-45 1971.7 1455.6)"/><ellipse cx="1738.4" cy="1588.0" rx="3.5" ry="6.2" transform="rotate(39 1738.4 1588.0)"/><ellipse cx="1811.2" cy="1670.3" rx="4.1" ry="6.0" transform="rotate(46 1811.2 1670.3)"/><ellipse cx="1884.9" cy="1592.4" rx="4.2" ry="10.3" transform="rotate(64 1884.9 1592.4)"/><ellipse cx="2012.4" cy="1831.5" rx="6.1" ry="8.5" transform="rotate(48 2012.4 1831.5)"/><ellipse cx="1870.9" cy="1659.9" rx="6.5" ry="12.0" transform="rotate(24 1870.9 1659.9)"/><ellipse cx="1898.1" cy="1629.0" rx="8.1" ry="7.0" transform="rotate(-59 1898.1 1629.0)"/><ellipse cx="1950.8" cy="1664.3" rx="5.7" ry="12.3" transform="rotate(22 1950.8 1664.3)"/><ellipse cx="1820.3" cy="1695.6" rx="5.7" ry="8.9" transform="rotate(5 1820.3 1695.6)"/><ellipse cx="1890.9" cy="1652.3" rx="8.1" ry="11.7" transform="rotate(65 1890.9 1652.3)"/><ellipse cx="1973.0" cy="1605.1" rx="6.5" ry="7.8" transform="rotate(-48 1973.0 1605.1)"/><ellipse cx="1875.8" cy="1500.3" rx="3.6" ry="7.2" transform="rotate(45 1875.8 1500.3)"/><ellipse cx="1923.5" cy="1540.7" rx="4.2" ry="6.3" transform="rotate(-45 1923.5 1540.7)"/><ellipse cx="1967.6" cy="1505.6" rx="5.7" ry="6.5" transform="rotate(2 1967.6 1505.6)"/><ellipse cx="1924.8" cy="1740.5" rx="5.4" ry="6.1" transform="rotate(-13 1924.8 1740.5)"/><ellipse cx="2001.8" cy="1464.6" rx="5.7" ry="7.1" transform="rotate(0 2001.8 1464.6)"/><ellipse cx="1994.8" cy="1501.2" rx="5.4" ry="6.6" transform="rotate(-38 1994.8 1501.2)"/><ellipse cx="1812.2" cy="1623.2" rx="4.7" ry="6.5" transform="rotate(13 1812.2 1623.2)"/><ellipse cx="1877.3" cy="1642.6" rx="7.5" ry="11.6" transform="rotate(29 1877.3 1642.6)"/><ellipse cx="1881.6" cy="1608.2" rx="6.1" ry="10.3" transform="rotate(-22 1881.6 1608.2)"/><ellipse cx="1854.5" cy="1730.8" rx="4.2" ry="6.5" transform="rotate(-65 1854.5 1730.8)"/><ellipse cx="1930.4" cy="1714.4" rx="7.2" ry="9.5" transform="rotate(-42 1930.4 1714.4)"/><ellipse cx="2042.0" cy="1736.8" rx="4.2" ry="8.7" transform="rotate(8 2042.0 1736.8)"/><ellipse cx="1772.6" cy="1531.0" rx="4.6" ry="8.4" transform="rotate(38 1772.6 1531.0)"/><ellipse cx="1780.9" cy="1485.7" rx="4.2" ry="8.7" transform="rotate(13 1780.9 1485.7)"/><ellipse cx="1864.0" cy="1695.3" rx="5.3" ry="7.0" transform="rotate(-61 1864.0 1695.3)"/><ellipse cx="1897.4" cy="1689.5" rx="6.4" ry="6.6" transform="rotate(60 1897.4 1689.5)"/><ellipse cx="1986.6" cy="1783.8" rx="5.2" ry="8.0" transform="rotate(7 1986.6 1783.8)"/><ellipse cx="1887.2" cy="1472.9" rx="4.9" ry="8.0" transform="rotate(-62 1887.2 1472.9)"/><ellipse cx="1960.3" cy="1617.2" rx="6.9" ry="9.1" transform="rotate(-20 1960.3 1617.2)"/><ellipse cx="1957.7" cy="1561.5" rx="6.1" ry="6.2" transform="rotate(2 1957.7 1561.5)"/><ellipse cx="2008.6" cy="1594.6" rx="5.0" ry="5.6" transform="rotate(-1 2008.6 1594.6)"/><ellipse cx="1759.8" cy="1568.9" rx="5.1" ry="7.4" transform="rotate(-14 1759.8 1568.9)"/><ellipse cx="2008.6" cy="1859.0" rx="5.3" ry="6.5" transform="rotate(-56 2008.6 1859.0)"/><ellipse cx="1995.1" cy="1480.7" rx="5.2" ry="4.8" transform="rotate(44 1995.1 1480.7)"/><ellipse cx="1896.8" cy="1604.9" rx="6.8" ry="7.6" transform="rotate(-35 1896.8 1604.9)"/><ellipse cx="2002.6" cy="1819.5" rx="5.8" ry="6.3" transform="rotate(18 2002.6 1819.5)"/><ellipse cx="1792.3" cy="1575.4" rx="6.0" ry="6.0" transform="rotate(-7 1792.3 1575.4)"/><ellipse cx="1992.6" cy="1599.8" rx="5.9" ry="7.9" transform="rotate(61 1992.6 1599.8)"/><ellipse cx="1954.9" cy="1707.5" rx="4.0" ry="5.8" transform="rotate(-47 1954.9 1707.5)"/><ellipse cx="1916.2" cy="1580.7" rx="6.7" ry="5.5" transform="rotate(-29 1916.2 1580.7)"/><ellipse cx="1963.4" cy="1470.3" rx="4.5" ry="5.6" transform="rotate(-58 1963.4 1470.3)"/><ellipse cx="1856.1" cy="1660.9" rx="8.2" ry="11.2" transform="rotate(-38 1856.1 1660.9)"/><ellipse cx="1891.8" cy="1716.1" rx="8.2" ry="8.4" transform="rotate(-24 1891.8 1716.1)"/><ellipse cx="1856.5" cy="1570.4" rx="3.6" ry="8.8" transform="rotate(28 1856.5 1570.4)"/><ellipse cx="1800.4" cy="1535.7" rx="5.3" ry="6.1" transform="rotate(-5 1800.4 1535.7)"/><ellipse cx="1942.7" cy="1619.1" rx="6.7" ry="7.3" transform="rotate(-68 1942.7 1619.1)"/><ellipse cx="1889.7" cy="1546.4" rx="5.2" ry="6.4" transform="rotate(-65 1889.7 1546.4)"/><ellipse cx="1940.9" cy="1697.1" rx="8.4" ry="6.3" transform="rotate(4 1940.9 1697.1)"/><ellipse cx="1836.1" cy="1636.7" rx="5.9" ry="7.2" transform="rotate(-49 1836.1 1636.7)"/><ellipse cx="1928.6" cy="1590.5" rx="5.9" ry="8.0" transform="rotate(-2 1928.6 1590.5)"/><ellipse cx="1979.9" cy="1838.8" rx="5.7" ry="6.8" transform="rotate(3 1979.9 1838.8)"/><ellipse cx="2057.2" cy="1735.7" rx="4.3" ry="7.6" transform="rotate(-27 2057.2 1735.7)"/><ellipse cx="2009.1" cy="1481.7" rx="5.8" ry="8.6" transform="rotate(21 2009.1 1481.7)"/><ellipse cx="1864.0" cy="1813.4" rx="6.0" ry="4.7" transform="rotate(10 1864.0 1813.4)"/><ellipse cx="1986.1" cy="1677.5" rx="4.2" ry="6.2" transform="rotate(-69 1986.1 1677.5)"/><ellipse cx="1919.5" cy="1636.1" rx="7.2" ry="12.2" transform="rotate(58 1919.5 1636.1)"/><ellipse cx="1776.2" cy="1517.4" rx="3.8" ry="7.7" transform="rotate(-9 1776.2 1517.4)"/><ellipse cx="1876.9" cy="1484.4" rx="3.6" ry="4.9" transform="rotate(69 1876.9 1484.4)"/><ellipse cx="1846.1" cy="1622.2" rx="5.1" ry="7.0" transform="rotate(68 1846.1 1622.2)"/><ellipse cx="1995.2" cy="1718.1" rx="5.4" ry="4.8" transform="rotate(-17 1995.2 1718.1)"/><ellipse cx="2010.6" cy="1690.5" rx="3.7" ry="4.8" transform="rotate(-28 2010.6 1690.5)"/><ellipse cx="1903.7" cy="1591.3" rx="4.8" ry="10.2" transform="rotate(52 1903.7 1591.3)"/><ellipse cx="1818.0" cy="1604.8" rx="4.8" ry="7.2" transform="rotate(36 1818.0 1604.8)"/><ellipse cx="1964.4" cy="1751.8" rx="4.2" ry="5.9" transform="rotate(-39 1964.4 1751.8)"/><ellipse cx="1868.3" cy="1734.2" rx="5.3" ry="5.6" transform="rotate(-43 1868.3 1734.2)"/><ellipse cx="1978.9" cy="1723.9" rx="5.0" ry="6.1" transform="rotate(-50 1978.9 1723.9)"/><ellipse cx="2079.3" cy="1757.4" rx="3.8" ry="8.7" transform="rotate(-69 2079.3 1757.4)"/><ellipse cx="2001.4" cy="1705.2" rx="4.2" ry="5.3" transform="rotate(-57 2001.4 1705.2)"/><ellipse cx="1815.2" cy="1583.4" rx="5.1" ry="6.9" transform="rotate(18 1815.2 1583.4)"/><ellipse cx="1888.6" cy="1576.6" rx="5.6" ry="8.0" transform="rotate(-35 1888.6 1576.6)"/><ellipse cx="2041.0" cy="1700.8" rx="5.9" ry="8.9" transform="rotate(-4 2041.0 1700.8)"/><ellipse cx="1894.4" cy="1732.2" rx="6.3" ry="7.4" transform="rotate(-23 1894.4 1732.2)"/><ellipse cx="2003.3" cy="1783.3" rx="4.7" ry="4.7" transform="rotate(61 2003.3 1783.3)"/><ellipse cx="1860.6" cy="1588.9" rx="4.0" ry="9.9" transform="rotate(59 1860.6 1588.9)"/><ellipse cx="1851.7" cy="1677.8" rx="5.7" ry="8.5" transform="rotate(67 1851.7 1677.8)"/><ellipse cx="1899.1" cy="1534.9" rx="3.5" ry="4.6" transform="rotate(47 1899.1 1534.9)"/><ellipse cx="1754.9" cy="1519.8" rx="4.7" ry="7.1" transform="rotate(30 1754.9 1519.8)"/><ellipse cx="1972.9" cy="1573.6" rx="5.4" ry="6.0" transform="rotate(-9 1972.9 1573.6)"/><ellipse cx="1856.3" cy="1780.1" rx="3.9" ry="5.4" transform="rotate(-64 1856.3 1780.1)"/><ellipse cx="1935.3" cy="1606.0" rx="6.8" ry="12.1" transform="rotate(-28 1935.3 1606.0)"/><ellipse cx="1896.2" cy="1749.1" rx="4.6" ry="6.8" transform="rotate(-36 1896.2 1749.1)"/><ellipse cx="1719.3" cy="1583.9" rx="4.0" ry="8.1" transform="rotate(-69 1719.3 1583.9)"/><ellipse cx="1887.0" cy="1672.8" rx="5.0" ry="9.4" transform="rotate(-21 1887.0 1672.8)"/><ellipse cx="1908.9" cy="1615.7" rx="7.0" ry="12.0" transform="rotate(22 1908.9 1615.7)"/><ellipse cx="2009.5" cy="1498.6" rx="5.6" ry="9.0" transform="rotate(-22 2009.5 1498.6)"/><ellipse cx="1969.1" cy="1703.8" rx="6.7" ry="6.1" transform="rotate(12 1969.1 1703.8)"/><ellipse cx="1914.1" cy="1685.1" rx="6.8" ry="11.5" transform="rotate(40 1914.1 1685.1)"/><ellipse cx="1793.7" cy="1522.0" rx="4.2" ry="9.0" transform="rotate(6 1793.7 1522.0)"/><ellipse cx="1880.5" cy="1814.1" rx="4.2" ry="6.1" transform="rotate(49 1880.5 1814.1)"/><ellipse cx="1851.7" cy="1600.4" rx="5.2" ry="10.2" transform="rotate(3 1851.7 1600.4)"/><ellipse cx="2021.8" cy="1722.5" rx="4.3" ry="4.6" transform="rotate(-61 2021.8 1722.5)"/><ellipse cx="1995.3" cy="1690.3" rx="5.2" ry="5.1" transform="rotate(-31 1995.3 1690.3)"/><ellipse cx="2025.4" cy="1695.4" rx="3.6" ry="8.6" transform="rotate(-46 2025.4 1695.4)"/><ellipse cx="1790.6" cy="1547.2" rx="5.6" ry="6.6" transform="rotate(52 1790.6 1547.2)"/><ellipse cx="2003.2" cy="1610.4" rx="3.9" ry="8.2" transform="rotate(69 2003.2 1610.4)"/><ellipse cx="1852.1" cy="1710.4" rx="6.8" ry="9.5" transform="rotate(-17 1852.1 1710.4)"/><ellipse cx="1950.4" cy="1635.5" rx="8.1" ry="11.5" transform="rotate(55 1950.4 1635.5)"/><ellipse cx="1859.1" cy="1761.2" rx="6.0" ry="6.6" transform="rotate(49 1859.1 1761.2)"/><ellipse cx="1885.6" cy="1562.8" rx="4.0" ry="5.2" transform="rotate(37 1885.6 1562.8)"/><ellipse cx="1828.6" cy="1712.0" rx="5.8" ry="6.1" transform="rotate(-3 1828.6 1712.0)"/><ellipse cx="2022.7" cy="1848.8" rx="5.7" ry="6.1" transform="rotate(60 2022.7 1848.8)"/><ellipse cx="1768.0" cy="1581.4" rx="5.3" ry="5.2" transform="rotate(-7 1768.0 1581.4)"/><ellipse cx="1905.5" cy="1484.7" rx="5.6" ry="8.6" transform="rotate(7 1905.5 1484.7)"/></g>
<ellipse cx="1898.4" cy="1665.4" rx="52.0" ry="60.0" fill="#f4fff8" opacity="0.55" transform="rotate(-20 1898.4 1665.4)" filter="url(#b16)"/>
<g fill="#8dffa8" opacity="0.8" filter="url(#b1)" clip-path="url(#cp4)"><ellipse cx="2107.8" cy="1489.0" rx="3.2" ry="4.0"/><ellipse cx="2114.7" cy="1487.1" rx="3.2" ry="3.8"/><ellipse cx="2111.8" cy="1480.0" rx="4.5" ry="7.0"/><ellipse cx="2067.5" cy="1464.4" rx="3.8" ry="5.4"/><ellipse cx="2083.9" cy="1436.8" rx="4.7" ry="4.1"/><ellipse cx="2068.3" cy="1443.8" rx="5.9" ry="5.2"/><ellipse cx="2081.1" cy="1524.2" rx="5.8" ry="3.2"/><ellipse cx="2077.8" cy="1451.4" rx="5.1" ry="3.3"/><ellipse cx="2075.3" cy="1440.9" rx="4.1" ry="7.0"/><ellipse cx="2117.2" cy="1488.6" rx="4.5" ry="4.4"/><ellipse cx="2089.0" cy="1502.2" rx="5.1" ry="6.1"/><ellipse cx="2088.0" cy="1442.4" rx="4.9" ry="5.7"/><ellipse cx="2055.3" cy="1447.0" rx="5.1" ry="3.4"/><ellipse cx="2079.9" cy="1513.8" rx="4.5" ry="5.1"/><ellipse cx="2083.3" cy="1466.3" rx="4.5" ry="5.6"/><ellipse cx="2076.0" cy="1468.9" rx="3.2" ry="6.3"/><ellipse cx="2104.9" cy="1466.5" rx="4.6" ry="4.3"/><ellipse cx="2059.2" cy="1467.6" rx="4.5" ry="4.4"/><ellipse cx="2100.4" cy="1446.0" rx="3.1" ry="5.8"/><ellipse cx="2076.0" cy="1440.8" rx="4.3" ry="4.9"/><ellipse cx="2070.5" cy="1517.0" rx="5.3" ry="6.9"/><ellipse cx="2065.9" cy="1485.4" rx="4.5" ry="3.8"/><ellipse cx="2093.3" cy="1522.1" rx="4.8" ry="4.1"/><ellipse cx="2080.2" cy="1523.2" rx="5.2" ry="3.1"/><ellipse cx="2063.7" cy="1441.0" rx="4.9" ry="3.3"/><ellipse cx="2106.5" cy="1488.0" rx="6.0" ry="6.2"/></g>
<rect x="1675" y="1403" width="443.5" height="446.5" filter="url(#grain)" opacity="0.10"/>
</g>
<g clip-path="url(#cp5)">
<rect x="1236" y="1850" width="438" height="443" fill="#0a2215"/>
<ellipse cx="1474.1" cy="2147.6" rx="150.0" ry="150.0" fill="#12402a" opacity="0.8" filter="url(#b32)"/>
<ellipse cx="1355.0" cy="2064.3" rx="70.0" ry="120.0" fill="#0d3020" opacity="0.6" filter="url(#b32)"/>
<path d="M1474,1864L1576,1860L1575,2148L1567,2212L1474,2164L1450,2088L1446,1969z" fill="#24904a" opacity="0.92" filter="url(#b8)"/>
<path d="M1474,2167L1569,2179L1565,2293L1446,2293z" fill="#164a2a" opacity="0.75" filter="url(#b8)"/>
<path d="M1579,1864L1676,1864L1676,2160L1579,2160z" fill="#0d3a20" opacity="0.6" filter="url(#b8)"/>
<ellipse cx="1236.0" cy="1850.0" rx="95.0" ry="95.0" fill="#03100a" opacity="0.75" filter="url(#b32)"/>
<ellipse cx="1236.0" cy="2294.0" rx="95.0" ry="95.0" fill="#03100a" opacity="0.75" filter="url(#b32)"/>
<ellipse cx="1676.0" cy="2294.0" rx="95.0" ry="95.0" fill="#03100a" opacity="0.75" filter="url(#b32)"/>
<ellipse cx="1676.0" cy="1850.0" rx="95.0" ry="95.0" fill="#03100a" opacity="0.75" filter="url(#b32)"/>
<ellipse cx="1271.7" cy="2064.3" rx="40.0" ry="200.0" fill="#06180e" opacity="0.5" filter="url(#b32)"/>
<path d="M1588,1876Q1667,1884 1667,1950T1655,2088" fill="none" stroke="#1f9444" stroke-width="11" opacity="0.55" filter="url(#b4)"/>
<path d="M1391,1881Q1416,1857 1474,1864" fill="none" stroke="#1a6a34" stroke-width="8" opacity="0.5" filter="url(#b4)"/>
<g fill="#35e062" opacity="0.62" filter="url(#b4)"><ellipse cx="1460.8" cy="2066.4" rx="3.6" ry="8.4" transform="rotate(20 1460.8 2066.4)"/><ellipse cx="1548.4" cy="2026.2" rx="4.2" ry="6.1" transform="rotate(20 1548.4 2026.2)"/><ellipse cx="1534.5" cy="2069.4" rx="5.7" ry="7.2" transform="rotate(20 1534.5 2069.4)"/><ellipse cx="1495.5" cy="1958.8" rx="5.9" ry="6.6" transform="rotate(20 1495.5 1958.8)"/><ellipse cx="1512.6" cy="2003.3" rx="5.5" ry="4.2" transform="rotate(20 1512.6 2003.3)"/><ellipse cx="1477.2" cy="2018.0" rx="5.3" ry="9.0" transform="rotate(20 1477.2 2018.0)"/><ellipse cx="1456.4" cy="1924.4" rx="5.0" ry="8.5" transform="rotate(20 1456.4 1924.4)"/><ellipse cx="1473.0" cy="2029.7" rx="4.6" ry="5.8" transform="rotate(20 1473.0 2029.7)"/><ellipse cx="1547.1" cy="1899.7" rx="6.7" ry="5.9" transform="rotate(20 1547.1 1899.7)"/><ellipse cx="1492.6" cy="1918.7" rx="4.9" ry="9.1" transform="rotate(20 1492.6 1918.7)"/><ellipse cx="1476.1" cy="1988.1" rx="4.8" ry="5.8" transform="rotate(20 1476.1 1988.1)"/><ellipse cx="1465.5" cy="2016.5" rx="4.7" ry="6.8" transform="rotate(20 1465.5 2016.5)"/><ellipse cx="1520.6" cy="1899.7" rx="6.3" ry="9.3" transform="rotate(20 1520.6 1899.7)"/><ellipse cx="1480.0" cy="2039.8" rx="5.8" ry="5.8" transform="rotate(20 1480.0 2039.8)"/><ellipse cx="1481.8" cy="1895.2" rx="4.7" ry="6.7" transform="rotate(20 1481.8 1895.2)"/><ellipse cx="1507.1" cy="1973.7" rx="5.2" ry="4.7" transform="rotate(20 1507.1 1973.7)"/><ellipse cx="1476.5" cy="1989.1" rx="4.9" ry="5.0" transform="rotate(20 1476.5 1989.1)"/><ellipse cx="1482.6" cy="2072.1" rx="6.2" ry="8.4" transform="rotate(20 1482.6 2072.1)"/><ellipse cx="1491.7" cy="1961.3" rx="5.8" ry="7.4" transform="rotate(20 1491.7 1961.3)"/><ellipse cx="1525.0" cy="1885.6" rx="5.9" ry="5.2" transform="rotate(20 1525.0 1885.6)"/><ellipse cx="1488.5" cy="1983.5" rx="6.8" ry="6.4" transform="rotate(20 1488.5 1983.5)"/><ellipse cx="1525.7" cy="1919.8" rx="6.8" ry="5.5" transform="rotate(20 1525.7 1919.8)"/><ellipse cx="1513.4" cy="2013.1" rx="5.8" ry="6.7" transform="rotate(20 1513.4 2013.1)"/><ellipse cx="1525.8" cy="1880.6" rx="6.9" ry="7.4" transform="rotate(20 1525.8 1880.6)"/><ellipse cx="1519.7" cy="1928.8" rx="4.9" ry="7.9" transform="rotate(20 1519.7 1928.8)"/><ellipse cx="1498.4" cy="1902.6" rx="3.8" ry="9.2" transform="rotate(20 1498.4 1902.6)"/><ellipse cx="1474.3" cy="1980.2" rx="5.8" ry="5.3" transform="rotate(20 1474.3 1980.2)"/><ellipse cx="1544.5" cy="1972.6" rx="6.8" ry="5.2" transform="rotate(20 1544.5 1972.6)"/><ellipse cx="1499.9" cy="1950.2" rx="4.1" ry="6.6" transform="rotate(20 1499.9 1950.2)"/><ellipse cx="1500.1" cy="1956.5" rx="6.5" ry="6.0" transform="rotate(20 1500.1 1956.5)"/><ellipse cx="1456.8" cy="2026.8" rx="4.7" ry="4.2" transform="rotate(20 1456.8 2026.8)"/><ellipse cx="1538.3" cy="2022.0" rx="5.6" ry="8.9" transform="rotate(20 1538.3 2022.0)"/><ellipse cx="1481.7" cy="2044.7" rx="4.5" ry="9.2" transform="rotate(20 1481.7 2044.7)"/><ellipse cx="1566.8" cy="1988.1" rx="4.7" ry="8.4" transform="rotate(20 1566.8 1988.1)"/><ellipse cx="1534.2" cy="1978.4" rx="3.3" ry="6.1" transform="rotate(20 1534.2 1978.4)"/><ellipse cx="1529.7" cy="1881.3" rx="4.6" ry="9.5" transform="rotate(20 1529.7 1881.3)"/><ellipse cx="1533.7" cy="1930.0" rx="3.5" ry="7.4" transform="rotate(20 1533.7 1930.0)"/><ellipse cx="1522.1" cy="1935.2" rx="5.1" ry="10.0" transform="rotate(20 1522.1 1935.2)"/><ellipse cx="1526.1" cy="1985.8" rx="3.3" ry="6.8" transform="rotate(20 1526.1 1985.8)"/><ellipse cx="1452.9" cy="2069.0" rx="5.1" ry="7.6" transform="rotate(20 1452.9 2069.0)"/><ellipse cx="1529.7" cy="1886.5" rx="6.3" ry="8.2" transform="rotate(20 1529.7 1886.5)"/><ellipse cx="1458.7" cy="2059.3" rx="6.5" ry="9.9" transform="rotate(20 1458.7 2059.3)"/><ellipse cx="1461.1" cy="2059.5" rx="6.1" ry="5.5" transform="rotate(20 1461.1 2059.5)"/><ellipse cx="1459.6" cy="2012.3" rx="3.3" ry="7.3" transform="rotate(20 1459.6 2012.3)"/><ellipse cx="1544.3" cy="1956.9" rx="4.3" ry="6.5" transform="rotate(20 1544.3 1956.9)"/><ellipse cx="1463.6" cy="1890.9" rx="5.3" ry="8.9" transform="rotate(20 1463.6 1890.9)"/><ellipse cx="1566.0" cy="1899.1" rx="4.2" ry="8.9" transform="rotate(20 1566.0 1899.1)"/><ellipse cx="1484.3" cy="2030.4" rx="6.8" ry="9.2" transform="rotate(20 1484.3 2030.4)"/><ellipse cx="1523.1" cy="2022.5" rx="6.4" ry="4.8" transform="rotate(20 1523.1 2022.5)"/><ellipse cx="1489.6" cy="2023.6" rx="4.9" ry="8.6" transform="rotate(20 1489.6 2023.6)"/><ellipse cx="1564.0" cy="2021.7" rx="5.4" ry="8.3" transform="rotate(20 1564.0 2021.7)"/><ellipse cx="1558.4" cy="1898.0" rx="3.2" ry="8.8" transform="rotate(20 1558.4 1898.0)"/><ellipse cx="1549.8" cy="2008.7" rx="4.8" ry="5.6" transform="rotate(20 1549.8 2008.7)"/><ellipse cx="1565.1" cy="2017.9" rx="6.9" ry="8.0" transform="rotate(20 1565.1 2017.9)"/><ellipse cx="1550.0" cy="1924.1" rx="5.9" ry="4.6" transform="rotate(20 1550.0 1924.1)"/><ellipse cx="1488.4" cy="1967.2" rx="5.1" ry="10.0" transform="rotate(20 1488.4 1967.2)"/><ellipse cx="1523.8" cy="1899.8" rx="6.2" ry="8.6" transform="rotate(20 1523.8 1899.8)"/><ellipse cx="1547.1" cy="2063.3" rx="6.1" ry="7.1" transform="rotate(20 1547.1 2063.3)"/><ellipse cx="1527.9" cy="1889.4" rx="4.5" ry="6.4" transform="rotate(20 1527.9 1889.4)"/><ellipse cx="1536.2" cy="1890.7" rx="3.8" ry="5.4" transform="rotate(20 1536.2 1890.7)"/><ellipse cx="1473.7" cy="1972.0" rx="7.0" ry="6.0" transform="rotate(20 1473.7 1972.0)"/><ellipse cx="1458.2" cy="1882.0" rx="6.0" ry="6.4" transform="rotate(20 1458.2 1882.0)"/><ellipse cx="1565.4" cy="1927.8" rx="6.9" ry="5.9" transform="rotate(20 1565.4 1927.8)"/><ellipse cx="1564.3" cy="2062.8" rx="4.6" ry="4.5" transform="rotate(20 1564.3 2062.8)"/><ellipse cx="1522.7" cy="1994.3" rx="5.5" ry="4.9" transform="rotate(20 1522.7 1994.3)"/><ellipse cx="1548.1" cy="1946.7" rx="4.3" ry="4.4" transform="rotate(20 1548.1 1946.7)"/><ellipse cx="1452.8" cy="1967.3" rx="3.5" ry="5.8" transform="rotate(20 1452.8 1967.3)"/><ellipse cx="1536.3" cy="2027.7" rx="4.8" ry="5.3" transform="rotate(20 1536.3 2027.7)"/><ellipse cx="1523.5" cy="1954.6" rx="6.9" ry="8.6" transform="rotate(20 1523.5 1954.6)"/><ellipse cx="1550.4" cy="1932.1" rx="6.1" ry="6.5" transform="rotate(20 1550.4 1932.1)"/></g>
<ellipse cx="1486.0" cy="2040.5" rx="22.0" ry="60.0" fill="#25b84a" opacity="0.5" transform="rotate(10 1486.0 2040.5)" filter="url(#b8)"/>
<ellipse cx="1512.2" cy="2119.0" rx="74.0" ry="62.0" fill="#1fd048" opacity="0.9" transform="rotate(-10 1512.2 2119.0)" filter="url(#b16)"/>
<ellipse cx="1512.2" cy="2123.8" rx="60.0" ry="46.0" fill="#24da50" opacity="0.9" transform="rotate(-10 1512.2 2123.8)" filter="url(#b8)"/>
<ellipse cx="1505.0" cy="2121.4" rx="38.0" ry="32.0" fill="#48f478" opacity="0.95" filter="url(#b8)"/>
<ellipse cx="1502.7" cy="2117.9" rx="20.0" ry="18.0" fill="#ffffff" filter="url(#b4)"/>
<ellipse cx="1502.7" cy="2117.9" rx="12.0" ry="11.0" fill="#ffffff" filter="url(#b2)"/>
<path d="M1471,2129Q1510,2174 1573,2129" fill="none" stroke="#35ee64" stroke-width="10" opacity="0.8" filter="url(#b4)"/>
<ellipse cx="1400.3" cy="2088.1" rx="46.0" ry="54.0" fill="#1cba46" opacity="0.9" filter="url(#b8)"/>
<ellipse cx="1393.1" cy="2021.4" rx="11.0" ry="44.0" fill="#1aa03c" opacity="0.75" transform="rotate(-12 1393.1 2021.4)" filter="url(#b4)"/>
<ellipse cx="1419.3" cy="2045.2" rx="8.0" ry="26.0" fill="#1aa03c" opacity="0.6" transform="rotate(15 1419.3 2045.2)" filter="url(#b4)"/>
<g fill="#50f474" opacity="0.9" filter="url(#b2)"><ellipse cx="1385.1" cy="2062.8" rx="7.0" ry="5.9"/><ellipse cx="1385.2" cy="2061.4" rx="7.3" ry="5.6"/><ellipse cx="1414.1" cy="2114.6" rx="5.7" ry="6.9"/><ellipse cx="1387.3" cy="2106.1" rx="5.9" ry="6.3"/><ellipse cx="1391.1" cy="2090.9" rx="8.5" ry="6.3"/><ellipse cx="1416.3" cy="2118.0" rx="6.6" ry="4.8"/><ellipse cx="1420.6" cy="2095.0" rx="6.1" ry="6.9"/><ellipse cx="1424.7" cy="2110.0" rx="6.8" ry="6.4"/><ellipse cx="1394.0" cy="2074.8" rx="8.3" ry="5.8"/><ellipse cx="1415.3" cy="2060.0" rx="7.1" ry="5.3"/><ellipse cx="1371.8" cy="2113.1" rx="6.8" ry="5.4"/><ellipse cx="1405.1" cy="2097.7" rx="5.5" ry="4.6"/><ellipse cx="1375.4" cy="2098.8" rx="5.7" ry="6.1"/><ellipse cx="1418.3" cy="2106.4" rx="8.9" ry="5.6"/><ellipse cx="1402.7" cy="2094.7" rx="7.4" ry="5.6"/><ellipse cx="1385.4" cy="2103.2" rx="8.1" ry="5.0"/><ellipse cx="1375.5" cy="2095.2" rx="6.0" ry="5.0"/><ellipse cx="1423.6" cy="2109.6" rx="8.8" ry="5.7"/><ellipse cx="1414.2" cy="2071.8" rx="7.5" ry="5.6"/><ellipse cx="1381.8" cy="2098.7" rx="7.6" ry="4.5"/><ellipse cx="1417.7" cy="2073.9" rx="8.6" ry="4.8"/><ellipse cx="1424.2" cy="2106.4" rx="6.2" ry="4.5"/><ellipse cx="1400.6" cy="2080.4" rx="7.4" ry="5.5"/><ellipse cx="1371.3" cy="2074.8" rx="7.2" ry="6.1"/></g>
<ellipse cx="1386.0" cy="2175.0" rx="17.0" ry="15.0" fill="#22c048" opacity="0.9" filter="url(#b4)"/>
<ellipse cx="1380.0" cy="2172.6" rx="6.0" ry="6.0" fill="#7dff60" opacity="0.9" filter="url(#b2)"/>
<ellipse cx="1392.0" cy="2167.9" rx="6.0" ry="6.0" fill="#60ff70" opacity="0.9" filter="url(#b2)"/>
<ellipse cx="1390.8" cy="2181.0" rx="6.0" ry="5.0" fill="#60ff70" opacity="0.9" filter="url(#b2)"/>
<ellipse cx="1620.5" cy="2069.0" rx="11.0" ry="33.0" fill="#2ad85a" opacity="0.9" transform="rotate(12 1620.5 2069.0)" filter="url(#b4)"/>
<ellipse cx="1655.0" cy="2057.1" rx="6.0" ry="13.0" fill="#1a8a3c" opacity="0.7" transform="rotate(10 1655.0 2057.1)" filter="url(#b4)"/>
<rect x="1236" y="1850" width="438" height="443" filter="url(#grain)" opacity="0.07"/>
</g>
<text x="1244" y="1015" font-size="49" font-weight="bold" fill="#fff" text-anchor="start">I<tspan font-size="33" dy="11">D</tspan><tspan dy="-11">/I</tspan><tspan font-size="33" dy="11">G</tspan><tspan dy="-11">=0.65</tspan></text>
<text x="1691" y="1019.5" font-size="49" font-weight="bold" fill="#fff" text-anchor="start">I<tspan font-size="33" dy="11">D</tspan><tspan dy="-11">/I</tspan><tspan font-size="33" dy="11">G</tspan><tspan dy="-11">=0.36</tspan></text>
<text x="1245.3" y="1465" font-size="49" font-weight="bold" fill="#fff" text-anchor="start">I<tspan font-size="33" dy="11">D</tspan><tspan dy="-11">/I</tspan><tspan font-size="33" dy="11">G</tspan><tspan dy="-11">=0.49</tspan></text>
<text x="1691" y="1448" font-size="49" font-weight="bold" fill="#fff" text-anchor="start">I<tspan font-size="33" dy="11">D</tspan><tspan dy="-11">/I</tspan><tspan font-size="33" dy="11">G</tspan><tspan dy="-11">=0.23</tspan></text>
<text x="1254" y="1911.5" font-size="49" font-weight="bold" fill="#fff" text-anchor="start">I<tspan font-size="33" dy="11">D</tspan><tspan dy="-11">/I</tspan><tspan font-size="33" dy="11">G</tspan><tspan dy="-11">=0.40</tspan></text>
<text x="1148.5" y="1054.0" font-size="112" text-anchor="middle" fill="#000" font-weight="bold" >d</text>
</g>
</svg>
</body></html>
